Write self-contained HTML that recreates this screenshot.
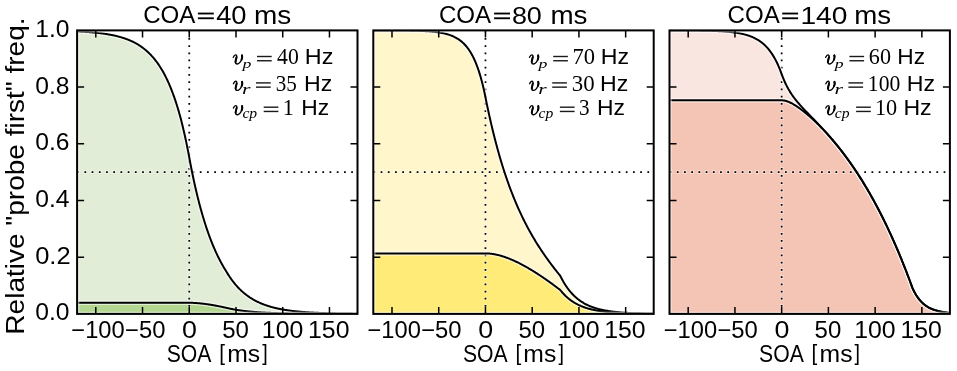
<!DOCTYPE html>
<html><head><meta charset="utf-8"><style>
html,body{margin:0;padding:0;background:#fff;}
svg{display:block;will-change:transform;}
text{font-family:"Liberation Sans",sans-serif;fill:#000;}
.t{font-size:24px;}
.tk{font-size:22px;}
.m{font-size:22px;}
.mi{font-family:"Liberation Serif",serif;font-style:italic;}
.sub{font-family:"Liberation Serif",serif;font-style:italic;font-size:15px;}
.mr{font-family:"Liberation Serif",serif;}
.hz{font-family:"Liberation Sans",sans-serif;}
</style></head><body>
<svg width="957" height="371" viewBox="0 0 957 371">
<clipPath id="c0"><rect x="77.10" y="30.40" width="280.40" height="283.50"/></clipPath>
<g clip-path="url(#c0)"><path d="M77.10,31.45 L77.57,31.47 L78.03,31.49 L78.50,31.51 L78.97,31.53 L79.44,31.56 L79.90,31.58 L80.37,31.60 L80.84,31.63 L81.31,31.65 L81.77,31.68 L82.24,31.70 L82.71,31.73 L83.18,31.76 L83.64,31.78 L84.11,31.81 L84.58,31.84 L85.04,31.87 L85.51,31.90 L85.98,31.93 L86.45,31.96 L86.91,31.99 L87.38,32.02 L87.85,32.06 L88.32,32.09 L88.78,32.12 L89.25,32.16 L89.72,32.20 L90.19,32.23 L90.65,32.27 L91.12,32.31 L91.59,32.34 L92.05,32.38 L92.52,32.42 L92.99,32.46 L93.46,32.51 L93.92,32.55 L94.39,32.59 L94.86,32.64 L95.33,32.68 L95.79,32.73 L96.26,32.78 L96.73,32.82 L97.20,32.87 L97.66,32.92 L98.13,32.97 L98.60,33.02 L99.06,33.08 L99.53,33.13 L100.00,33.19 L100.47,33.24 L100.93,33.30 L101.40,33.36 L101.87,33.42 L102.34,33.48 L102.80,33.54 L103.27,33.61 L103.74,33.67 L104.21,33.74 L104.67,33.80 L105.14,33.87 L105.61,33.94 L106.07,34.01 L106.54,34.09 L107.01,34.16 L107.48,34.24 L107.94,34.32 L108.41,34.40 L108.88,34.48 L109.35,34.56 L109.81,34.64 L110.28,34.73 L110.75,34.82 L111.22,34.90 L111.68,35.00 L112.15,35.09 L112.62,35.18 L113.08,35.28 L113.55,35.38 L114.02,35.48 L114.49,35.58 L114.95,35.69 L115.42,35.79 L115.89,35.90 L116.36,36.01 L116.82,36.13 L117.29,36.24 L117.76,36.36 L118.23,36.48 L118.69,36.60 L119.16,36.73 L119.63,36.86 L120.09,36.99 L120.56,37.12 L121.03,37.26 L121.50,37.39 L121.96,37.54 L122.43,37.68 L122.90,37.83 L123.37,37.98 L123.83,38.13 L124.30,38.29 L124.77,38.45 L125.24,38.61 L125.70,38.77 L126.17,38.94 L126.64,39.12 L127.10,39.29 L127.57,39.47 L128.04,39.65 L128.51,39.84 L128.97,40.03 L129.44,40.23 L129.91,40.42 L130.38,40.63 L130.84,40.83 L131.31,41.04 L131.78,41.26 L132.25,41.48 L132.71,41.70 L133.18,41.93 L133.65,42.16 L134.11,42.40 L134.58,42.64 L135.05,42.89 L135.52,43.14 L135.98,43.40 L136.45,43.66 L136.92,43.93 L137.39,44.21 L137.85,44.48 L138.32,44.77 L138.79,45.06 L139.26,45.36 L139.72,45.66 L140.19,45.97 L140.66,46.28 L141.12,46.60 L141.59,46.93 L142.06,47.26 L142.53,47.60 L142.99,47.95 L143.46,48.30 L143.93,48.67 L144.40,49.04 L144.86,49.41 L145.33,49.80 L145.80,50.19 L146.27,50.59 L146.73,51.00 L147.20,51.41 L147.67,51.84 L148.13,52.27 L148.60,52.71 L149.07,53.16 L149.54,53.62 L150.00,54.09 L150.47,54.57 L150.94,55.06 L151.41,55.56 L151.87,56.06 L152.34,56.58 L152.81,57.11 L153.28,57.65 L153.74,58.20 L154.21,58.76 L154.68,59.34 L155.14,59.92 L155.61,60.52 L156.08,61.12 L156.55,61.75 L157.01,62.38 L157.48,63.02 L157.95,63.68 L158.42,64.36 L158.88,65.04 L159.35,65.74 L159.82,66.46 L160.29,67.18 L160.75,67.93 L161.22,68.69 L161.69,69.46 L162.15,70.25 L162.62,71.05 L163.09,71.87 L163.56,72.71 L164.02,73.57 L164.49,74.44 L164.96,75.33 L165.43,76.24 L165.89,77.16 L166.36,78.11 L166.83,79.07 L167.30,80.05 L167.76,81.06 L168.23,82.08 L168.70,83.12 L169.16,84.19 L169.63,85.28 L170.10,86.38 L170.57,87.52 L171.03,88.67 L171.50,89.85 L171.97,91.05 L172.44,92.27 L172.90,93.52 L173.37,94.80 L173.84,96.10 L174.31,97.43 L174.77,98.78 L175.24,100.16 L175.71,101.57 L176.17,103.01 L176.64,104.47 L177.11,105.97 L177.58,107.50 L178.04,109.06 L178.51,110.64 L178.98,112.27 L179.45,113.92 L179.91,115.61 L180.38,117.33 L180.85,119.08 L181.32,120.87 L181.78,122.70 L182.25,124.57 L182.72,126.47 L183.18,128.41 L183.65,130.39 L184.12,132.41 L184.59,134.47 L185.05,136.57 L185.52,138.72 L185.99,140.91 L186.46,143.14 L186.92,145.42 L187.39,147.74 L187.86,150.11 L188.33,152.53 L188.79,155.00 L189.26,157.51 L189.73,160.03 L190.19,162.51 L190.66,164.95 L191.13,167.35 L191.60,169.71 L192.06,172.03 L192.53,174.32 L193.00,176.56 L193.47,178.77 L193.93,180.95 L194.40,183.09 L194.87,185.19 L195.34,187.26 L195.80,189.30 L196.27,191.30 L196.74,193.27 L197.20,195.21 L197.67,197.12 L198.14,198.99 L198.61,200.84 L199.07,202.66 L199.54,204.45 L200.01,206.20 L200.48,207.94 L200.94,209.64 L201.41,211.32 L201.88,212.97 L202.35,214.59 L202.81,216.19 L203.28,217.76 L203.75,219.31 L204.21,220.83 L204.68,222.33 L205.15,223.80 L205.62,225.26 L206.08,226.69 L206.55,228.09 L207.02,229.48 L207.49,230.84 L207.95,232.18 L208.42,233.51 L208.89,234.81 L209.36,236.09 L209.82,237.35 L210.29,238.59 L210.76,239.81 L211.22,241.02 L211.69,242.20 L212.16,243.37 L212.63,244.52 L213.09,245.65 L213.56,246.76 L214.03,247.86 L214.50,248.94 L214.96,250.01 L215.43,251.05 L215.90,252.09 L216.37,253.11 L216.83,254.11 L217.30,255.09 L217.77,256.07 L218.23,257.02 L218.70,257.97 L219.17,258.90 L219.64,259.81 L220.10,260.72 L220.57,261.61 L221.04,262.48 L221.51,263.35 L221.97,264.20 L222.44,265.04 L222.91,265.86 L223.38,266.68 L223.84,267.48 L224.31,268.27 L224.78,269.05 L225.24,269.82 L225.71,270.58 L226.18,271.33 L226.65,272.07 L227.11,272.84 L227.58,273.61 L228.05,274.36 L228.52,275.09 L228.98,275.81 L229.45,276.52 L229.92,277.21 L230.39,277.89 L230.85,278.56 L231.32,279.22 L231.79,279.86 L232.25,280.50 L232.72,281.12 L233.19,281.73 L233.66,282.32 L234.12,282.91 L234.59,283.49 L235.06,284.05 L235.53,284.60 L235.99,285.15 L236.46,285.68 L236.93,286.21 L237.40,286.72 L237.86,287.23 L238.33,287.72 L238.80,288.21 L239.26,288.69 L239.73,289.15 L240.20,289.61 L240.67,290.06 L241.13,290.51 L241.60,290.94 L242.07,291.37 L242.54,291.79 L243.00,292.20 L243.47,292.60 L243.94,293.00 L244.41,293.38 L244.87,293.77 L245.34,294.14 L245.81,294.51 L246.27,294.87 L246.74,295.22 L247.21,295.57 L247.68,295.91 L248.14,296.24 L248.61,296.57 L249.08,296.89 L249.55,297.21 L250.01,297.52 L250.48,297.82 L250.95,298.12 L251.42,298.41 L251.88,298.70 L252.35,298.98 L252.82,299.26 L253.28,299.53 L253.75,299.80 L254.22,300.06 L254.69,300.32 L255.15,300.57 L255.62,300.82 L256.09,301.06 L256.56,301.30 L257.02,301.53 L257.49,301.76 L257.96,301.99 L258.43,302.21 L258.89,302.43 L259.36,302.64 L259.83,302.85 L260.29,303.06 L260.76,303.26 L261.23,303.45 L261.70,303.65 L262.16,303.84 L262.63,304.03 L263.10,304.21 L263.57,304.39 L264.03,304.57 L264.50,304.74 L264.97,304.91 L265.44,305.08 L265.90,305.24 L266.37,305.40 L266.84,305.56 L267.30,305.71 L267.77,305.87 L268.24,306.02 L268.71,306.16 L269.17,306.31 L269.64,306.45 L270.11,306.58 L270.58,306.72 L271.04,306.85 L271.51,306.99 L271.98,307.11 L272.45,307.24 L272.91,307.36 L273.38,307.48 L273.85,307.60 L274.31,307.72 L274.78,307.84 L275.25,307.95 L275.72,308.06 L276.18,308.17 L276.65,308.27 L277.12,308.38 L277.59,308.48 L278.05,308.58 L278.52,308.68 L278.99,308.78 L279.46,308.87 L279.92,308.97 L280.39,309.06 L280.86,309.15 L281.32,309.24 L281.79,309.32 L282.26,309.41 L282.73,309.49 L283.19,309.57 L283.66,309.65 L284.13,309.73 L284.60,309.81 L285.06,309.89 L285.53,309.96 L286.00,310.03 L286.47,310.11 L286.93,310.18 L287.40,310.24 L287.87,310.31 L288.33,310.38 L288.80,310.44 L289.27,310.51 L289.74,310.57 L290.20,310.63 L290.67,310.69 L291.14,310.75 L291.61,310.81 L292.07,310.87 L292.54,310.93 L293.01,310.98 L293.48,311.04 L293.94,311.09 L294.41,311.14 L294.88,311.19 L295.34,311.24 L295.81,311.29 L296.28,311.34 L296.75,311.39 L297.21,311.43 L297.68,311.48 L298.15,311.53 L298.62,311.57 L299.08,311.61 L299.55,311.66 L300.02,311.70 L300.49,311.74 L300.95,311.78 L301.42,311.82 L301.89,311.86 L302.35,311.89 L302.82,311.93 L303.29,311.97 L303.76,312.00 L304.22,312.04 L304.69,312.07 L305.16,312.11 L305.63,312.14 L306.09,312.17 L306.56,312.21 L307.03,312.24 L307.50,312.27 L307.96,312.30 L308.43,312.33 L308.90,312.36 L309.36,312.39 L309.83,312.41 L310.30,312.44 L310.77,312.47 L311.23,312.50 L311.70,312.52 L312.17,312.55 L312.64,312.57 L313.10,312.60 L313.57,312.62 L314.04,312.64 L314.51,312.67 L314.97,312.69 L315.44,312.71 L315.91,312.74 L316.37,312.76 L316.84,312.78 L317.31,312.80 L317.78,312.82 L318.24,312.84 L318.71,312.86 L319.18,312.88 L319.65,312.90 L320.11,312.92 L320.58,312.93 L321.05,312.95 L321.52,312.97 L321.98,312.99 L322.45,313.00 L322.92,313.02 L323.38,313.04 L323.85,313.05 L324.32,313.07 L324.79,313.08 L325.25,313.10 L325.72,313.11 L326.19,313.13 L326.66,313.14 L327.12,313.16 L327.59,313.17 L328.06,313.18 L328.53,313.20 L328.99,313.21 L329.46,313.22 L329.93,313.24 L330.39,313.25 L330.86,313.26 L331.33,313.27 L331.80,313.28 L332.26,313.30 L332.73,313.31 L333.20,313.32 L333.67,313.33 L334.13,313.34 L334.60,313.35 L335.07,313.36 L335.54,313.37 L336.00,313.38 L336.47,313.39 L336.94,313.40 L337.40,313.41 L337.87,313.42 L338.34,313.43 L338.81,313.44 L339.27,313.44 L339.74,313.45 L340.21,313.46 L340.68,313.47 L341.14,313.48 L341.61,313.48 L342.08,313.49 L342.55,313.50 L343.01,313.51 L343.48,313.51 L343.95,313.52 L344.41,313.53 L344.88,313.54 L345.35,313.54 L345.82,313.55 L346.28,313.56 L346.75,313.56 L347.22,313.57 L347.69,313.57 L348.15,313.58 L348.62,313.59 L349.09,313.59 L349.56,313.60 L350.02,313.60 L350.49,313.61 L350.96,313.61 L351.42,313.62 L351.89,313.63 L352.36,313.63 L352.83,313.64 L353.29,313.64 L353.76,313.64 L354.23,313.65 L354.70,313.65 L355.16,313.66 L355.63,313.66 L356.10,313.67 L356.57,313.67 L357.03,313.68 L357.50,313.68 L357.50,313.90 L77.10,313.90 Z" fill="#e1edd6"/><path d="M77.10,302.78 L77.57,302.78 L78.03,302.78 L78.50,302.78 L78.97,302.78 L79.44,302.78 L79.90,302.78 L80.37,302.78 L80.84,302.78 L81.31,302.78 L81.77,302.78 L82.24,302.78 L82.71,302.78 L83.18,302.78 L83.64,302.78 L84.11,302.78 L84.58,302.78 L85.04,302.78 L85.51,302.78 L85.98,302.78 L86.45,302.78 L86.91,302.78 L87.38,302.78 L87.85,302.78 L88.32,302.78 L88.78,302.78 L89.25,302.78 L89.72,302.78 L90.19,302.78 L90.65,302.78 L91.12,302.78 L91.59,302.78 L92.05,302.78 L92.52,302.78 L92.99,302.78 L93.46,302.78 L93.92,302.78 L94.39,302.78 L94.86,302.78 L95.33,302.78 L95.79,302.78 L96.26,302.78 L96.73,302.78 L97.20,302.78 L97.66,302.78 L98.13,302.78 L98.60,302.78 L99.06,302.78 L99.53,302.78 L100.00,302.78 L100.47,302.78 L100.93,302.78 L101.40,302.78 L101.87,302.78 L102.34,302.78 L102.80,302.78 L103.27,302.78 L103.74,302.78 L104.21,302.78 L104.67,302.78 L105.14,302.78 L105.61,302.78 L106.07,302.78 L106.54,302.78 L107.01,302.78 L107.48,302.78 L107.94,302.78 L108.41,302.78 L108.88,302.78 L109.35,302.78 L109.81,302.78 L110.28,302.78 L110.75,302.78 L111.22,302.78 L111.68,302.78 L112.15,302.78 L112.62,302.78 L113.08,302.78 L113.55,302.78 L114.02,302.78 L114.49,302.78 L114.95,302.78 L115.42,302.78 L115.89,302.78 L116.36,302.78 L116.82,302.78 L117.29,302.78 L117.76,302.78 L118.23,302.78 L118.69,302.78 L119.16,302.78 L119.63,302.78 L120.09,302.78 L120.56,302.78 L121.03,302.78 L121.50,302.78 L121.96,302.78 L122.43,302.78 L122.90,302.78 L123.37,302.78 L123.83,302.78 L124.30,302.78 L124.77,302.78 L125.24,302.78 L125.70,302.78 L126.17,302.78 L126.64,302.78 L127.10,302.78 L127.57,302.78 L128.04,302.78 L128.51,302.78 L128.97,302.78 L129.44,302.78 L129.91,302.78 L130.38,302.78 L130.84,302.78 L131.31,302.78 L131.78,302.78 L132.25,302.78 L132.71,302.78 L133.18,302.78 L133.65,302.78 L134.11,302.78 L134.58,302.78 L135.05,302.78 L135.52,302.78 L135.98,302.78 L136.45,302.78 L136.92,302.78 L137.39,302.78 L137.85,302.78 L138.32,302.78 L138.79,302.78 L139.26,302.78 L139.72,302.78 L140.19,302.78 L140.66,302.78 L141.12,302.78 L141.59,302.78 L142.06,302.78 L142.53,302.78 L142.99,302.78 L143.46,302.78 L143.93,302.78 L144.40,302.78 L144.86,302.78 L145.33,302.78 L145.80,302.78 L146.27,302.78 L146.73,302.78 L147.20,302.78 L147.67,302.78 L148.13,302.78 L148.60,302.78 L149.07,302.78 L149.54,302.78 L150.00,302.78 L150.47,302.78 L150.94,302.78 L151.41,302.78 L151.87,302.78 L152.34,302.78 L152.81,302.78 L153.28,302.78 L153.74,302.78 L154.21,302.78 L154.68,302.78 L155.14,302.78 L155.61,302.78 L156.08,302.78 L156.55,302.78 L157.01,302.78 L157.48,302.78 L157.95,302.78 L158.42,302.78 L158.88,302.78 L159.35,302.78 L159.82,302.78 L160.29,302.78 L160.75,302.78 L161.22,302.78 L161.69,302.78 L162.15,302.78 L162.62,302.78 L163.09,302.78 L163.56,302.78 L164.02,302.78 L164.49,302.78 L164.96,302.78 L165.43,302.78 L165.89,302.78 L166.36,302.78 L166.83,302.78 L167.30,302.78 L167.76,302.78 L168.23,302.78 L168.70,302.78 L169.16,302.78 L169.63,302.78 L170.10,302.78 L170.57,302.78 L171.03,302.78 L171.50,302.78 L171.97,302.78 L172.44,302.78 L172.90,302.78 L173.37,302.78 L173.84,302.78 L174.31,302.78 L174.77,302.78 L175.24,302.78 L175.71,302.78 L176.17,302.78 L176.64,302.78 L177.11,302.78 L177.58,302.78 L178.04,302.78 L178.51,302.78 L178.98,302.78 L179.45,302.78 L179.91,302.78 L180.38,302.78 L180.85,302.78 L181.32,302.78 L181.78,302.78 L182.25,302.78 L182.72,302.78 L183.18,302.78 L183.65,302.78 L184.12,302.78 L184.59,302.78 L185.05,302.78 L185.52,302.78 L185.99,302.78 L186.46,302.78 L186.92,302.78 L187.39,302.78 L187.86,302.78 L188.33,302.78 L188.79,302.78 L189.26,302.78 L189.73,302.78 L190.19,302.79 L190.66,302.79 L191.13,302.80 L191.60,302.81 L192.06,302.83 L192.53,302.84 L193.00,302.86 L193.47,302.88 L193.93,302.90 L194.40,302.92 L194.87,302.94 L195.34,302.97 L195.80,303.00 L196.27,303.03 L196.74,303.06 L197.20,303.10 L197.67,303.13 L198.14,303.17 L198.61,303.21 L199.07,303.25 L199.54,303.30 L200.01,303.34 L200.48,303.39 L200.94,303.43 L201.41,303.48 L201.88,303.53 L202.35,303.59 L202.81,303.64 L203.28,303.70 L203.75,303.75 L204.21,303.81 L204.68,303.87 L205.15,303.93 L205.62,303.99 L206.08,304.06 L206.55,304.12 L207.02,304.19 L207.49,304.26 L207.95,304.32 L208.42,304.39 L208.89,304.47 L209.36,304.54 L209.82,304.61 L210.29,304.69 L210.76,304.76 L211.22,304.84 L211.69,304.92 L212.16,305.00 L212.63,305.08 L213.09,305.16 L213.56,305.24 L214.03,305.32 L214.50,305.41 L214.96,305.49 L215.43,305.58 L215.90,305.66 L216.37,305.75 L216.83,305.84 L217.30,305.93 L217.77,306.02 L218.23,306.11 L218.70,306.20 L219.17,306.30 L219.64,306.39 L220.10,306.49 L220.57,306.58 L221.04,306.68 L221.51,306.78 L221.97,306.87 L222.44,306.97 L222.91,307.07 L223.38,307.17 L223.84,307.27 L224.31,307.37 L224.78,307.48 L225.24,307.58 L225.71,307.68 L226.18,307.79 L226.65,307.89 L227.11,308.00 L227.58,308.11 L228.05,308.22 L228.52,308.33 L228.98,308.43 L229.45,308.53 L229.92,308.63 L230.39,308.73 L230.85,308.82 L231.32,308.92 L231.79,309.01 L232.25,309.10 L232.72,309.19 L233.19,309.28 L233.66,309.36 L234.12,309.45 L234.59,309.53 L235.06,309.61 L235.53,309.69 L235.99,309.77 L236.46,309.85 L236.93,309.92 L237.40,310.00 L237.86,310.07 L238.33,310.14 L238.80,310.21 L239.26,310.28 L239.73,310.35 L240.20,310.41 L240.67,310.48 L241.13,310.54 L241.60,310.60 L242.07,310.66 L242.54,310.72 L243.00,310.78 L243.47,310.84 L243.94,310.90 L244.41,310.95 L244.87,311.01 L245.34,311.06 L245.81,311.11 L246.27,311.17 L246.74,311.22 L247.21,311.27 L247.68,311.32 L248.14,311.36 L248.61,311.41 L249.08,311.46 L249.55,311.50 L250.01,311.55 L250.48,311.59 L250.95,311.63 L251.42,311.68 L251.88,311.72 L252.35,311.76 L252.82,311.80 L253.28,311.84 L253.75,311.87 L254.22,311.91 L254.69,311.95 L255.15,311.99 L255.62,312.02 L256.09,312.06 L256.56,312.09 L257.02,312.12 L257.49,312.16 L257.96,312.19 L258.43,312.22 L258.89,312.25 L259.36,312.28 L259.83,312.31 L260.29,312.34 L260.76,312.37 L261.23,312.40 L261.70,312.43 L262.16,312.45 L262.63,312.48 L263.10,312.51 L263.57,312.53 L264.03,312.56 L264.50,312.58 L264.97,312.61 L265.44,312.63 L265.90,312.66 L266.37,312.68 L266.84,312.70 L267.30,312.72 L267.77,312.75 L268.24,312.77 L268.71,312.79 L269.17,312.81 L269.64,312.83 L270.11,312.85 L270.58,312.87 L271.04,312.89 L271.51,312.91 L271.98,312.93 L272.45,312.94 L272.91,312.96 L273.38,312.98 L273.85,313.00 L274.31,313.01 L274.78,313.03 L275.25,313.05 L275.72,313.06 L276.18,313.08 L276.65,313.09 L277.12,313.11 L277.59,313.12 L278.05,313.14 L278.52,313.15 L278.99,313.16 L279.46,313.18 L279.92,313.19 L280.39,313.20 L280.86,313.22 L281.32,313.23 L281.79,313.24 L282.26,313.25 L282.73,313.27 L283.19,313.28 L283.66,313.29 L284.13,313.30 L284.60,313.31 L285.06,313.32 L285.53,313.33 L286.00,313.34 L286.47,313.35 L286.93,313.36 L287.40,313.37 L287.87,313.38 L288.33,313.39 L288.80,313.40 L289.27,313.41 L289.74,313.42 L290.20,313.43 L290.67,313.44 L291.14,313.45 L291.61,313.46 L292.07,313.46 L292.54,313.47 L293.01,313.48 L293.48,313.49 L293.94,313.50 L294.41,313.50 L294.88,313.51 L295.34,313.52 L295.81,313.53 L296.28,313.53 L296.75,313.54 L297.21,313.55 L297.68,313.55 L298.15,313.56 L298.62,313.57 L299.08,313.57 L299.55,313.58 L300.02,313.58 L300.49,313.59 L300.95,313.60 L301.42,313.60 L301.89,313.61 L302.35,313.61 L302.82,313.62 L303.29,313.62 L303.76,313.63 L304.22,313.63 L304.69,313.64 L305.16,313.64 L305.63,313.65 L306.09,313.65 L306.56,313.66 L307.03,313.66 L307.50,313.67 L307.96,313.67 L308.43,313.67 L308.90,313.68 L309.36,313.68 L309.83,313.69 L310.30,313.69 L310.77,313.69 L311.23,313.70 L311.70,313.70 L312.17,313.71 L312.64,313.71 L313.10,313.71 L313.57,313.72 L314.04,313.72 L314.51,313.72 L314.97,313.73 L315.44,313.73 L315.91,313.73 L316.37,313.74 L316.84,313.74 L317.31,313.74 L317.78,313.74 L318.24,313.75 L318.71,313.75 L319.18,313.75 L319.65,313.76 L320.11,313.76 L320.58,313.76 L321.05,313.76 L321.52,313.77 L321.98,313.77 L322.45,313.77 L322.92,313.77 L323.38,313.78 L323.85,313.78 L324.32,313.78 L324.79,313.78 L325.25,313.79 L325.72,313.79 L326.19,313.79 L326.66,313.79 L327.12,313.79 L327.59,313.80 L328.06,313.80 L328.53,313.80 L328.99,313.80 L329.46,313.80 L329.93,313.80 L330.39,313.81 L330.86,313.81 L331.33,313.81 L331.80,313.81 L332.26,313.81 L332.73,313.81 L333.20,313.82 L333.67,313.82 L334.13,313.82 L334.60,313.82 L335.07,313.82 L335.54,313.82 L336.00,313.83 L336.47,313.83 L336.94,313.83 L337.40,313.83 L337.87,313.83 L338.34,313.83 L338.81,313.83 L339.27,313.83 L339.74,313.84 L340.21,313.84 L340.68,313.84 L341.14,313.84 L341.61,313.84 L342.08,313.84 L342.55,313.84 L343.01,313.84 L343.48,313.84 L343.95,313.85 L344.41,313.85 L344.88,313.85 L345.35,313.85 L345.82,313.85 L346.28,313.85 L346.75,313.85 L347.22,313.85 L347.69,313.85 L348.15,313.85 L348.62,313.85 L349.09,313.86 L349.56,313.86 L350.02,313.86 L350.49,313.86 L350.96,313.86 L351.42,313.86 L351.89,313.86 L352.36,313.86 L352.83,313.86 L353.29,313.86 L353.76,313.86 L354.23,313.86 L354.70,313.86 L355.16,313.87 L355.63,313.87 L356.10,313.87 L356.57,313.87 L357.03,313.87 L357.50,313.87 L357.50,313.90 L77.10,313.90 Z" fill="#b3d690"/><line x1="189.26" y1="30.40" x2="189.26" y2="313.90" stroke="#fff" stroke-opacity="0.45" stroke-width="3.6" stroke-dasharray="3.6 3.62" stroke-dashoffset="0.6"/><line x1="77.10" y1="172.15" x2="357.50" y2="172.15" stroke="#fff" stroke-opacity="0.45" stroke-width="3.6" stroke-dasharray="3.6 3.61" stroke-dashoffset="0.8"/><line x1="189.26" y1="30.40" x2="189.26" y2="313.90" stroke="#000" stroke-width="1.75" stroke-dasharray="1.75 5.47" stroke-dashoffset="-0.32"/><line x1="77.10" y1="172.15" x2="357.50" y2="172.15" stroke="#000" stroke-width="1.75" stroke-dasharray="1.75 5.46" stroke-dashoffset="-0.12"/><path d="M77.10,31.45 L77.57,31.47 L78.03,31.49 L78.50,31.51 L78.97,31.53 L79.44,31.56 L79.90,31.58 L80.37,31.60 L80.84,31.63 L81.31,31.65 L81.77,31.68 L82.24,31.70 L82.71,31.73 L83.18,31.76 L83.64,31.78 L84.11,31.81 L84.58,31.84 L85.04,31.87 L85.51,31.90 L85.98,31.93 L86.45,31.96 L86.91,31.99 L87.38,32.02 L87.85,32.06 L88.32,32.09 L88.78,32.12 L89.25,32.16 L89.72,32.20 L90.19,32.23 L90.65,32.27 L91.12,32.31 L91.59,32.34 L92.05,32.38 L92.52,32.42 L92.99,32.46 L93.46,32.51 L93.92,32.55 L94.39,32.59 L94.86,32.64 L95.33,32.68 L95.79,32.73 L96.26,32.78 L96.73,32.82 L97.20,32.87 L97.66,32.92 L98.13,32.97 L98.60,33.02 L99.06,33.08 L99.53,33.13 L100.00,33.19 L100.47,33.24 L100.93,33.30 L101.40,33.36 L101.87,33.42 L102.34,33.48 L102.80,33.54 L103.27,33.61 L103.74,33.67 L104.21,33.74 L104.67,33.80 L105.14,33.87 L105.61,33.94 L106.07,34.01 L106.54,34.09 L107.01,34.16 L107.48,34.24 L107.94,34.32 L108.41,34.40 L108.88,34.48 L109.35,34.56 L109.81,34.64 L110.28,34.73 L110.75,34.82 L111.22,34.90 L111.68,35.00 L112.15,35.09 L112.62,35.18 L113.08,35.28 L113.55,35.38 L114.02,35.48 L114.49,35.58 L114.95,35.69 L115.42,35.79 L115.89,35.90 L116.36,36.01 L116.82,36.13 L117.29,36.24 L117.76,36.36 L118.23,36.48 L118.69,36.60 L119.16,36.73 L119.63,36.86 L120.09,36.99 L120.56,37.12 L121.03,37.26 L121.50,37.39 L121.96,37.54 L122.43,37.68 L122.90,37.83 L123.37,37.98 L123.83,38.13 L124.30,38.29 L124.77,38.45 L125.24,38.61 L125.70,38.77 L126.17,38.94 L126.64,39.12 L127.10,39.29 L127.57,39.47 L128.04,39.65 L128.51,39.84 L128.97,40.03 L129.44,40.23 L129.91,40.42 L130.38,40.63 L130.84,40.83 L131.31,41.04 L131.78,41.26 L132.25,41.48 L132.71,41.70 L133.18,41.93 L133.65,42.16 L134.11,42.40 L134.58,42.64 L135.05,42.89 L135.52,43.14 L135.98,43.40 L136.45,43.66 L136.92,43.93 L137.39,44.21 L137.85,44.48 L138.32,44.77 L138.79,45.06 L139.26,45.36 L139.72,45.66 L140.19,45.97 L140.66,46.28 L141.12,46.60 L141.59,46.93 L142.06,47.26 L142.53,47.60 L142.99,47.95 L143.46,48.30 L143.93,48.67 L144.40,49.04 L144.86,49.41 L145.33,49.80 L145.80,50.19 L146.27,50.59 L146.73,51.00 L147.20,51.41 L147.67,51.84 L148.13,52.27 L148.60,52.71 L149.07,53.16 L149.54,53.62 L150.00,54.09 L150.47,54.57 L150.94,55.06 L151.41,55.56 L151.87,56.06 L152.34,56.58 L152.81,57.11 L153.28,57.65 L153.74,58.20 L154.21,58.76 L154.68,59.34 L155.14,59.92 L155.61,60.52 L156.08,61.12 L156.55,61.75 L157.01,62.38 L157.48,63.02 L157.95,63.68 L158.42,64.36 L158.88,65.04 L159.35,65.74 L159.82,66.46 L160.29,67.18 L160.75,67.93 L161.22,68.69 L161.69,69.46 L162.15,70.25 L162.62,71.05 L163.09,71.87 L163.56,72.71 L164.02,73.57 L164.49,74.44 L164.96,75.33 L165.43,76.24 L165.89,77.16 L166.36,78.11 L166.83,79.07 L167.30,80.05 L167.76,81.06 L168.23,82.08 L168.70,83.12 L169.16,84.19 L169.63,85.28 L170.10,86.38 L170.57,87.52 L171.03,88.67 L171.50,89.85 L171.97,91.05 L172.44,92.27 L172.90,93.52 L173.37,94.80 L173.84,96.10 L174.31,97.43 L174.77,98.78 L175.24,100.16 L175.71,101.57 L176.17,103.01 L176.64,104.47 L177.11,105.97 L177.58,107.50 L178.04,109.06 L178.51,110.64 L178.98,112.27 L179.45,113.92 L179.91,115.61 L180.38,117.33 L180.85,119.08 L181.32,120.87 L181.78,122.70 L182.25,124.57 L182.72,126.47 L183.18,128.41 L183.65,130.39 L184.12,132.41 L184.59,134.47 L185.05,136.57 L185.52,138.72 L185.99,140.91 L186.46,143.14 L186.92,145.42 L187.39,147.74 L187.86,150.11 L188.33,152.53 L188.79,155.00 L189.26,157.51 L189.73,160.03 L190.19,162.51 L190.66,164.95 L191.13,167.35 L191.60,169.71 L192.06,172.03 L192.53,174.32 L193.00,176.56 L193.47,178.77 L193.93,180.95 L194.40,183.09 L194.87,185.19 L195.34,187.26 L195.80,189.30 L196.27,191.30 L196.74,193.27 L197.20,195.21 L197.67,197.12 L198.14,198.99 L198.61,200.84 L199.07,202.66 L199.54,204.45 L200.01,206.20 L200.48,207.94 L200.94,209.64 L201.41,211.32 L201.88,212.97 L202.35,214.59 L202.81,216.19 L203.28,217.76 L203.75,219.31 L204.21,220.83 L204.68,222.33 L205.15,223.80 L205.62,225.26 L206.08,226.69 L206.55,228.09 L207.02,229.48 L207.49,230.84 L207.95,232.18 L208.42,233.51 L208.89,234.81 L209.36,236.09 L209.82,237.35 L210.29,238.59 L210.76,239.81 L211.22,241.02 L211.69,242.20 L212.16,243.37 L212.63,244.52 L213.09,245.65 L213.56,246.76 L214.03,247.86 L214.50,248.94 L214.96,250.01 L215.43,251.05 L215.90,252.09 L216.37,253.11 L216.83,254.11 L217.30,255.09 L217.77,256.07 L218.23,257.02 L218.70,257.97 L219.17,258.90 L219.64,259.81 L220.10,260.72 L220.57,261.61 L221.04,262.48 L221.51,263.35 L221.97,264.20 L222.44,265.04 L222.91,265.86 L223.38,266.68 L223.84,267.48 L224.31,268.27 L224.78,269.05 L225.24,269.82 L225.71,270.58 L226.18,271.33 L226.65,272.07 L227.11,272.84 L227.58,273.61 L228.05,274.36 L228.52,275.09 L228.98,275.81 L229.45,276.52 L229.92,277.21 L230.39,277.89 L230.85,278.56 L231.32,279.22 L231.79,279.86 L232.25,280.50 L232.72,281.12 L233.19,281.73 L233.66,282.32 L234.12,282.91 L234.59,283.49 L235.06,284.05 L235.53,284.60 L235.99,285.15 L236.46,285.68 L236.93,286.21 L237.40,286.72 L237.86,287.23 L238.33,287.72 L238.80,288.21 L239.26,288.69 L239.73,289.15 L240.20,289.61 L240.67,290.06 L241.13,290.51 L241.60,290.94 L242.07,291.37 L242.54,291.79 L243.00,292.20 L243.47,292.60 L243.94,293.00 L244.41,293.38 L244.87,293.77 L245.34,294.14 L245.81,294.51 L246.27,294.87 L246.74,295.22 L247.21,295.57 L247.68,295.91 L248.14,296.24 L248.61,296.57 L249.08,296.89 L249.55,297.21 L250.01,297.52 L250.48,297.82 L250.95,298.12 L251.42,298.41 L251.88,298.70 L252.35,298.98 L252.82,299.26 L253.28,299.53 L253.75,299.80 L254.22,300.06 L254.69,300.32 L255.15,300.57 L255.62,300.82 L256.09,301.06 L256.56,301.30 L257.02,301.53 L257.49,301.76 L257.96,301.99 L258.43,302.21 L258.89,302.43 L259.36,302.64 L259.83,302.85 L260.29,303.06 L260.76,303.26 L261.23,303.45 L261.70,303.65 L262.16,303.84 L262.63,304.03 L263.10,304.21 L263.57,304.39 L264.03,304.57 L264.50,304.74 L264.97,304.91 L265.44,305.08 L265.90,305.24 L266.37,305.40 L266.84,305.56 L267.30,305.71 L267.77,305.87 L268.24,306.02 L268.71,306.16 L269.17,306.31 L269.64,306.45 L270.11,306.58 L270.58,306.72 L271.04,306.85 L271.51,306.99 L271.98,307.11 L272.45,307.24 L272.91,307.36 L273.38,307.48 L273.85,307.60 L274.31,307.72 L274.78,307.84 L275.25,307.95 L275.72,308.06 L276.18,308.17 L276.65,308.27 L277.12,308.38 L277.59,308.48 L278.05,308.58 L278.52,308.68 L278.99,308.78 L279.46,308.87 L279.92,308.97 L280.39,309.06 L280.86,309.15 L281.32,309.24 L281.79,309.32 L282.26,309.41 L282.73,309.49 L283.19,309.57 L283.66,309.65 L284.13,309.73 L284.60,309.81 L285.06,309.89 L285.53,309.96 L286.00,310.03 L286.47,310.11 L286.93,310.18 L287.40,310.24 L287.87,310.31 L288.33,310.38 L288.80,310.44 L289.27,310.51 L289.74,310.57 L290.20,310.63 L290.67,310.69 L291.14,310.75 L291.61,310.81 L292.07,310.87 L292.54,310.93 L293.01,310.98 L293.48,311.04 L293.94,311.09 L294.41,311.14 L294.88,311.19 L295.34,311.24 L295.81,311.29 L296.28,311.34 L296.75,311.39 L297.21,311.43 L297.68,311.48 L298.15,311.53 L298.62,311.57 L299.08,311.61 L299.55,311.66 L300.02,311.70 L300.49,311.74 L300.95,311.78 L301.42,311.82 L301.89,311.86 L302.35,311.89 L302.82,311.93 L303.29,311.97 L303.76,312.00 L304.22,312.04 L304.69,312.07 L305.16,312.11 L305.63,312.14 L306.09,312.17 L306.56,312.21 L307.03,312.24 L307.50,312.27 L307.96,312.30 L308.43,312.33 L308.90,312.36 L309.36,312.39 L309.83,312.41 L310.30,312.44 L310.77,312.47 L311.23,312.50 L311.70,312.52 L312.17,312.55 L312.64,312.57 L313.10,312.60 L313.57,312.62 L314.04,312.64 L314.51,312.67 L314.97,312.69 L315.44,312.71 L315.91,312.74 L316.37,312.76 L316.84,312.78 L317.31,312.80 L317.78,312.82 L318.24,312.84 L318.71,312.86 L319.18,312.88 L319.65,312.90 L320.11,312.92 L320.58,312.93 L321.05,312.95 L321.52,312.97 L321.98,312.99 L322.45,313.00 L322.92,313.02 L323.38,313.04 L323.85,313.05 L324.32,313.07 L324.79,313.08 L325.25,313.10 L325.72,313.11 L326.19,313.13 L326.66,313.14 L327.12,313.16 L327.59,313.17 L328.06,313.18 L328.53,313.20 L328.99,313.21 L329.46,313.22 L329.93,313.24 L330.39,313.25 L330.86,313.26 L331.33,313.27 L331.80,313.28 L332.26,313.30 L332.73,313.31 L333.20,313.32 L333.67,313.33 L334.13,313.34 L334.60,313.35 L335.07,313.36 L335.54,313.37 L336.00,313.38 L336.47,313.39 L336.94,313.40 L337.40,313.41 L337.87,313.42 L338.34,313.43 L338.81,313.44 L339.27,313.44 L339.74,313.45 L340.21,313.46 L340.68,313.47 L341.14,313.48 L341.61,313.48 L342.08,313.49 L342.55,313.50 L343.01,313.51 L343.48,313.51 L343.95,313.52 L344.41,313.53 L344.88,313.54 L345.35,313.54 L345.82,313.55 L346.28,313.56 L346.75,313.56 L347.22,313.57 L347.69,313.57 L348.15,313.58 L348.62,313.59 L349.09,313.59 L349.56,313.60 L350.02,313.60 L350.49,313.61 L350.96,313.61 L351.42,313.62 L351.89,313.63 L352.36,313.63 L352.83,313.64 L353.29,313.64 L353.76,313.64 L354.23,313.65 L354.70,313.65 L355.16,313.66 L355.63,313.66 L356.10,313.67 L356.57,313.67 L357.03,313.68 L357.50,313.68" fill="none" stroke="#fff" stroke-opacity="0.60" stroke-width="4.60"/><path d="M77.10,302.78 L77.57,302.78 L78.03,302.78 L78.50,302.78 L78.97,302.78 L79.44,302.78 L79.90,302.78 L80.37,302.78 L80.84,302.78 L81.31,302.78 L81.77,302.78 L82.24,302.78 L82.71,302.78 L83.18,302.78 L83.64,302.78 L84.11,302.78 L84.58,302.78 L85.04,302.78 L85.51,302.78 L85.98,302.78 L86.45,302.78 L86.91,302.78 L87.38,302.78 L87.85,302.78 L88.32,302.78 L88.78,302.78 L89.25,302.78 L89.72,302.78 L90.19,302.78 L90.65,302.78 L91.12,302.78 L91.59,302.78 L92.05,302.78 L92.52,302.78 L92.99,302.78 L93.46,302.78 L93.92,302.78 L94.39,302.78 L94.86,302.78 L95.33,302.78 L95.79,302.78 L96.26,302.78 L96.73,302.78 L97.20,302.78 L97.66,302.78 L98.13,302.78 L98.60,302.78 L99.06,302.78 L99.53,302.78 L100.00,302.78 L100.47,302.78 L100.93,302.78 L101.40,302.78 L101.87,302.78 L102.34,302.78 L102.80,302.78 L103.27,302.78 L103.74,302.78 L104.21,302.78 L104.67,302.78 L105.14,302.78 L105.61,302.78 L106.07,302.78 L106.54,302.78 L107.01,302.78 L107.48,302.78 L107.94,302.78 L108.41,302.78 L108.88,302.78 L109.35,302.78 L109.81,302.78 L110.28,302.78 L110.75,302.78 L111.22,302.78 L111.68,302.78 L112.15,302.78 L112.62,302.78 L113.08,302.78 L113.55,302.78 L114.02,302.78 L114.49,302.78 L114.95,302.78 L115.42,302.78 L115.89,302.78 L116.36,302.78 L116.82,302.78 L117.29,302.78 L117.76,302.78 L118.23,302.78 L118.69,302.78 L119.16,302.78 L119.63,302.78 L120.09,302.78 L120.56,302.78 L121.03,302.78 L121.50,302.78 L121.96,302.78 L122.43,302.78 L122.90,302.78 L123.37,302.78 L123.83,302.78 L124.30,302.78 L124.77,302.78 L125.24,302.78 L125.70,302.78 L126.17,302.78 L126.64,302.78 L127.10,302.78 L127.57,302.78 L128.04,302.78 L128.51,302.78 L128.97,302.78 L129.44,302.78 L129.91,302.78 L130.38,302.78 L130.84,302.78 L131.31,302.78 L131.78,302.78 L132.25,302.78 L132.71,302.78 L133.18,302.78 L133.65,302.78 L134.11,302.78 L134.58,302.78 L135.05,302.78 L135.52,302.78 L135.98,302.78 L136.45,302.78 L136.92,302.78 L137.39,302.78 L137.85,302.78 L138.32,302.78 L138.79,302.78 L139.26,302.78 L139.72,302.78 L140.19,302.78 L140.66,302.78 L141.12,302.78 L141.59,302.78 L142.06,302.78 L142.53,302.78 L142.99,302.78 L143.46,302.78 L143.93,302.78 L144.40,302.78 L144.86,302.78 L145.33,302.78 L145.80,302.78 L146.27,302.78 L146.73,302.78 L147.20,302.78 L147.67,302.78 L148.13,302.78 L148.60,302.78 L149.07,302.78 L149.54,302.78 L150.00,302.78 L150.47,302.78 L150.94,302.78 L151.41,302.78 L151.87,302.78 L152.34,302.78 L152.81,302.78 L153.28,302.78 L153.74,302.78 L154.21,302.78 L154.68,302.78 L155.14,302.78 L155.61,302.78 L156.08,302.78 L156.55,302.78 L157.01,302.78 L157.48,302.78 L157.95,302.78 L158.42,302.78 L158.88,302.78 L159.35,302.78 L159.82,302.78 L160.29,302.78 L160.75,302.78 L161.22,302.78 L161.69,302.78 L162.15,302.78 L162.62,302.78 L163.09,302.78 L163.56,302.78 L164.02,302.78 L164.49,302.78 L164.96,302.78 L165.43,302.78 L165.89,302.78 L166.36,302.78 L166.83,302.78 L167.30,302.78 L167.76,302.78 L168.23,302.78 L168.70,302.78 L169.16,302.78 L169.63,302.78 L170.10,302.78 L170.57,302.78 L171.03,302.78 L171.50,302.78 L171.97,302.78 L172.44,302.78 L172.90,302.78 L173.37,302.78 L173.84,302.78 L174.31,302.78 L174.77,302.78 L175.24,302.78 L175.71,302.78 L176.17,302.78 L176.64,302.78 L177.11,302.78 L177.58,302.78 L178.04,302.78 L178.51,302.78 L178.98,302.78 L179.45,302.78 L179.91,302.78 L180.38,302.78 L180.85,302.78 L181.32,302.78 L181.78,302.78 L182.25,302.78 L182.72,302.78 L183.18,302.78 L183.65,302.78 L184.12,302.78 L184.59,302.78 L185.05,302.78 L185.52,302.78 L185.99,302.78 L186.46,302.78 L186.92,302.78 L187.39,302.78 L187.86,302.78 L188.33,302.78 L188.79,302.78 L189.26,302.78 L189.73,302.78 L190.19,302.79 L190.66,302.79 L191.13,302.80 L191.60,302.81 L192.06,302.83 L192.53,302.84 L193.00,302.86 L193.47,302.88 L193.93,302.90 L194.40,302.92 L194.87,302.94 L195.34,302.97 L195.80,303.00 L196.27,303.03 L196.74,303.06 L197.20,303.10 L197.67,303.13 L198.14,303.17 L198.61,303.21 L199.07,303.25 L199.54,303.30 L200.01,303.34 L200.48,303.39 L200.94,303.43 L201.41,303.48 L201.88,303.53 L202.35,303.59 L202.81,303.64 L203.28,303.70 L203.75,303.75 L204.21,303.81 L204.68,303.87 L205.15,303.93 L205.62,303.99 L206.08,304.06 L206.55,304.12 L207.02,304.19 L207.49,304.26 L207.95,304.32 L208.42,304.39 L208.89,304.47 L209.36,304.54 L209.82,304.61 L210.29,304.69 L210.76,304.76 L211.22,304.84 L211.69,304.92 L212.16,305.00 L212.63,305.08 L213.09,305.16 L213.56,305.24 L214.03,305.32 L214.50,305.41 L214.96,305.49 L215.43,305.58 L215.90,305.66 L216.37,305.75 L216.83,305.84 L217.30,305.93 L217.77,306.02 L218.23,306.11 L218.70,306.20 L219.17,306.30 L219.64,306.39 L220.10,306.49 L220.57,306.58 L221.04,306.68 L221.51,306.78 L221.97,306.87 L222.44,306.97 L222.91,307.07 L223.38,307.17 L223.84,307.27 L224.31,307.37 L224.78,307.48 L225.24,307.58 L225.71,307.68 L226.18,307.79 L226.65,307.89 L227.11,308.00 L227.58,308.11 L228.05,308.22 L228.52,308.33 L228.98,308.43 L229.45,308.53 L229.92,308.63 L230.39,308.73 L230.85,308.82 L231.32,308.92 L231.79,309.01 L232.25,309.10 L232.72,309.19 L233.19,309.28 L233.66,309.36 L234.12,309.45 L234.59,309.53 L235.06,309.61 L235.53,309.69 L235.99,309.77 L236.46,309.85 L236.93,309.92 L237.40,310.00 L237.86,310.07 L238.33,310.14 L238.80,310.21 L239.26,310.28 L239.73,310.35 L240.20,310.41 L240.67,310.48 L241.13,310.54 L241.60,310.60 L242.07,310.66 L242.54,310.72 L243.00,310.78 L243.47,310.84 L243.94,310.90 L244.41,310.95 L244.87,311.01 L245.34,311.06 L245.81,311.11 L246.27,311.17 L246.74,311.22 L247.21,311.27 L247.68,311.32 L248.14,311.36 L248.61,311.41 L249.08,311.46 L249.55,311.50 L250.01,311.55 L250.48,311.59 L250.95,311.63 L251.42,311.68 L251.88,311.72 L252.35,311.76 L252.82,311.80 L253.28,311.84 L253.75,311.87 L254.22,311.91 L254.69,311.95 L255.15,311.99 L255.62,312.02 L256.09,312.06 L256.56,312.09 L257.02,312.12 L257.49,312.16 L257.96,312.19 L258.43,312.22 L258.89,312.25 L259.36,312.28 L259.83,312.31 L260.29,312.34 L260.76,312.37 L261.23,312.40 L261.70,312.43 L262.16,312.45 L262.63,312.48 L263.10,312.51 L263.57,312.53 L264.03,312.56 L264.50,312.58 L264.97,312.61 L265.44,312.63 L265.90,312.66 L266.37,312.68 L266.84,312.70 L267.30,312.72 L267.77,312.75 L268.24,312.77 L268.71,312.79 L269.17,312.81 L269.64,312.83 L270.11,312.85 L270.58,312.87 L271.04,312.89 L271.51,312.91 L271.98,312.93 L272.45,312.94 L272.91,312.96 L273.38,312.98 L273.85,313.00 L274.31,313.01 L274.78,313.03 L275.25,313.05 L275.72,313.06 L276.18,313.08 L276.65,313.09 L277.12,313.11 L277.59,313.12 L278.05,313.14 L278.52,313.15 L278.99,313.16 L279.46,313.18 L279.92,313.19 L280.39,313.20 L280.86,313.22 L281.32,313.23 L281.79,313.24 L282.26,313.25 L282.73,313.27 L283.19,313.28 L283.66,313.29 L284.13,313.30 L284.60,313.31 L285.06,313.32 L285.53,313.33 L286.00,313.34 L286.47,313.35 L286.93,313.36 L287.40,313.37 L287.87,313.38 L288.33,313.39 L288.80,313.40 L289.27,313.41 L289.74,313.42 L290.20,313.43 L290.67,313.44 L291.14,313.45 L291.61,313.46 L292.07,313.46 L292.54,313.47 L293.01,313.48 L293.48,313.49 L293.94,313.50 L294.41,313.50 L294.88,313.51 L295.34,313.52 L295.81,313.53 L296.28,313.53 L296.75,313.54 L297.21,313.55 L297.68,313.55 L298.15,313.56 L298.62,313.57 L299.08,313.57 L299.55,313.58 L300.02,313.58 L300.49,313.59 L300.95,313.60 L301.42,313.60 L301.89,313.61 L302.35,313.61 L302.82,313.62 L303.29,313.62 L303.76,313.63 L304.22,313.63 L304.69,313.64 L305.16,313.64 L305.63,313.65 L306.09,313.65 L306.56,313.66 L307.03,313.66 L307.50,313.67 L307.96,313.67 L308.43,313.67 L308.90,313.68 L309.36,313.68 L309.83,313.69 L310.30,313.69 L310.77,313.69 L311.23,313.70 L311.70,313.70 L312.17,313.71 L312.64,313.71 L313.10,313.71 L313.57,313.72 L314.04,313.72 L314.51,313.72 L314.97,313.73 L315.44,313.73 L315.91,313.73 L316.37,313.74 L316.84,313.74 L317.31,313.74 L317.78,313.74 L318.24,313.75 L318.71,313.75 L319.18,313.75 L319.65,313.76 L320.11,313.76 L320.58,313.76 L321.05,313.76 L321.52,313.77 L321.98,313.77 L322.45,313.77 L322.92,313.77 L323.38,313.78 L323.85,313.78 L324.32,313.78 L324.79,313.78 L325.25,313.79 L325.72,313.79 L326.19,313.79 L326.66,313.79 L327.12,313.79 L327.59,313.80 L328.06,313.80 L328.53,313.80 L328.99,313.80 L329.46,313.80 L329.93,313.80 L330.39,313.81 L330.86,313.81 L331.33,313.81 L331.80,313.81 L332.26,313.81 L332.73,313.81 L333.20,313.82 L333.67,313.82 L334.13,313.82 L334.60,313.82 L335.07,313.82 L335.54,313.82 L336.00,313.83 L336.47,313.83 L336.94,313.83 L337.40,313.83 L337.87,313.83 L338.34,313.83 L338.81,313.83 L339.27,313.83 L339.74,313.84 L340.21,313.84 L340.68,313.84 L341.14,313.84 L341.61,313.84 L342.08,313.84 L342.55,313.84 L343.01,313.84 L343.48,313.84 L343.95,313.85 L344.41,313.85 L344.88,313.85 L345.35,313.85 L345.82,313.85 L346.28,313.85 L346.75,313.85 L347.22,313.85 L347.69,313.85 L348.15,313.85 L348.62,313.85 L349.09,313.86 L349.56,313.86 L350.02,313.86 L350.49,313.86 L350.96,313.86 L351.42,313.86 L351.89,313.86 L352.36,313.86 L352.83,313.86 L353.29,313.86 L353.76,313.86 L354.23,313.86 L354.70,313.86 L355.16,313.87 L355.63,313.87 L356.10,313.87 L356.57,313.87 L357.03,313.87 L357.50,313.87" fill="none" stroke="#fff" stroke-opacity="0.60" stroke-width="4.60"/><path d="M77.10,31.45 L77.57,31.47 L78.03,31.49 L78.50,31.51 L78.97,31.53 L79.44,31.56 L79.90,31.58 L80.37,31.60 L80.84,31.63 L81.31,31.65 L81.77,31.68 L82.24,31.70 L82.71,31.73 L83.18,31.76 L83.64,31.78 L84.11,31.81 L84.58,31.84 L85.04,31.87 L85.51,31.90 L85.98,31.93 L86.45,31.96 L86.91,31.99 L87.38,32.02 L87.85,32.06 L88.32,32.09 L88.78,32.12 L89.25,32.16 L89.72,32.20 L90.19,32.23 L90.65,32.27 L91.12,32.31 L91.59,32.34 L92.05,32.38 L92.52,32.42 L92.99,32.46 L93.46,32.51 L93.92,32.55 L94.39,32.59 L94.86,32.64 L95.33,32.68 L95.79,32.73 L96.26,32.78 L96.73,32.82 L97.20,32.87 L97.66,32.92 L98.13,32.97 L98.60,33.02 L99.06,33.08 L99.53,33.13 L100.00,33.19 L100.47,33.24 L100.93,33.30 L101.40,33.36 L101.87,33.42 L102.34,33.48 L102.80,33.54 L103.27,33.61 L103.74,33.67 L104.21,33.74 L104.67,33.80 L105.14,33.87 L105.61,33.94 L106.07,34.01 L106.54,34.09 L107.01,34.16 L107.48,34.24 L107.94,34.32 L108.41,34.40 L108.88,34.48 L109.35,34.56 L109.81,34.64 L110.28,34.73 L110.75,34.82 L111.22,34.90 L111.68,35.00 L112.15,35.09 L112.62,35.18 L113.08,35.28 L113.55,35.38 L114.02,35.48 L114.49,35.58 L114.95,35.69 L115.42,35.79 L115.89,35.90 L116.36,36.01 L116.82,36.13 L117.29,36.24 L117.76,36.36 L118.23,36.48 L118.69,36.60 L119.16,36.73 L119.63,36.86 L120.09,36.99 L120.56,37.12 L121.03,37.26 L121.50,37.39 L121.96,37.54 L122.43,37.68 L122.90,37.83 L123.37,37.98 L123.83,38.13 L124.30,38.29 L124.77,38.45 L125.24,38.61 L125.70,38.77 L126.17,38.94 L126.64,39.12 L127.10,39.29 L127.57,39.47 L128.04,39.65 L128.51,39.84 L128.97,40.03 L129.44,40.23 L129.91,40.42 L130.38,40.63 L130.84,40.83 L131.31,41.04 L131.78,41.26 L132.25,41.48 L132.71,41.70 L133.18,41.93 L133.65,42.16 L134.11,42.40 L134.58,42.64 L135.05,42.89 L135.52,43.14 L135.98,43.40 L136.45,43.66 L136.92,43.93 L137.39,44.21 L137.85,44.48 L138.32,44.77 L138.79,45.06 L139.26,45.36 L139.72,45.66 L140.19,45.97 L140.66,46.28 L141.12,46.60 L141.59,46.93 L142.06,47.26 L142.53,47.60 L142.99,47.95 L143.46,48.30 L143.93,48.67 L144.40,49.04 L144.86,49.41 L145.33,49.80 L145.80,50.19 L146.27,50.59 L146.73,51.00 L147.20,51.41 L147.67,51.84 L148.13,52.27 L148.60,52.71 L149.07,53.16 L149.54,53.62 L150.00,54.09 L150.47,54.57 L150.94,55.06 L151.41,55.56 L151.87,56.06 L152.34,56.58 L152.81,57.11 L153.28,57.65 L153.74,58.20 L154.21,58.76 L154.68,59.34 L155.14,59.92 L155.61,60.52 L156.08,61.12 L156.55,61.75 L157.01,62.38 L157.48,63.02 L157.95,63.68 L158.42,64.36 L158.88,65.04 L159.35,65.74 L159.82,66.46 L160.29,67.18 L160.75,67.93 L161.22,68.69 L161.69,69.46 L162.15,70.25 L162.62,71.05 L163.09,71.87 L163.56,72.71 L164.02,73.57 L164.49,74.44 L164.96,75.33 L165.43,76.24 L165.89,77.16 L166.36,78.11 L166.83,79.07 L167.30,80.05 L167.76,81.06 L168.23,82.08 L168.70,83.12 L169.16,84.19 L169.63,85.28 L170.10,86.38 L170.57,87.52 L171.03,88.67 L171.50,89.85 L171.97,91.05 L172.44,92.27 L172.90,93.52 L173.37,94.80 L173.84,96.10 L174.31,97.43 L174.77,98.78 L175.24,100.16 L175.71,101.57 L176.17,103.01 L176.64,104.47 L177.11,105.97 L177.58,107.50 L178.04,109.06 L178.51,110.64 L178.98,112.27 L179.45,113.92 L179.91,115.61 L180.38,117.33 L180.85,119.08 L181.32,120.87 L181.78,122.70 L182.25,124.57 L182.72,126.47 L183.18,128.41 L183.65,130.39 L184.12,132.41 L184.59,134.47 L185.05,136.57 L185.52,138.72 L185.99,140.91 L186.46,143.14 L186.92,145.42 L187.39,147.74 L187.86,150.11 L188.33,152.53 L188.79,155.00 L189.26,157.51 L189.73,160.03 L190.19,162.51 L190.66,164.95 L191.13,167.35 L191.60,169.71 L192.06,172.03 L192.53,174.32 L193.00,176.56 L193.47,178.77 L193.93,180.95 L194.40,183.09 L194.87,185.19 L195.34,187.26 L195.80,189.30 L196.27,191.30 L196.74,193.27 L197.20,195.21 L197.67,197.12 L198.14,198.99 L198.61,200.84 L199.07,202.66 L199.54,204.45 L200.01,206.20 L200.48,207.94 L200.94,209.64 L201.41,211.32 L201.88,212.97 L202.35,214.59 L202.81,216.19 L203.28,217.76 L203.75,219.31 L204.21,220.83 L204.68,222.33 L205.15,223.80 L205.62,225.26 L206.08,226.69 L206.55,228.09 L207.02,229.48 L207.49,230.84 L207.95,232.18 L208.42,233.51 L208.89,234.81 L209.36,236.09 L209.82,237.35 L210.29,238.59 L210.76,239.81 L211.22,241.02 L211.69,242.20 L212.16,243.37 L212.63,244.52 L213.09,245.65 L213.56,246.76 L214.03,247.86 L214.50,248.94 L214.96,250.01 L215.43,251.05 L215.90,252.09 L216.37,253.11 L216.83,254.11 L217.30,255.09 L217.77,256.07 L218.23,257.02 L218.70,257.97 L219.17,258.90 L219.64,259.81 L220.10,260.72 L220.57,261.61 L221.04,262.48 L221.51,263.35 L221.97,264.20 L222.44,265.04 L222.91,265.86 L223.38,266.68 L223.84,267.48 L224.31,268.27 L224.78,269.05 L225.24,269.82 L225.71,270.58 L226.18,271.33 L226.65,272.07 L227.11,272.84 L227.58,273.61 L228.05,274.36 L228.52,275.09 L228.98,275.81 L229.45,276.52 L229.92,277.21 L230.39,277.89 L230.85,278.56 L231.32,279.22 L231.79,279.86 L232.25,280.50 L232.72,281.12 L233.19,281.73 L233.66,282.32 L234.12,282.91 L234.59,283.49 L235.06,284.05 L235.53,284.60 L235.99,285.15 L236.46,285.68 L236.93,286.21 L237.40,286.72 L237.86,287.23 L238.33,287.72 L238.80,288.21 L239.26,288.69 L239.73,289.15 L240.20,289.61 L240.67,290.06 L241.13,290.51 L241.60,290.94 L242.07,291.37 L242.54,291.79 L243.00,292.20 L243.47,292.60 L243.94,293.00 L244.41,293.38 L244.87,293.77 L245.34,294.14 L245.81,294.51 L246.27,294.87 L246.74,295.22 L247.21,295.57 L247.68,295.91 L248.14,296.24 L248.61,296.57 L249.08,296.89 L249.55,297.21 L250.01,297.52 L250.48,297.82 L250.95,298.12 L251.42,298.41 L251.88,298.70 L252.35,298.98 L252.82,299.26 L253.28,299.53 L253.75,299.80 L254.22,300.06 L254.69,300.32 L255.15,300.57 L255.62,300.82 L256.09,301.06 L256.56,301.30 L257.02,301.53 L257.49,301.76 L257.96,301.99 L258.43,302.21 L258.89,302.43 L259.36,302.64 L259.83,302.85 L260.29,303.06 L260.76,303.26 L261.23,303.45 L261.70,303.65 L262.16,303.84 L262.63,304.03 L263.10,304.21 L263.57,304.39 L264.03,304.57 L264.50,304.74 L264.97,304.91 L265.44,305.08 L265.90,305.24 L266.37,305.40 L266.84,305.56 L267.30,305.71 L267.77,305.87 L268.24,306.02 L268.71,306.16 L269.17,306.31 L269.64,306.45 L270.11,306.58 L270.58,306.72 L271.04,306.85 L271.51,306.99 L271.98,307.11 L272.45,307.24 L272.91,307.36 L273.38,307.48 L273.85,307.60 L274.31,307.72 L274.78,307.84 L275.25,307.95 L275.72,308.06 L276.18,308.17 L276.65,308.27 L277.12,308.38 L277.59,308.48 L278.05,308.58 L278.52,308.68 L278.99,308.78 L279.46,308.87 L279.92,308.97 L280.39,309.06 L280.86,309.15 L281.32,309.24 L281.79,309.32 L282.26,309.41 L282.73,309.49 L283.19,309.57 L283.66,309.65 L284.13,309.73 L284.60,309.81 L285.06,309.89 L285.53,309.96 L286.00,310.03 L286.47,310.11 L286.93,310.18 L287.40,310.24 L287.87,310.31 L288.33,310.38 L288.80,310.44 L289.27,310.51 L289.74,310.57 L290.20,310.63 L290.67,310.69 L291.14,310.75 L291.61,310.81 L292.07,310.87 L292.54,310.93 L293.01,310.98 L293.48,311.04 L293.94,311.09 L294.41,311.14 L294.88,311.19 L295.34,311.24 L295.81,311.29 L296.28,311.34 L296.75,311.39 L297.21,311.43 L297.68,311.48 L298.15,311.53 L298.62,311.57 L299.08,311.61 L299.55,311.66 L300.02,311.70 L300.49,311.74 L300.95,311.78 L301.42,311.82 L301.89,311.86 L302.35,311.89 L302.82,311.93 L303.29,311.97 L303.76,312.00 L304.22,312.04 L304.69,312.07 L305.16,312.11 L305.63,312.14 L306.09,312.17 L306.56,312.21 L307.03,312.24 L307.50,312.27 L307.96,312.30 L308.43,312.33 L308.90,312.36 L309.36,312.39 L309.83,312.41 L310.30,312.44 L310.77,312.47 L311.23,312.50 L311.70,312.52 L312.17,312.55 L312.64,312.57 L313.10,312.60 L313.57,312.62 L314.04,312.64 L314.51,312.67 L314.97,312.69 L315.44,312.71 L315.91,312.74 L316.37,312.76 L316.84,312.78 L317.31,312.80 L317.78,312.82 L318.24,312.84 L318.71,312.86 L319.18,312.88 L319.65,312.90 L320.11,312.92 L320.58,312.93 L321.05,312.95 L321.52,312.97 L321.98,312.99 L322.45,313.00 L322.92,313.02 L323.38,313.04 L323.85,313.05 L324.32,313.07 L324.79,313.08 L325.25,313.10 L325.72,313.11 L326.19,313.13 L326.66,313.14 L327.12,313.16 L327.59,313.17 L328.06,313.18 L328.53,313.20 L328.99,313.21 L329.46,313.22 L329.93,313.24 L330.39,313.25 L330.86,313.26 L331.33,313.27 L331.80,313.28 L332.26,313.30 L332.73,313.31 L333.20,313.32 L333.67,313.33 L334.13,313.34 L334.60,313.35 L335.07,313.36 L335.54,313.37 L336.00,313.38 L336.47,313.39 L336.94,313.40 L337.40,313.41 L337.87,313.42 L338.34,313.43 L338.81,313.44 L339.27,313.44 L339.74,313.45 L340.21,313.46 L340.68,313.47 L341.14,313.48 L341.61,313.48 L342.08,313.49 L342.55,313.50 L343.01,313.51 L343.48,313.51 L343.95,313.52 L344.41,313.53 L344.88,313.54 L345.35,313.54 L345.82,313.55 L346.28,313.56 L346.75,313.56 L347.22,313.57 L347.69,313.57 L348.15,313.58 L348.62,313.59 L349.09,313.59 L349.56,313.60 L350.02,313.60 L350.49,313.61 L350.96,313.61 L351.42,313.62 L351.89,313.63 L352.36,313.63 L352.83,313.64 L353.29,313.64 L353.76,313.64 L354.23,313.65 L354.70,313.65 L355.16,313.66 L355.63,313.66 L356.10,313.67 L356.57,313.67 L357.03,313.68 L357.50,313.68" fill="none" stroke="#000" stroke-width="2.00"/><path d="M77.10,302.78 L77.57,302.78 L78.03,302.78 L78.50,302.78 L78.97,302.78 L79.44,302.78 L79.90,302.78 L80.37,302.78 L80.84,302.78 L81.31,302.78 L81.77,302.78 L82.24,302.78 L82.71,302.78 L83.18,302.78 L83.64,302.78 L84.11,302.78 L84.58,302.78 L85.04,302.78 L85.51,302.78 L85.98,302.78 L86.45,302.78 L86.91,302.78 L87.38,302.78 L87.85,302.78 L88.32,302.78 L88.78,302.78 L89.25,302.78 L89.72,302.78 L90.19,302.78 L90.65,302.78 L91.12,302.78 L91.59,302.78 L92.05,302.78 L92.52,302.78 L92.99,302.78 L93.46,302.78 L93.92,302.78 L94.39,302.78 L94.86,302.78 L95.33,302.78 L95.79,302.78 L96.26,302.78 L96.73,302.78 L97.20,302.78 L97.66,302.78 L98.13,302.78 L98.60,302.78 L99.06,302.78 L99.53,302.78 L100.00,302.78 L100.47,302.78 L100.93,302.78 L101.40,302.78 L101.87,302.78 L102.34,302.78 L102.80,302.78 L103.27,302.78 L103.74,302.78 L104.21,302.78 L104.67,302.78 L105.14,302.78 L105.61,302.78 L106.07,302.78 L106.54,302.78 L107.01,302.78 L107.48,302.78 L107.94,302.78 L108.41,302.78 L108.88,302.78 L109.35,302.78 L109.81,302.78 L110.28,302.78 L110.75,302.78 L111.22,302.78 L111.68,302.78 L112.15,302.78 L112.62,302.78 L113.08,302.78 L113.55,302.78 L114.02,302.78 L114.49,302.78 L114.95,302.78 L115.42,302.78 L115.89,302.78 L116.36,302.78 L116.82,302.78 L117.29,302.78 L117.76,302.78 L118.23,302.78 L118.69,302.78 L119.16,302.78 L119.63,302.78 L120.09,302.78 L120.56,302.78 L121.03,302.78 L121.50,302.78 L121.96,302.78 L122.43,302.78 L122.90,302.78 L123.37,302.78 L123.83,302.78 L124.30,302.78 L124.77,302.78 L125.24,302.78 L125.70,302.78 L126.17,302.78 L126.64,302.78 L127.10,302.78 L127.57,302.78 L128.04,302.78 L128.51,302.78 L128.97,302.78 L129.44,302.78 L129.91,302.78 L130.38,302.78 L130.84,302.78 L131.31,302.78 L131.78,302.78 L132.25,302.78 L132.71,302.78 L133.18,302.78 L133.65,302.78 L134.11,302.78 L134.58,302.78 L135.05,302.78 L135.52,302.78 L135.98,302.78 L136.45,302.78 L136.92,302.78 L137.39,302.78 L137.85,302.78 L138.32,302.78 L138.79,302.78 L139.26,302.78 L139.72,302.78 L140.19,302.78 L140.66,302.78 L141.12,302.78 L141.59,302.78 L142.06,302.78 L142.53,302.78 L142.99,302.78 L143.46,302.78 L143.93,302.78 L144.40,302.78 L144.86,302.78 L145.33,302.78 L145.80,302.78 L146.27,302.78 L146.73,302.78 L147.20,302.78 L147.67,302.78 L148.13,302.78 L148.60,302.78 L149.07,302.78 L149.54,302.78 L150.00,302.78 L150.47,302.78 L150.94,302.78 L151.41,302.78 L151.87,302.78 L152.34,302.78 L152.81,302.78 L153.28,302.78 L153.74,302.78 L154.21,302.78 L154.68,302.78 L155.14,302.78 L155.61,302.78 L156.08,302.78 L156.55,302.78 L157.01,302.78 L157.48,302.78 L157.95,302.78 L158.42,302.78 L158.88,302.78 L159.35,302.78 L159.82,302.78 L160.29,302.78 L160.75,302.78 L161.22,302.78 L161.69,302.78 L162.15,302.78 L162.62,302.78 L163.09,302.78 L163.56,302.78 L164.02,302.78 L164.49,302.78 L164.96,302.78 L165.43,302.78 L165.89,302.78 L166.36,302.78 L166.83,302.78 L167.30,302.78 L167.76,302.78 L168.23,302.78 L168.70,302.78 L169.16,302.78 L169.63,302.78 L170.10,302.78 L170.57,302.78 L171.03,302.78 L171.50,302.78 L171.97,302.78 L172.44,302.78 L172.90,302.78 L173.37,302.78 L173.84,302.78 L174.31,302.78 L174.77,302.78 L175.24,302.78 L175.71,302.78 L176.17,302.78 L176.64,302.78 L177.11,302.78 L177.58,302.78 L178.04,302.78 L178.51,302.78 L178.98,302.78 L179.45,302.78 L179.91,302.78 L180.38,302.78 L180.85,302.78 L181.32,302.78 L181.78,302.78 L182.25,302.78 L182.72,302.78 L183.18,302.78 L183.65,302.78 L184.12,302.78 L184.59,302.78 L185.05,302.78 L185.52,302.78 L185.99,302.78 L186.46,302.78 L186.92,302.78 L187.39,302.78 L187.86,302.78 L188.33,302.78 L188.79,302.78 L189.26,302.78 L189.73,302.78 L190.19,302.79 L190.66,302.79 L191.13,302.80 L191.60,302.81 L192.06,302.83 L192.53,302.84 L193.00,302.86 L193.47,302.88 L193.93,302.90 L194.40,302.92 L194.87,302.94 L195.34,302.97 L195.80,303.00 L196.27,303.03 L196.74,303.06 L197.20,303.10 L197.67,303.13 L198.14,303.17 L198.61,303.21 L199.07,303.25 L199.54,303.30 L200.01,303.34 L200.48,303.39 L200.94,303.43 L201.41,303.48 L201.88,303.53 L202.35,303.59 L202.81,303.64 L203.28,303.70 L203.75,303.75 L204.21,303.81 L204.68,303.87 L205.15,303.93 L205.62,303.99 L206.08,304.06 L206.55,304.12 L207.02,304.19 L207.49,304.26 L207.95,304.32 L208.42,304.39 L208.89,304.47 L209.36,304.54 L209.82,304.61 L210.29,304.69 L210.76,304.76 L211.22,304.84 L211.69,304.92 L212.16,305.00 L212.63,305.08 L213.09,305.16 L213.56,305.24 L214.03,305.32 L214.50,305.41 L214.96,305.49 L215.43,305.58 L215.90,305.66 L216.37,305.75 L216.83,305.84 L217.30,305.93 L217.77,306.02 L218.23,306.11 L218.70,306.20 L219.17,306.30 L219.64,306.39 L220.10,306.49 L220.57,306.58 L221.04,306.68 L221.51,306.78 L221.97,306.87 L222.44,306.97 L222.91,307.07 L223.38,307.17 L223.84,307.27 L224.31,307.37 L224.78,307.48 L225.24,307.58 L225.71,307.68 L226.18,307.79 L226.65,307.89 L227.11,308.00 L227.58,308.11 L228.05,308.22 L228.52,308.33 L228.98,308.43 L229.45,308.53 L229.92,308.63 L230.39,308.73 L230.85,308.82 L231.32,308.92 L231.79,309.01 L232.25,309.10 L232.72,309.19 L233.19,309.28 L233.66,309.36 L234.12,309.45 L234.59,309.53 L235.06,309.61 L235.53,309.69 L235.99,309.77 L236.46,309.85 L236.93,309.92 L237.40,310.00 L237.86,310.07 L238.33,310.14 L238.80,310.21 L239.26,310.28 L239.73,310.35 L240.20,310.41 L240.67,310.48 L241.13,310.54 L241.60,310.60 L242.07,310.66 L242.54,310.72 L243.00,310.78 L243.47,310.84 L243.94,310.90 L244.41,310.95 L244.87,311.01 L245.34,311.06 L245.81,311.11 L246.27,311.17 L246.74,311.22 L247.21,311.27 L247.68,311.32 L248.14,311.36 L248.61,311.41 L249.08,311.46 L249.55,311.50 L250.01,311.55 L250.48,311.59 L250.95,311.63 L251.42,311.68 L251.88,311.72 L252.35,311.76 L252.82,311.80 L253.28,311.84 L253.75,311.87 L254.22,311.91 L254.69,311.95 L255.15,311.99 L255.62,312.02 L256.09,312.06 L256.56,312.09 L257.02,312.12 L257.49,312.16 L257.96,312.19 L258.43,312.22 L258.89,312.25 L259.36,312.28 L259.83,312.31 L260.29,312.34 L260.76,312.37 L261.23,312.40 L261.70,312.43 L262.16,312.45 L262.63,312.48 L263.10,312.51 L263.57,312.53 L264.03,312.56 L264.50,312.58 L264.97,312.61 L265.44,312.63 L265.90,312.66 L266.37,312.68 L266.84,312.70 L267.30,312.72 L267.77,312.75 L268.24,312.77 L268.71,312.79 L269.17,312.81 L269.64,312.83 L270.11,312.85 L270.58,312.87 L271.04,312.89 L271.51,312.91 L271.98,312.93 L272.45,312.94 L272.91,312.96 L273.38,312.98 L273.85,313.00 L274.31,313.01 L274.78,313.03 L275.25,313.05 L275.72,313.06 L276.18,313.08 L276.65,313.09 L277.12,313.11 L277.59,313.12 L278.05,313.14 L278.52,313.15 L278.99,313.16 L279.46,313.18 L279.92,313.19 L280.39,313.20 L280.86,313.22 L281.32,313.23 L281.79,313.24 L282.26,313.25 L282.73,313.27 L283.19,313.28 L283.66,313.29 L284.13,313.30 L284.60,313.31 L285.06,313.32 L285.53,313.33 L286.00,313.34 L286.47,313.35 L286.93,313.36 L287.40,313.37 L287.87,313.38 L288.33,313.39 L288.80,313.40 L289.27,313.41 L289.74,313.42 L290.20,313.43 L290.67,313.44 L291.14,313.45 L291.61,313.46 L292.07,313.46 L292.54,313.47 L293.01,313.48 L293.48,313.49 L293.94,313.50 L294.41,313.50 L294.88,313.51 L295.34,313.52 L295.81,313.53 L296.28,313.53 L296.75,313.54 L297.21,313.55 L297.68,313.55 L298.15,313.56 L298.62,313.57 L299.08,313.57 L299.55,313.58 L300.02,313.58 L300.49,313.59 L300.95,313.60 L301.42,313.60 L301.89,313.61 L302.35,313.61 L302.82,313.62 L303.29,313.62 L303.76,313.63 L304.22,313.63 L304.69,313.64 L305.16,313.64 L305.63,313.65 L306.09,313.65 L306.56,313.66 L307.03,313.66 L307.50,313.67 L307.96,313.67 L308.43,313.67 L308.90,313.68 L309.36,313.68 L309.83,313.69 L310.30,313.69 L310.77,313.69 L311.23,313.70 L311.70,313.70 L312.17,313.71 L312.64,313.71 L313.10,313.71 L313.57,313.72 L314.04,313.72 L314.51,313.72 L314.97,313.73 L315.44,313.73 L315.91,313.73 L316.37,313.74 L316.84,313.74 L317.31,313.74 L317.78,313.74 L318.24,313.75 L318.71,313.75 L319.18,313.75 L319.65,313.76 L320.11,313.76 L320.58,313.76 L321.05,313.76 L321.52,313.77 L321.98,313.77 L322.45,313.77 L322.92,313.77 L323.38,313.78 L323.85,313.78 L324.32,313.78 L324.79,313.78 L325.25,313.79 L325.72,313.79 L326.19,313.79 L326.66,313.79 L327.12,313.79 L327.59,313.80 L328.06,313.80 L328.53,313.80 L328.99,313.80 L329.46,313.80 L329.93,313.80 L330.39,313.81 L330.86,313.81 L331.33,313.81 L331.80,313.81 L332.26,313.81 L332.73,313.81 L333.20,313.82 L333.67,313.82 L334.13,313.82 L334.60,313.82 L335.07,313.82 L335.54,313.82 L336.00,313.83 L336.47,313.83 L336.94,313.83 L337.40,313.83 L337.87,313.83 L338.34,313.83 L338.81,313.83 L339.27,313.83 L339.74,313.84 L340.21,313.84 L340.68,313.84 L341.14,313.84 L341.61,313.84 L342.08,313.84 L342.55,313.84 L343.01,313.84 L343.48,313.84 L343.95,313.85 L344.41,313.85 L344.88,313.85 L345.35,313.85 L345.82,313.85 L346.28,313.85 L346.75,313.85 L347.22,313.85 L347.69,313.85 L348.15,313.85 L348.62,313.85 L349.09,313.86 L349.56,313.86 L350.02,313.86 L350.49,313.86 L350.96,313.86 L351.42,313.86 L351.89,313.86 L352.36,313.86 L352.83,313.86 L353.29,313.86 L353.76,313.86 L354.23,313.86 L354.70,313.86 L355.16,313.87 L355.63,313.87 L356.10,313.87 L356.57,313.87 L357.03,313.87 L357.50,313.87" fill="none" stroke="#000" stroke-width="2.00"/></g>
<rect x="77.10" y="30.40" width="280.40" height="283.50" fill="none" stroke="#fff" stroke-opacity="0.55" stroke-width="4.40"/>
<path d="M95.79,313.90 V306.90 M95.79,30.40 V37.40 M142.53,313.90 V306.90 M142.53,30.40 V37.40 M189.26,313.90 V306.90 M189.26,30.40 V37.40 M235.99,313.90 V306.90 M235.99,30.40 V37.40 M282.73,313.90 V306.90 M282.73,30.40 V37.40 M329.46,313.90 V306.90 M329.46,30.40 V37.40 M77.10,257.20 H84.10 M357.50,257.20 H350.50 M77.10,200.50 H84.10 M357.50,200.50 H350.50 M77.10,143.80 H84.10 M357.50,143.80 H350.50 M77.10,87.10 H84.10 M357.50,87.10 H350.50" stroke="#000" stroke-width="1.5" fill="none"/>
<rect x="77.10" y="30.40" width="280.40" height="283.50" fill="none" stroke="#000" stroke-width="2.00"/>
<clipPath id="c1"><rect x="373.30" y="30.40" width="280.40" height="283.50"/></clipPath>
<g clip-path="url(#c1)"><path d="M373.30,30.42 L373.77,30.42 L374.23,30.42 L374.70,30.42 L375.17,30.42 L375.64,30.42 L376.10,30.42 L376.57,30.42 L377.04,30.42 L377.51,30.42 L377.97,30.42 L378.44,30.42 L378.91,30.42 L379.38,30.42 L379.84,30.42 L380.31,30.43 L380.78,30.43 L381.24,30.43 L381.71,30.43 L382.18,30.43 L382.65,30.43 L383.11,30.43 L383.58,30.43 L384.05,30.43 L384.52,30.43 L384.98,30.44 L385.45,30.44 L385.92,30.44 L386.39,30.44 L386.85,30.44 L387.32,30.44 L387.79,30.44 L388.25,30.45 L388.72,30.45 L389.19,30.45 L389.66,30.45 L390.12,30.45 L390.59,30.45 L391.06,30.46 L391.53,30.46 L391.99,30.46 L392.46,30.46 L392.93,30.47 L393.40,30.47 L393.86,30.47 L394.33,30.47 L394.80,30.48 L395.26,30.48 L395.73,30.48 L396.20,30.48 L396.67,30.49 L397.13,30.49 L397.60,30.49 L398.07,30.50 L398.54,30.50 L399.00,30.50 L399.47,30.51 L399.94,30.51 L400.41,30.51 L400.87,30.52 L401.34,30.52 L401.81,30.53 L402.27,30.53 L402.74,30.54 L403.21,30.54 L403.68,30.55 L404.14,30.55 L404.61,30.56 L405.08,30.56 L405.55,30.57 L406.01,30.57 L406.48,30.58 L406.95,30.59 L407.42,30.59 L407.88,30.60 L408.35,30.61 L408.82,30.62 L409.28,30.62 L409.75,30.63 L410.22,30.64 L410.69,30.65 L411.15,30.66 L411.62,30.67 L412.09,30.67 L412.56,30.68 L413.02,30.69 L413.49,30.71 L413.96,30.72 L414.43,30.73 L414.89,30.74 L415.36,30.75 L415.83,30.76 L416.29,30.78 L416.76,30.79 L417.23,30.80 L417.70,30.82 L418.16,30.83 L418.63,30.85 L419.10,30.86 L419.57,30.88 L420.03,30.90 L420.50,30.92 L420.97,30.93 L421.44,30.95 L421.90,30.97 L422.37,30.99 L422.84,31.01 L423.30,31.04 L423.77,31.06 L424.24,31.08 L424.71,31.11 L425.17,31.13 L425.64,31.16 L426.11,31.19 L426.58,31.21 L427.04,31.24 L427.51,31.27 L427.98,31.30 L428.45,31.34 L428.91,31.37 L429.38,31.40 L429.85,31.44 L430.31,31.48 L430.78,31.51 L431.25,31.55 L431.72,31.60 L432.18,31.64 L432.65,31.68 L433.12,31.73 L433.59,31.77 L434.05,31.82 L434.52,31.87 L434.99,31.93 L435.46,31.98 L435.92,32.04 L436.39,32.10 L436.86,32.16 L437.32,32.22 L437.79,32.28 L438.26,32.35 L438.73,32.42 L439.19,32.49 L439.66,32.57 L440.13,32.64 L440.60,32.72 L441.06,32.81 L441.53,32.89 L442.00,32.98 L442.47,33.07 L442.93,33.17 L443.40,33.27 L443.87,33.37 L444.33,33.47 L444.80,33.58 L445.27,33.70 L445.74,33.82 L446.20,33.94 L446.67,34.06 L447.14,34.19 L447.61,34.33 L448.07,34.47 L448.54,34.61 L449.01,34.76 L449.48,34.92 L449.94,35.08 L450.41,35.25 L450.88,35.42 L451.34,35.60 L451.81,35.78 L452.28,35.97 L452.75,36.17 L453.21,36.38 L453.68,36.59 L454.15,36.81 L454.62,37.04 L455.08,37.28 L455.55,37.52 L456.02,37.78 L456.49,38.04 L456.95,38.31 L457.42,38.59 L457.89,38.88 L458.35,39.19 L458.82,39.50 L459.29,39.82 L459.76,40.16 L460.22,40.51 L460.69,40.87 L461.16,41.24 L461.63,41.63 L462.09,42.03 L462.56,42.44 L463.03,42.87 L463.50,43.31 L463.96,43.77 L464.43,44.25 L464.90,44.74 L465.36,45.25 L465.83,45.78 L466.30,46.33 L466.77,46.90 L467.23,47.49 L467.70,48.09 L468.17,48.72 L468.64,49.38 L469.10,50.05 L469.57,50.75 L470.04,51.48 L470.51,52.23 L470.97,53.01 L471.44,53.81 L471.91,54.65 L472.37,55.51 L472.84,56.40 L473.31,57.33 L473.78,58.29 L474.24,59.28 L474.71,60.31 L475.18,61.38 L475.65,62.48 L476.11,63.62 L476.58,64.81 L477.05,66.03 L477.52,67.30 L477.98,68.62 L478.45,69.98 L478.92,71.39 L479.38,72.85 L479.85,74.36 L480.32,75.92 L480.79,77.55 L481.25,79.22 L481.72,80.96 L482.19,82.77 L482.66,84.63 L483.12,86.56 L483.59,88.56 L484.06,90.63 L484.53,92.78 L484.99,95.00 L485.46,97.30 L485.93,99.63 L486.39,101.93 L486.86,104.19 L487.33,106.43 L487.80,108.64 L488.26,110.83 L488.73,112.98 L489.20,115.11 L489.67,117.21 L490.13,119.29 L490.60,121.34 L491.07,123.36 L491.54,125.36 L492.00,127.33 L492.47,129.28 L492.94,131.21 L493.40,133.11 L493.87,134.99 L494.34,136.85 L494.81,138.68 L495.27,140.49 L495.74,142.28 L496.21,144.05 L496.68,145.80 L497.14,147.53 L497.61,149.23 L498.08,150.92 L498.55,152.58 L499.01,154.23 L499.48,155.86 L499.95,157.46 L500.41,159.05 L500.88,160.62 L501.35,162.18 L501.82,163.71 L502.28,165.23 L502.75,166.73 L503.22,168.21 L503.69,169.68 L504.15,171.13 L504.62,172.56 L505.09,173.98 L505.56,175.38 L506.02,176.76 L506.49,178.13 L506.96,179.49 L507.42,180.83 L507.89,182.15 L508.36,183.47 L508.83,184.76 L509.29,186.05 L509.76,187.32 L510.23,188.57 L510.70,189.81 L511.16,191.04 L511.63,192.26 L512.10,193.46 L512.57,194.66 L513.03,195.84 L513.50,197.00 L513.97,198.16 L514.43,199.30 L514.90,200.43 L515.37,201.55 L515.84,202.66 L516.30,203.76 L516.77,204.85 L517.24,205.93 L517.71,206.99 L518.17,208.05 L518.64,209.09 L519.11,210.13 L519.58,211.15 L520.04,212.17 L520.51,213.18 L520.98,214.17 L521.44,215.16 L521.91,216.14 L522.38,217.11 L522.85,218.07 L523.31,219.02 L523.78,219.97 L524.25,220.90 L524.72,221.83 L525.18,222.75 L525.65,223.66 L526.12,224.56 L526.59,225.46 L527.05,226.34 L527.52,227.22 L527.99,228.10 L528.45,228.96 L528.92,229.82 L529.39,230.67 L529.86,231.52 L530.32,232.35 L530.79,233.18 L531.26,234.01 L531.73,234.83 L532.19,235.64 L532.66,236.44 L533.13,237.24 L533.60,238.03 L534.06,238.82 L534.53,239.60 L535.00,240.37 L535.46,241.14 L535.93,241.91 L536.40,242.67 L536.87,243.42 L537.33,244.17 L537.80,244.91 L538.27,245.64 L538.74,246.38 L539.20,247.10 L539.67,247.83 L540.14,248.54 L540.61,249.25 L541.07,249.96 L541.54,250.67 L542.01,251.36 L542.47,252.06 L542.94,252.75 L543.41,253.43 L543.88,254.12 L544.34,254.79 L544.81,255.47 L545.28,256.13 L545.75,256.80 L546.21,257.46 L546.68,258.12 L547.15,258.77 L547.62,259.42 L548.08,260.07 L548.55,260.71 L549.02,261.35 L549.48,261.99 L549.95,262.62 L550.42,263.25 L550.89,263.88 L551.35,264.50 L551.82,265.12 L552.29,265.74 L552.76,266.35 L553.22,266.96 L553.69,267.57 L554.16,268.17 L554.63,268.78 L555.09,269.38 L555.56,269.97 L556.03,270.57 L556.49,271.16 L556.96,271.75 L557.43,272.34 L557.90,272.92 L558.36,273.50 L558.83,274.08 L559.30,274.66 L559.77,275.23 L560.23,275.80 L560.70,276.75 L561.17,277.66 L561.64,278.56 L562.10,279.43 L562.57,280.28 L563.04,281.11 L563.50,281.92 L563.97,282.71 L564.44,283.48 L564.91,284.23 L565.37,284.96 L565.84,285.68 L566.31,286.38 L566.78,287.05 L567.24,287.72 L567.71,288.36 L568.18,288.99 L568.65,289.61 L569.11,290.21 L569.58,290.79 L570.05,291.36 L570.51,291.92 L570.98,292.46 L571.45,292.99 L571.92,293.51 L572.38,294.01 L572.85,294.50 L573.32,294.98 L573.79,295.45 L574.25,295.91 L574.72,296.35 L575.19,296.78 L575.66,297.21 L576.12,297.62 L576.59,298.02 L577.06,298.41 L577.52,298.79 L577.99,299.17 L578.46,299.53 L578.93,299.89 L579.39,300.23 L579.86,300.57 L580.33,300.90 L580.80,301.22 L581.26,301.53 L581.73,301.84 L582.20,302.14 L582.67,302.43 L583.13,302.71 L583.60,302.99 L584.07,303.26 L584.53,303.52 L585.00,303.77 L585.47,304.02 L585.94,304.27 L586.40,304.51 L586.87,304.74 L587.34,304.96 L587.81,305.18 L588.27,305.40 L588.74,305.61 L589.21,305.81 L589.68,306.01 L590.14,306.21 L590.61,306.40 L591.08,306.58 L591.54,306.76 L592.01,306.94 L592.48,307.11 L592.95,307.28 L593.41,307.44 L593.88,307.60 L594.35,307.76 L594.82,307.91 L595.28,308.06 L595.75,308.20 L596.22,308.34 L596.69,308.48 L597.15,308.61 L597.62,308.74 L598.09,308.87 L598.55,309.00 L599.02,309.12 L599.49,309.23 L599.96,309.35 L600.42,309.46 L600.89,309.57 L601.36,309.68 L601.83,309.78 L602.29,309.88 L602.76,309.98 L603.23,310.08 L603.70,310.17 L604.16,310.27 L604.63,310.36 L605.10,310.44 L605.56,310.53 L606.03,310.61 L606.50,310.69 L606.97,310.77 L607.43,310.85 L607.90,310.93 L608.37,311.00 L608.84,311.07 L609.30,311.14 L609.77,311.21 L610.24,311.27 L610.71,311.34 L611.17,311.40 L611.64,311.46 L612.11,311.52 L612.57,311.58 L613.04,311.64 L613.51,311.70 L613.98,311.75 L614.44,311.80 L614.91,311.86 L615.38,311.91 L615.85,311.96 L616.31,312.00 L616.78,312.05 L617.25,312.10 L617.72,312.14 L618.18,312.18 L618.65,312.23 L619.12,312.27 L619.58,312.31 L620.05,312.35 L620.52,312.39 L620.99,312.42 L621.45,312.46 L621.92,312.49 L622.39,312.53 L622.86,312.56 L623.32,312.60 L623.79,312.63 L624.26,312.66 L624.73,312.69 L625.19,312.72 L625.66,312.75 L626.13,312.78 L626.59,312.81 L627.06,312.83 L627.53,312.86 L628.00,312.88 L628.46,312.91 L628.93,312.93 L629.40,312.96 L629.87,312.98 L630.33,313.00 L630.80,313.03 L631.27,313.05 L631.74,313.07 L632.20,313.09 L632.67,313.11 L633.14,313.13 L633.60,313.15 L634.07,313.17 L634.54,313.18 L635.01,313.20 L635.47,313.22 L635.94,313.24 L636.41,313.25 L636.88,313.27 L637.34,313.28 L637.81,313.30 L638.28,313.31 L638.75,313.33 L639.21,313.34 L639.68,313.36 L640.15,313.37 L640.61,313.38 L641.08,313.40 L641.55,313.41 L642.02,313.42 L642.48,313.43 L642.95,313.44 L643.42,313.46 L643.89,313.47 L644.35,313.48 L644.82,313.49 L645.29,313.50 L645.76,313.51 L646.22,313.52 L646.69,313.53 L647.16,313.54 L647.62,313.54 L648.09,313.55 L648.56,313.56 L649.03,313.57 L649.49,313.58 L649.96,313.59 L650.43,313.59 L650.90,313.60 L651.36,313.61 L651.83,313.62 L652.30,313.62 L652.77,313.63 L653.23,313.64 L653.70,313.64 L653.70,313.90 L373.30,313.90 Z" fill="#fff6cc"/><path d="M373.30,253.41 L373.77,253.41 L374.23,253.41 L374.70,253.41 L375.17,253.41 L375.64,253.41 L376.10,253.41 L376.57,253.41 L377.04,253.41 L377.51,253.41 L377.97,253.41 L378.44,253.41 L378.91,253.41 L379.38,253.41 L379.84,253.41 L380.31,253.41 L380.78,253.41 L381.24,253.41 L381.71,253.41 L382.18,253.41 L382.65,253.41 L383.11,253.41 L383.58,253.41 L384.05,253.41 L384.52,253.41 L384.98,253.41 L385.45,253.41 L385.92,253.41 L386.39,253.41 L386.85,253.41 L387.32,253.41 L387.79,253.41 L388.25,253.41 L388.72,253.41 L389.19,253.41 L389.66,253.41 L390.12,253.41 L390.59,253.41 L391.06,253.41 L391.53,253.41 L391.99,253.41 L392.46,253.41 L392.93,253.41 L393.40,253.41 L393.86,253.41 L394.33,253.41 L394.80,253.41 L395.26,253.41 L395.73,253.41 L396.20,253.41 L396.67,253.41 L397.13,253.41 L397.60,253.41 L398.07,253.41 L398.54,253.41 L399.00,253.41 L399.47,253.41 L399.94,253.41 L400.41,253.41 L400.87,253.41 L401.34,253.41 L401.81,253.41 L402.27,253.41 L402.74,253.41 L403.21,253.41 L403.68,253.41 L404.14,253.41 L404.61,253.41 L405.08,253.41 L405.55,253.41 L406.01,253.41 L406.48,253.41 L406.95,253.41 L407.42,253.41 L407.88,253.41 L408.35,253.41 L408.82,253.41 L409.28,253.41 L409.75,253.41 L410.22,253.41 L410.69,253.41 L411.15,253.41 L411.62,253.41 L412.09,253.41 L412.56,253.41 L413.02,253.41 L413.49,253.41 L413.96,253.41 L414.43,253.41 L414.89,253.41 L415.36,253.41 L415.83,253.41 L416.29,253.41 L416.76,253.41 L417.23,253.41 L417.70,253.41 L418.16,253.41 L418.63,253.41 L419.10,253.41 L419.57,253.41 L420.03,253.41 L420.50,253.41 L420.97,253.41 L421.44,253.41 L421.90,253.41 L422.37,253.41 L422.84,253.41 L423.30,253.41 L423.77,253.41 L424.24,253.41 L424.71,253.41 L425.17,253.41 L425.64,253.41 L426.11,253.41 L426.58,253.41 L427.04,253.41 L427.51,253.41 L427.98,253.41 L428.45,253.41 L428.91,253.41 L429.38,253.41 L429.85,253.41 L430.31,253.41 L430.78,253.41 L431.25,253.41 L431.72,253.41 L432.18,253.41 L432.65,253.41 L433.12,253.41 L433.59,253.41 L434.05,253.41 L434.52,253.41 L434.99,253.41 L435.46,253.41 L435.92,253.41 L436.39,253.41 L436.86,253.41 L437.32,253.41 L437.79,253.41 L438.26,253.41 L438.73,253.41 L439.19,253.41 L439.66,253.41 L440.13,253.41 L440.60,253.41 L441.06,253.41 L441.53,253.41 L442.00,253.41 L442.47,253.41 L442.93,253.41 L443.40,253.41 L443.87,253.41 L444.33,253.41 L444.80,253.41 L445.27,253.41 L445.74,253.41 L446.20,253.41 L446.67,253.41 L447.14,253.41 L447.61,253.41 L448.07,253.41 L448.54,253.41 L449.01,253.41 L449.48,253.41 L449.94,253.41 L450.41,253.41 L450.88,253.41 L451.34,253.41 L451.81,253.41 L452.28,253.41 L452.75,253.41 L453.21,253.41 L453.68,253.41 L454.15,253.41 L454.62,253.41 L455.08,253.41 L455.55,253.41 L456.02,253.41 L456.49,253.41 L456.95,253.41 L457.42,253.41 L457.89,253.41 L458.35,253.41 L458.82,253.41 L459.29,253.41 L459.76,253.41 L460.22,253.41 L460.69,253.41 L461.16,253.41 L461.63,253.41 L462.09,253.41 L462.56,253.41 L463.03,253.41 L463.50,253.41 L463.96,253.41 L464.43,253.41 L464.90,253.41 L465.36,253.41 L465.83,253.41 L466.30,253.41 L466.77,253.41 L467.23,253.41 L467.70,253.41 L468.17,253.41 L468.64,253.41 L469.10,253.41 L469.57,253.41 L470.04,253.41 L470.51,253.41 L470.97,253.41 L471.44,253.41 L471.91,253.41 L472.37,253.41 L472.84,253.41 L473.31,253.41 L473.78,253.41 L474.24,253.41 L474.71,253.41 L475.18,253.41 L475.65,253.41 L476.11,253.41 L476.58,253.41 L477.05,253.41 L477.52,253.41 L477.98,253.41 L478.45,253.41 L478.92,253.41 L479.38,253.41 L479.85,253.41 L480.32,253.41 L480.79,253.41 L481.25,253.41 L481.72,253.41 L482.19,253.41 L482.66,253.41 L483.12,253.41 L483.59,253.41 L484.06,253.41 L484.53,253.41 L484.99,253.41 L485.46,253.41 L485.93,253.41 L486.39,253.42 L486.86,253.43 L487.33,253.45 L487.80,253.47 L488.26,253.50 L488.73,253.53 L489.20,253.56 L489.67,253.60 L490.13,253.65 L490.60,253.70 L491.07,253.75 L491.54,253.81 L492.00,253.87 L492.47,253.94 L492.94,254.01 L493.40,254.08 L493.87,254.16 L494.34,254.24 L494.81,254.33 L495.27,254.42 L495.74,254.51 L496.21,254.61 L496.68,254.71 L497.14,254.82 L497.61,254.92 L498.08,255.04 L498.55,255.15 L499.01,255.27 L499.48,255.39 L499.95,255.52 L500.41,255.65 L500.88,255.78 L501.35,255.92 L501.82,256.06 L502.28,256.20 L502.75,256.34 L503.22,256.49 L503.69,256.64 L504.15,256.80 L504.62,256.96 L505.09,257.12 L505.56,257.28 L506.02,257.45 L506.49,257.61 L506.96,257.79 L507.42,257.96 L507.89,258.14 L508.36,258.32 L508.83,258.50 L509.29,258.69 L509.76,258.88 L510.23,259.07 L510.70,259.26 L511.16,259.46 L511.63,259.65 L512.10,259.85 L512.57,260.06 L513.03,260.26 L513.50,260.47 L513.97,260.68 L514.43,260.89 L514.90,261.11 L515.37,261.33 L515.84,261.54 L516.30,261.77 L516.77,261.99 L517.24,262.22 L517.71,262.44 L518.17,262.67 L518.64,262.91 L519.11,263.14 L519.58,263.38 L520.04,263.62 L520.51,263.86 L520.98,264.10 L521.44,264.34 L521.91,264.59 L522.38,264.84 L522.85,265.09 L523.31,265.34 L523.78,265.60 L524.25,265.85 L524.72,266.11 L525.18,266.37 L525.65,266.63 L526.12,266.89 L526.59,267.16 L527.05,267.43 L527.52,267.69 L527.99,267.96 L528.45,268.24 L528.92,268.51 L529.39,268.78 L529.86,269.06 L530.32,269.34 L530.79,269.62 L531.26,269.90 L531.73,270.18 L532.19,270.47 L532.66,270.75 L533.13,271.04 L533.60,271.33 L534.06,271.62 L534.53,271.91 L535.00,272.21 L535.46,272.50 L535.93,272.80 L536.40,273.10 L536.87,273.40 L537.33,273.70 L537.80,274.00 L538.27,274.31 L538.74,274.61 L539.20,274.92 L539.67,275.22 L540.14,275.53 L540.61,275.84 L541.07,276.16 L541.54,276.47 L542.01,276.78 L542.47,277.10 L542.94,277.42 L543.41,277.74 L543.88,278.05 L544.34,278.38 L544.81,278.70 L545.28,279.02 L545.75,279.35 L546.21,279.67 L546.68,280.00 L547.15,280.33 L547.62,280.66 L548.08,280.99 L548.55,281.32 L549.02,281.65 L549.48,281.98 L549.95,282.32 L550.42,282.66 L550.89,282.99 L551.35,283.33 L551.82,283.67 L552.29,284.01 L552.76,284.35 L553.22,284.70 L553.69,285.04 L554.16,285.39 L554.63,285.73 L555.09,286.08 L555.56,286.43 L556.03,286.78 L556.49,287.13 L556.96,287.48 L557.43,287.83 L557.90,288.18 L558.36,288.54 L558.83,288.89 L559.30,289.25 L559.77,289.61 L560.23,289.97 L560.70,290.56 L561.17,291.13 L561.64,291.70 L562.10,292.24 L562.57,292.78 L563.04,293.30 L563.50,293.81 L563.97,294.30 L564.44,294.79 L564.91,295.26 L565.37,295.72 L565.84,296.17 L566.31,296.61 L566.78,297.03 L567.24,297.45 L567.71,297.86 L568.18,298.25 L568.65,298.64 L569.11,299.02 L569.58,299.38 L570.05,299.74 L570.51,300.09 L570.98,300.43 L571.45,300.76 L571.92,301.09 L572.38,301.41 L572.85,301.71 L573.32,302.01 L573.79,302.31 L574.25,302.59 L574.72,302.87 L575.19,303.15 L575.66,303.41 L576.12,303.67 L576.59,303.92 L577.06,304.17 L577.52,304.41 L577.99,304.64 L578.46,304.87 L578.93,305.10 L579.39,305.31 L579.86,305.52 L580.33,305.73 L580.80,305.93 L581.26,306.13 L581.73,306.32 L582.20,306.51 L582.67,306.69 L583.13,306.87 L583.60,307.04 L584.07,307.21 L584.53,307.38 L585.00,307.54 L585.47,307.70 L585.94,307.85 L586.40,308.00 L586.87,308.14 L587.34,308.29 L587.81,308.42 L588.27,308.56 L588.74,308.69 L589.21,308.82 L589.68,308.95 L590.14,309.07 L590.61,309.19 L591.08,309.30 L591.54,309.42 L592.01,309.53 L592.48,309.64 L592.95,309.74 L593.41,309.84 L593.88,309.94 L594.35,310.04 L594.82,310.14 L595.28,310.23 L595.75,310.32 L596.22,310.41 L596.69,310.49 L597.15,310.58 L597.62,310.66 L598.09,310.74 L598.55,310.82 L599.02,310.89 L599.49,310.97 L599.96,311.04 L600.42,311.11 L600.89,311.18 L601.36,311.25 L601.83,311.31 L602.29,311.38 L602.76,311.44 L603.23,311.50 L603.70,311.56 L604.16,311.62 L604.63,311.67 L605.10,311.73 L605.56,311.78 L606.03,311.83 L606.50,311.89 L606.97,311.94 L607.43,311.98 L607.90,312.03 L608.37,312.08 L608.84,312.12 L609.30,312.17 L609.77,312.21 L610.24,312.25 L610.71,312.29 L611.17,312.33 L611.64,312.37 L612.11,312.41 L612.57,312.44 L613.04,312.48 L613.51,312.52 L613.98,312.55 L614.44,312.58 L614.91,312.62 L615.38,312.65 L615.85,312.68 L616.31,312.71 L616.78,312.74 L617.25,312.77 L617.72,312.79 L618.18,312.82 L618.65,312.85 L619.12,312.87 L619.58,312.90 L620.05,312.92 L620.52,312.95 L620.99,312.97 L621.45,312.99 L621.92,313.02 L622.39,313.04 L622.86,313.06 L623.32,313.08 L623.79,313.10 L624.26,313.12 L624.73,313.14 L625.19,313.16 L625.66,313.18 L626.13,313.20 L626.59,313.21 L627.06,313.23 L627.53,313.25 L628.00,313.26 L628.46,313.28 L628.93,313.29 L629.40,313.31 L629.87,313.32 L630.33,313.34 L630.80,313.35 L631.27,313.36 L631.74,313.38 L632.20,313.39 L632.67,313.40 L633.14,313.42 L633.60,313.43 L634.07,313.44 L634.54,313.45 L635.01,313.46 L635.47,313.47 L635.94,313.48 L636.41,313.49 L636.88,313.50 L637.34,313.51 L637.81,313.52 L638.28,313.53 L638.75,313.54 L639.21,313.55 L639.68,313.56 L640.15,313.57 L640.61,313.58 L641.08,313.58 L641.55,313.59 L642.02,313.60 L642.48,313.61 L642.95,313.61 L643.42,313.62 L643.89,313.63 L644.35,313.63 L644.82,313.64 L645.29,313.65 L645.76,313.65 L646.22,313.66 L646.69,313.67 L647.16,313.67 L647.62,313.68 L648.09,313.68 L648.56,313.69 L649.03,313.69 L649.49,313.70 L649.96,313.70 L650.43,313.71 L650.90,313.71 L651.36,313.72 L651.83,313.72 L652.30,313.73 L652.77,313.73 L653.23,313.73 L653.70,313.74 L653.70,313.90 L373.30,313.90 Z" fill="#ffec78"/><line x1="485.46" y1="30.40" x2="485.46" y2="313.90" stroke="#fff" stroke-opacity="0.45" stroke-width="3.6" stroke-dasharray="3.6 3.62" stroke-dashoffset="0.6"/><line x1="373.30" y1="172.15" x2="653.70" y2="172.15" stroke="#fff" stroke-opacity="0.45" stroke-width="3.6" stroke-dasharray="3.6 3.61" stroke-dashoffset="0.8"/><line x1="485.46" y1="30.40" x2="485.46" y2="313.90" stroke="#000" stroke-width="1.75" stroke-dasharray="1.75 5.47" stroke-dashoffset="-0.32"/><line x1="373.30" y1="172.15" x2="653.70" y2="172.15" stroke="#000" stroke-width="1.75" stroke-dasharray="1.75 5.46" stroke-dashoffset="-0.12"/><path d="M373.30,30.42 L373.77,30.42 L374.23,30.42 L374.70,30.42 L375.17,30.42 L375.64,30.42 L376.10,30.42 L376.57,30.42 L377.04,30.42 L377.51,30.42 L377.97,30.42 L378.44,30.42 L378.91,30.42 L379.38,30.42 L379.84,30.42 L380.31,30.43 L380.78,30.43 L381.24,30.43 L381.71,30.43 L382.18,30.43 L382.65,30.43 L383.11,30.43 L383.58,30.43 L384.05,30.43 L384.52,30.43 L384.98,30.44 L385.45,30.44 L385.92,30.44 L386.39,30.44 L386.85,30.44 L387.32,30.44 L387.79,30.44 L388.25,30.45 L388.72,30.45 L389.19,30.45 L389.66,30.45 L390.12,30.45 L390.59,30.45 L391.06,30.46 L391.53,30.46 L391.99,30.46 L392.46,30.46 L392.93,30.47 L393.40,30.47 L393.86,30.47 L394.33,30.47 L394.80,30.48 L395.26,30.48 L395.73,30.48 L396.20,30.48 L396.67,30.49 L397.13,30.49 L397.60,30.49 L398.07,30.50 L398.54,30.50 L399.00,30.50 L399.47,30.51 L399.94,30.51 L400.41,30.51 L400.87,30.52 L401.34,30.52 L401.81,30.53 L402.27,30.53 L402.74,30.54 L403.21,30.54 L403.68,30.55 L404.14,30.55 L404.61,30.56 L405.08,30.56 L405.55,30.57 L406.01,30.57 L406.48,30.58 L406.95,30.59 L407.42,30.59 L407.88,30.60 L408.35,30.61 L408.82,30.62 L409.28,30.62 L409.75,30.63 L410.22,30.64 L410.69,30.65 L411.15,30.66 L411.62,30.67 L412.09,30.67 L412.56,30.68 L413.02,30.69 L413.49,30.71 L413.96,30.72 L414.43,30.73 L414.89,30.74 L415.36,30.75 L415.83,30.76 L416.29,30.78 L416.76,30.79 L417.23,30.80 L417.70,30.82 L418.16,30.83 L418.63,30.85 L419.10,30.86 L419.57,30.88 L420.03,30.90 L420.50,30.92 L420.97,30.93 L421.44,30.95 L421.90,30.97 L422.37,30.99 L422.84,31.01 L423.30,31.04 L423.77,31.06 L424.24,31.08 L424.71,31.11 L425.17,31.13 L425.64,31.16 L426.11,31.19 L426.58,31.21 L427.04,31.24 L427.51,31.27 L427.98,31.30 L428.45,31.34 L428.91,31.37 L429.38,31.40 L429.85,31.44 L430.31,31.48 L430.78,31.51 L431.25,31.55 L431.72,31.60 L432.18,31.64 L432.65,31.68 L433.12,31.73 L433.59,31.77 L434.05,31.82 L434.52,31.87 L434.99,31.93 L435.46,31.98 L435.92,32.04 L436.39,32.10 L436.86,32.16 L437.32,32.22 L437.79,32.28 L438.26,32.35 L438.73,32.42 L439.19,32.49 L439.66,32.57 L440.13,32.64 L440.60,32.72 L441.06,32.81 L441.53,32.89 L442.00,32.98 L442.47,33.07 L442.93,33.17 L443.40,33.27 L443.87,33.37 L444.33,33.47 L444.80,33.58 L445.27,33.70 L445.74,33.82 L446.20,33.94 L446.67,34.06 L447.14,34.19 L447.61,34.33 L448.07,34.47 L448.54,34.61 L449.01,34.76 L449.48,34.92 L449.94,35.08 L450.41,35.25 L450.88,35.42 L451.34,35.60 L451.81,35.78 L452.28,35.97 L452.75,36.17 L453.21,36.38 L453.68,36.59 L454.15,36.81 L454.62,37.04 L455.08,37.28 L455.55,37.52 L456.02,37.78 L456.49,38.04 L456.95,38.31 L457.42,38.59 L457.89,38.88 L458.35,39.19 L458.82,39.50 L459.29,39.82 L459.76,40.16 L460.22,40.51 L460.69,40.87 L461.16,41.24 L461.63,41.63 L462.09,42.03 L462.56,42.44 L463.03,42.87 L463.50,43.31 L463.96,43.77 L464.43,44.25 L464.90,44.74 L465.36,45.25 L465.83,45.78 L466.30,46.33 L466.77,46.90 L467.23,47.49 L467.70,48.09 L468.17,48.72 L468.64,49.38 L469.10,50.05 L469.57,50.75 L470.04,51.48 L470.51,52.23 L470.97,53.01 L471.44,53.81 L471.91,54.65 L472.37,55.51 L472.84,56.40 L473.31,57.33 L473.78,58.29 L474.24,59.28 L474.71,60.31 L475.18,61.38 L475.65,62.48 L476.11,63.62 L476.58,64.81 L477.05,66.03 L477.52,67.30 L477.98,68.62 L478.45,69.98 L478.92,71.39 L479.38,72.85 L479.85,74.36 L480.32,75.92 L480.79,77.55 L481.25,79.22 L481.72,80.96 L482.19,82.77 L482.66,84.63 L483.12,86.56 L483.59,88.56 L484.06,90.63 L484.53,92.78 L484.99,95.00 L485.46,97.30 L485.93,99.63 L486.39,101.93 L486.86,104.19 L487.33,106.43 L487.80,108.64 L488.26,110.83 L488.73,112.98 L489.20,115.11 L489.67,117.21 L490.13,119.29 L490.60,121.34 L491.07,123.36 L491.54,125.36 L492.00,127.33 L492.47,129.28 L492.94,131.21 L493.40,133.11 L493.87,134.99 L494.34,136.85 L494.81,138.68 L495.27,140.49 L495.74,142.28 L496.21,144.05 L496.68,145.80 L497.14,147.53 L497.61,149.23 L498.08,150.92 L498.55,152.58 L499.01,154.23 L499.48,155.86 L499.95,157.46 L500.41,159.05 L500.88,160.62 L501.35,162.18 L501.82,163.71 L502.28,165.23 L502.75,166.73 L503.22,168.21 L503.69,169.68 L504.15,171.13 L504.62,172.56 L505.09,173.98 L505.56,175.38 L506.02,176.76 L506.49,178.13 L506.96,179.49 L507.42,180.83 L507.89,182.15 L508.36,183.47 L508.83,184.76 L509.29,186.05 L509.76,187.32 L510.23,188.57 L510.70,189.81 L511.16,191.04 L511.63,192.26 L512.10,193.46 L512.57,194.66 L513.03,195.84 L513.50,197.00 L513.97,198.16 L514.43,199.30 L514.90,200.43 L515.37,201.55 L515.84,202.66 L516.30,203.76 L516.77,204.85 L517.24,205.93 L517.71,206.99 L518.17,208.05 L518.64,209.09 L519.11,210.13 L519.58,211.15 L520.04,212.17 L520.51,213.18 L520.98,214.17 L521.44,215.16 L521.91,216.14 L522.38,217.11 L522.85,218.07 L523.31,219.02 L523.78,219.97 L524.25,220.90 L524.72,221.83 L525.18,222.75 L525.65,223.66 L526.12,224.56 L526.59,225.46 L527.05,226.34 L527.52,227.22 L527.99,228.10 L528.45,228.96 L528.92,229.82 L529.39,230.67 L529.86,231.52 L530.32,232.35 L530.79,233.18 L531.26,234.01 L531.73,234.83 L532.19,235.64 L532.66,236.44 L533.13,237.24 L533.60,238.03 L534.06,238.82 L534.53,239.60 L535.00,240.37 L535.46,241.14 L535.93,241.91 L536.40,242.67 L536.87,243.42 L537.33,244.17 L537.80,244.91 L538.27,245.64 L538.74,246.38 L539.20,247.10 L539.67,247.83 L540.14,248.54 L540.61,249.25 L541.07,249.96 L541.54,250.67 L542.01,251.36 L542.47,252.06 L542.94,252.75 L543.41,253.43 L543.88,254.12 L544.34,254.79 L544.81,255.47 L545.28,256.13 L545.75,256.80 L546.21,257.46 L546.68,258.12 L547.15,258.77 L547.62,259.42 L548.08,260.07 L548.55,260.71 L549.02,261.35 L549.48,261.99 L549.95,262.62 L550.42,263.25 L550.89,263.88 L551.35,264.50 L551.82,265.12 L552.29,265.74 L552.76,266.35 L553.22,266.96 L553.69,267.57 L554.16,268.17 L554.63,268.78 L555.09,269.38 L555.56,269.97 L556.03,270.57 L556.49,271.16 L556.96,271.75 L557.43,272.34 L557.90,272.92 L558.36,273.50 L558.83,274.08 L559.30,274.66 L559.77,275.23 L560.23,275.80 L560.70,276.75 L561.17,277.66 L561.64,278.56 L562.10,279.43 L562.57,280.28 L563.04,281.11 L563.50,281.92 L563.97,282.71 L564.44,283.48 L564.91,284.23 L565.37,284.96 L565.84,285.68 L566.31,286.38 L566.78,287.05 L567.24,287.72 L567.71,288.36 L568.18,288.99 L568.65,289.61 L569.11,290.21 L569.58,290.79 L570.05,291.36 L570.51,291.92 L570.98,292.46 L571.45,292.99 L571.92,293.51 L572.38,294.01 L572.85,294.50 L573.32,294.98 L573.79,295.45 L574.25,295.91 L574.72,296.35 L575.19,296.78 L575.66,297.21 L576.12,297.62 L576.59,298.02 L577.06,298.41 L577.52,298.79 L577.99,299.17 L578.46,299.53 L578.93,299.89 L579.39,300.23 L579.86,300.57 L580.33,300.90 L580.80,301.22 L581.26,301.53 L581.73,301.84 L582.20,302.14 L582.67,302.43 L583.13,302.71 L583.60,302.99 L584.07,303.26 L584.53,303.52 L585.00,303.77 L585.47,304.02 L585.94,304.27 L586.40,304.51 L586.87,304.74 L587.34,304.96 L587.81,305.18 L588.27,305.40 L588.74,305.61 L589.21,305.81 L589.68,306.01 L590.14,306.21 L590.61,306.40 L591.08,306.58 L591.54,306.76 L592.01,306.94 L592.48,307.11 L592.95,307.28 L593.41,307.44 L593.88,307.60 L594.35,307.76 L594.82,307.91 L595.28,308.06 L595.75,308.20 L596.22,308.34 L596.69,308.48 L597.15,308.61 L597.62,308.74 L598.09,308.87 L598.55,309.00 L599.02,309.12 L599.49,309.23 L599.96,309.35 L600.42,309.46 L600.89,309.57 L601.36,309.68 L601.83,309.78 L602.29,309.88 L602.76,309.98 L603.23,310.08 L603.70,310.17 L604.16,310.27 L604.63,310.36 L605.10,310.44 L605.56,310.53 L606.03,310.61 L606.50,310.69 L606.97,310.77 L607.43,310.85 L607.90,310.93 L608.37,311.00 L608.84,311.07 L609.30,311.14 L609.77,311.21 L610.24,311.27 L610.71,311.34 L611.17,311.40 L611.64,311.46 L612.11,311.52 L612.57,311.58 L613.04,311.64 L613.51,311.70 L613.98,311.75 L614.44,311.80 L614.91,311.86 L615.38,311.91 L615.85,311.96 L616.31,312.00 L616.78,312.05 L617.25,312.10 L617.72,312.14 L618.18,312.18 L618.65,312.23 L619.12,312.27 L619.58,312.31 L620.05,312.35 L620.52,312.39 L620.99,312.42 L621.45,312.46 L621.92,312.49 L622.39,312.53 L622.86,312.56 L623.32,312.60 L623.79,312.63 L624.26,312.66 L624.73,312.69 L625.19,312.72 L625.66,312.75 L626.13,312.78 L626.59,312.81 L627.06,312.83 L627.53,312.86 L628.00,312.88 L628.46,312.91 L628.93,312.93 L629.40,312.96 L629.87,312.98 L630.33,313.00 L630.80,313.03 L631.27,313.05 L631.74,313.07 L632.20,313.09 L632.67,313.11 L633.14,313.13 L633.60,313.15 L634.07,313.17 L634.54,313.18 L635.01,313.20 L635.47,313.22 L635.94,313.24 L636.41,313.25 L636.88,313.27 L637.34,313.28 L637.81,313.30 L638.28,313.31 L638.75,313.33 L639.21,313.34 L639.68,313.36 L640.15,313.37 L640.61,313.38 L641.08,313.40 L641.55,313.41 L642.02,313.42 L642.48,313.43 L642.95,313.44 L643.42,313.46 L643.89,313.47 L644.35,313.48 L644.82,313.49 L645.29,313.50 L645.76,313.51 L646.22,313.52 L646.69,313.53 L647.16,313.54 L647.62,313.54 L648.09,313.55 L648.56,313.56 L649.03,313.57 L649.49,313.58 L649.96,313.59 L650.43,313.59 L650.90,313.60 L651.36,313.61 L651.83,313.62 L652.30,313.62 L652.77,313.63 L653.23,313.64 L653.70,313.64" fill="none" stroke="#fff" stroke-opacity="0.60" stroke-width="4.60"/><path d="M373.30,253.41 L373.77,253.41 L374.23,253.41 L374.70,253.41 L375.17,253.41 L375.64,253.41 L376.10,253.41 L376.57,253.41 L377.04,253.41 L377.51,253.41 L377.97,253.41 L378.44,253.41 L378.91,253.41 L379.38,253.41 L379.84,253.41 L380.31,253.41 L380.78,253.41 L381.24,253.41 L381.71,253.41 L382.18,253.41 L382.65,253.41 L383.11,253.41 L383.58,253.41 L384.05,253.41 L384.52,253.41 L384.98,253.41 L385.45,253.41 L385.92,253.41 L386.39,253.41 L386.85,253.41 L387.32,253.41 L387.79,253.41 L388.25,253.41 L388.72,253.41 L389.19,253.41 L389.66,253.41 L390.12,253.41 L390.59,253.41 L391.06,253.41 L391.53,253.41 L391.99,253.41 L392.46,253.41 L392.93,253.41 L393.40,253.41 L393.86,253.41 L394.33,253.41 L394.80,253.41 L395.26,253.41 L395.73,253.41 L396.20,253.41 L396.67,253.41 L397.13,253.41 L397.60,253.41 L398.07,253.41 L398.54,253.41 L399.00,253.41 L399.47,253.41 L399.94,253.41 L400.41,253.41 L400.87,253.41 L401.34,253.41 L401.81,253.41 L402.27,253.41 L402.74,253.41 L403.21,253.41 L403.68,253.41 L404.14,253.41 L404.61,253.41 L405.08,253.41 L405.55,253.41 L406.01,253.41 L406.48,253.41 L406.95,253.41 L407.42,253.41 L407.88,253.41 L408.35,253.41 L408.82,253.41 L409.28,253.41 L409.75,253.41 L410.22,253.41 L410.69,253.41 L411.15,253.41 L411.62,253.41 L412.09,253.41 L412.56,253.41 L413.02,253.41 L413.49,253.41 L413.96,253.41 L414.43,253.41 L414.89,253.41 L415.36,253.41 L415.83,253.41 L416.29,253.41 L416.76,253.41 L417.23,253.41 L417.70,253.41 L418.16,253.41 L418.63,253.41 L419.10,253.41 L419.57,253.41 L420.03,253.41 L420.50,253.41 L420.97,253.41 L421.44,253.41 L421.90,253.41 L422.37,253.41 L422.84,253.41 L423.30,253.41 L423.77,253.41 L424.24,253.41 L424.71,253.41 L425.17,253.41 L425.64,253.41 L426.11,253.41 L426.58,253.41 L427.04,253.41 L427.51,253.41 L427.98,253.41 L428.45,253.41 L428.91,253.41 L429.38,253.41 L429.85,253.41 L430.31,253.41 L430.78,253.41 L431.25,253.41 L431.72,253.41 L432.18,253.41 L432.65,253.41 L433.12,253.41 L433.59,253.41 L434.05,253.41 L434.52,253.41 L434.99,253.41 L435.46,253.41 L435.92,253.41 L436.39,253.41 L436.86,253.41 L437.32,253.41 L437.79,253.41 L438.26,253.41 L438.73,253.41 L439.19,253.41 L439.66,253.41 L440.13,253.41 L440.60,253.41 L441.06,253.41 L441.53,253.41 L442.00,253.41 L442.47,253.41 L442.93,253.41 L443.40,253.41 L443.87,253.41 L444.33,253.41 L444.80,253.41 L445.27,253.41 L445.74,253.41 L446.20,253.41 L446.67,253.41 L447.14,253.41 L447.61,253.41 L448.07,253.41 L448.54,253.41 L449.01,253.41 L449.48,253.41 L449.94,253.41 L450.41,253.41 L450.88,253.41 L451.34,253.41 L451.81,253.41 L452.28,253.41 L452.75,253.41 L453.21,253.41 L453.68,253.41 L454.15,253.41 L454.62,253.41 L455.08,253.41 L455.55,253.41 L456.02,253.41 L456.49,253.41 L456.95,253.41 L457.42,253.41 L457.89,253.41 L458.35,253.41 L458.82,253.41 L459.29,253.41 L459.76,253.41 L460.22,253.41 L460.69,253.41 L461.16,253.41 L461.63,253.41 L462.09,253.41 L462.56,253.41 L463.03,253.41 L463.50,253.41 L463.96,253.41 L464.43,253.41 L464.90,253.41 L465.36,253.41 L465.83,253.41 L466.30,253.41 L466.77,253.41 L467.23,253.41 L467.70,253.41 L468.17,253.41 L468.64,253.41 L469.10,253.41 L469.57,253.41 L470.04,253.41 L470.51,253.41 L470.97,253.41 L471.44,253.41 L471.91,253.41 L472.37,253.41 L472.84,253.41 L473.31,253.41 L473.78,253.41 L474.24,253.41 L474.71,253.41 L475.18,253.41 L475.65,253.41 L476.11,253.41 L476.58,253.41 L477.05,253.41 L477.52,253.41 L477.98,253.41 L478.45,253.41 L478.92,253.41 L479.38,253.41 L479.85,253.41 L480.32,253.41 L480.79,253.41 L481.25,253.41 L481.72,253.41 L482.19,253.41 L482.66,253.41 L483.12,253.41 L483.59,253.41 L484.06,253.41 L484.53,253.41 L484.99,253.41 L485.46,253.41 L485.93,253.41 L486.39,253.42 L486.86,253.43 L487.33,253.45 L487.80,253.47 L488.26,253.50 L488.73,253.53 L489.20,253.56 L489.67,253.60 L490.13,253.65 L490.60,253.70 L491.07,253.75 L491.54,253.81 L492.00,253.87 L492.47,253.94 L492.94,254.01 L493.40,254.08 L493.87,254.16 L494.34,254.24 L494.81,254.33 L495.27,254.42 L495.74,254.51 L496.21,254.61 L496.68,254.71 L497.14,254.82 L497.61,254.92 L498.08,255.04 L498.55,255.15 L499.01,255.27 L499.48,255.39 L499.95,255.52 L500.41,255.65 L500.88,255.78 L501.35,255.92 L501.82,256.06 L502.28,256.20 L502.75,256.34 L503.22,256.49 L503.69,256.64 L504.15,256.80 L504.62,256.96 L505.09,257.12 L505.56,257.28 L506.02,257.45 L506.49,257.61 L506.96,257.79 L507.42,257.96 L507.89,258.14 L508.36,258.32 L508.83,258.50 L509.29,258.69 L509.76,258.88 L510.23,259.07 L510.70,259.26 L511.16,259.46 L511.63,259.65 L512.10,259.85 L512.57,260.06 L513.03,260.26 L513.50,260.47 L513.97,260.68 L514.43,260.89 L514.90,261.11 L515.37,261.33 L515.84,261.54 L516.30,261.77 L516.77,261.99 L517.24,262.22 L517.71,262.44 L518.17,262.67 L518.64,262.91 L519.11,263.14 L519.58,263.38 L520.04,263.62 L520.51,263.86 L520.98,264.10 L521.44,264.34 L521.91,264.59 L522.38,264.84 L522.85,265.09 L523.31,265.34 L523.78,265.60 L524.25,265.85 L524.72,266.11 L525.18,266.37 L525.65,266.63 L526.12,266.89 L526.59,267.16 L527.05,267.43 L527.52,267.69 L527.99,267.96 L528.45,268.24 L528.92,268.51 L529.39,268.78 L529.86,269.06 L530.32,269.34 L530.79,269.62 L531.26,269.90 L531.73,270.18 L532.19,270.47 L532.66,270.75 L533.13,271.04 L533.60,271.33 L534.06,271.62 L534.53,271.91 L535.00,272.21 L535.46,272.50 L535.93,272.80 L536.40,273.10 L536.87,273.40 L537.33,273.70 L537.80,274.00 L538.27,274.31 L538.74,274.61 L539.20,274.92 L539.67,275.22 L540.14,275.53 L540.61,275.84 L541.07,276.16 L541.54,276.47 L542.01,276.78 L542.47,277.10 L542.94,277.42 L543.41,277.74 L543.88,278.05 L544.34,278.38 L544.81,278.70 L545.28,279.02 L545.75,279.35 L546.21,279.67 L546.68,280.00 L547.15,280.33 L547.62,280.66 L548.08,280.99 L548.55,281.32 L549.02,281.65 L549.48,281.98 L549.95,282.32 L550.42,282.66 L550.89,282.99 L551.35,283.33 L551.82,283.67 L552.29,284.01 L552.76,284.35 L553.22,284.70 L553.69,285.04 L554.16,285.39 L554.63,285.73 L555.09,286.08 L555.56,286.43 L556.03,286.78 L556.49,287.13 L556.96,287.48 L557.43,287.83 L557.90,288.18 L558.36,288.54 L558.83,288.89 L559.30,289.25 L559.77,289.61 L560.23,289.97 L560.70,290.56 L561.17,291.13 L561.64,291.70 L562.10,292.24 L562.57,292.78 L563.04,293.30 L563.50,293.81 L563.97,294.30 L564.44,294.79 L564.91,295.26 L565.37,295.72 L565.84,296.17 L566.31,296.61 L566.78,297.03 L567.24,297.45 L567.71,297.86 L568.18,298.25 L568.65,298.64 L569.11,299.02 L569.58,299.38 L570.05,299.74 L570.51,300.09 L570.98,300.43 L571.45,300.76 L571.92,301.09 L572.38,301.41 L572.85,301.71 L573.32,302.01 L573.79,302.31 L574.25,302.59 L574.72,302.87 L575.19,303.15 L575.66,303.41 L576.12,303.67 L576.59,303.92 L577.06,304.17 L577.52,304.41 L577.99,304.64 L578.46,304.87 L578.93,305.10 L579.39,305.31 L579.86,305.52 L580.33,305.73 L580.80,305.93 L581.26,306.13 L581.73,306.32 L582.20,306.51 L582.67,306.69 L583.13,306.87 L583.60,307.04 L584.07,307.21 L584.53,307.38 L585.00,307.54 L585.47,307.70 L585.94,307.85 L586.40,308.00 L586.87,308.14 L587.34,308.29 L587.81,308.42 L588.27,308.56 L588.74,308.69 L589.21,308.82 L589.68,308.95 L590.14,309.07 L590.61,309.19 L591.08,309.30 L591.54,309.42 L592.01,309.53 L592.48,309.64 L592.95,309.74 L593.41,309.84 L593.88,309.94 L594.35,310.04 L594.82,310.14 L595.28,310.23 L595.75,310.32 L596.22,310.41 L596.69,310.49 L597.15,310.58 L597.62,310.66 L598.09,310.74 L598.55,310.82 L599.02,310.89 L599.49,310.97 L599.96,311.04 L600.42,311.11 L600.89,311.18 L601.36,311.25 L601.83,311.31 L602.29,311.38 L602.76,311.44 L603.23,311.50 L603.70,311.56 L604.16,311.62 L604.63,311.67 L605.10,311.73 L605.56,311.78 L606.03,311.83 L606.50,311.89 L606.97,311.94 L607.43,311.98 L607.90,312.03 L608.37,312.08 L608.84,312.12 L609.30,312.17 L609.77,312.21 L610.24,312.25 L610.71,312.29 L611.17,312.33 L611.64,312.37 L612.11,312.41 L612.57,312.44 L613.04,312.48 L613.51,312.52 L613.98,312.55 L614.44,312.58 L614.91,312.62 L615.38,312.65 L615.85,312.68 L616.31,312.71 L616.78,312.74 L617.25,312.77 L617.72,312.79 L618.18,312.82 L618.65,312.85 L619.12,312.87 L619.58,312.90 L620.05,312.92 L620.52,312.95 L620.99,312.97 L621.45,312.99 L621.92,313.02 L622.39,313.04 L622.86,313.06 L623.32,313.08 L623.79,313.10 L624.26,313.12 L624.73,313.14 L625.19,313.16 L625.66,313.18 L626.13,313.20 L626.59,313.21 L627.06,313.23 L627.53,313.25 L628.00,313.26 L628.46,313.28 L628.93,313.29 L629.40,313.31 L629.87,313.32 L630.33,313.34 L630.80,313.35 L631.27,313.36 L631.74,313.38 L632.20,313.39 L632.67,313.40 L633.14,313.42 L633.60,313.43 L634.07,313.44 L634.54,313.45 L635.01,313.46 L635.47,313.47 L635.94,313.48 L636.41,313.49 L636.88,313.50 L637.34,313.51 L637.81,313.52 L638.28,313.53 L638.75,313.54 L639.21,313.55 L639.68,313.56 L640.15,313.57 L640.61,313.58 L641.08,313.58 L641.55,313.59 L642.02,313.60 L642.48,313.61 L642.95,313.61 L643.42,313.62 L643.89,313.63 L644.35,313.63 L644.82,313.64 L645.29,313.65 L645.76,313.65 L646.22,313.66 L646.69,313.67 L647.16,313.67 L647.62,313.68 L648.09,313.68 L648.56,313.69 L649.03,313.69 L649.49,313.70 L649.96,313.70 L650.43,313.71 L650.90,313.71 L651.36,313.72 L651.83,313.72 L652.30,313.73 L652.77,313.73 L653.23,313.73 L653.70,313.74" fill="none" stroke="#fff" stroke-opacity="0.60" stroke-width="4.60"/><path d="M373.30,30.42 L373.77,30.42 L374.23,30.42 L374.70,30.42 L375.17,30.42 L375.64,30.42 L376.10,30.42 L376.57,30.42 L377.04,30.42 L377.51,30.42 L377.97,30.42 L378.44,30.42 L378.91,30.42 L379.38,30.42 L379.84,30.42 L380.31,30.43 L380.78,30.43 L381.24,30.43 L381.71,30.43 L382.18,30.43 L382.65,30.43 L383.11,30.43 L383.58,30.43 L384.05,30.43 L384.52,30.43 L384.98,30.44 L385.45,30.44 L385.92,30.44 L386.39,30.44 L386.85,30.44 L387.32,30.44 L387.79,30.44 L388.25,30.45 L388.72,30.45 L389.19,30.45 L389.66,30.45 L390.12,30.45 L390.59,30.45 L391.06,30.46 L391.53,30.46 L391.99,30.46 L392.46,30.46 L392.93,30.47 L393.40,30.47 L393.86,30.47 L394.33,30.47 L394.80,30.48 L395.26,30.48 L395.73,30.48 L396.20,30.48 L396.67,30.49 L397.13,30.49 L397.60,30.49 L398.07,30.50 L398.54,30.50 L399.00,30.50 L399.47,30.51 L399.94,30.51 L400.41,30.51 L400.87,30.52 L401.34,30.52 L401.81,30.53 L402.27,30.53 L402.74,30.54 L403.21,30.54 L403.68,30.55 L404.14,30.55 L404.61,30.56 L405.08,30.56 L405.55,30.57 L406.01,30.57 L406.48,30.58 L406.95,30.59 L407.42,30.59 L407.88,30.60 L408.35,30.61 L408.82,30.62 L409.28,30.62 L409.75,30.63 L410.22,30.64 L410.69,30.65 L411.15,30.66 L411.62,30.67 L412.09,30.67 L412.56,30.68 L413.02,30.69 L413.49,30.71 L413.96,30.72 L414.43,30.73 L414.89,30.74 L415.36,30.75 L415.83,30.76 L416.29,30.78 L416.76,30.79 L417.23,30.80 L417.70,30.82 L418.16,30.83 L418.63,30.85 L419.10,30.86 L419.57,30.88 L420.03,30.90 L420.50,30.92 L420.97,30.93 L421.44,30.95 L421.90,30.97 L422.37,30.99 L422.84,31.01 L423.30,31.04 L423.77,31.06 L424.24,31.08 L424.71,31.11 L425.17,31.13 L425.64,31.16 L426.11,31.19 L426.58,31.21 L427.04,31.24 L427.51,31.27 L427.98,31.30 L428.45,31.34 L428.91,31.37 L429.38,31.40 L429.85,31.44 L430.31,31.48 L430.78,31.51 L431.25,31.55 L431.72,31.60 L432.18,31.64 L432.65,31.68 L433.12,31.73 L433.59,31.77 L434.05,31.82 L434.52,31.87 L434.99,31.93 L435.46,31.98 L435.92,32.04 L436.39,32.10 L436.86,32.16 L437.32,32.22 L437.79,32.28 L438.26,32.35 L438.73,32.42 L439.19,32.49 L439.66,32.57 L440.13,32.64 L440.60,32.72 L441.06,32.81 L441.53,32.89 L442.00,32.98 L442.47,33.07 L442.93,33.17 L443.40,33.27 L443.87,33.37 L444.33,33.47 L444.80,33.58 L445.27,33.70 L445.74,33.82 L446.20,33.94 L446.67,34.06 L447.14,34.19 L447.61,34.33 L448.07,34.47 L448.54,34.61 L449.01,34.76 L449.48,34.92 L449.94,35.08 L450.41,35.25 L450.88,35.42 L451.34,35.60 L451.81,35.78 L452.28,35.97 L452.75,36.17 L453.21,36.38 L453.68,36.59 L454.15,36.81 L454.62,37.04 L455.08,37.28 L455.55,37.52 L456.02,37.78 L456.49,38.04 L456.95,38.31 L457.42,38.59 L457.89,38.88 L458.35,39.19 L458.82,39.50 L459.29,39.82 L459.76,40.16 L460.22,40.51 L460.69,40.87 L461.16,41.24 L461.63,41.63 L462.09,42.03 L462.56,42.44 L463.03,42.87 L463.50,43.31 L463.96,43.77 L464.43,44.25 L464.90,44.74 L465.36,45.25 L465.83,45.78 L466.30,46.33 L466.77,46.90 L467.23,47.49 L467.70,48.09 L468.17,48.72 L468.64,49.38 L469.10,50.05 L469.57,50.75 L470.04,51.48 L470.51,52.23 L470.97,53.01 L471.44,53.81 L471.91,54.65 L472.37,55.51 L472.84,56.40 L473.31,57.33 L473.78,58.29 L474.24,59.28 L474.71,60.31 L475.18,61.38 L475.65,62.48 L476.11,63.62 L476.58,64.81 L477.05,66.03 L477.52,67.30 L477.98,68.62 L478.45,69.98 L478.92,71.39 L479.38,72.85 L479.85,74.36 L480.32,75.92 L480.79,77.55 L481.25,79.22 L481.72,80.96 L482.19,82.77 L482.66,84.63 L483.12,86.56 L483.59,88.56 L484.06,90.63 L484.53,92.78 L484.99,95.00 L485.46,97.30 L485.93,99.63 L486.39,101.93 L486.86,104.19 L487.33,106.43 L487.80,108.64 L488.26,110.83 L488.73,112.98 L489.20,115.11 L489.67,117.21 L490.13,119.29 L490.60,121.34 L491.07,123.36 L491.54,125.36 L492.00,127.33 L492.47,129.28 L492.94,131.21 L493.40,133.11 L493.87,134.99 L494.34,136.85 L494.81,138.68 L495.27,140.49 L495.74,142.28 L496.21,144.05 L496.68,145.80 L497.14,147.53 L497.61,149.23 L498.08,150.92 L498.55,152.58 L499.01,154.23 L499.48,155.86 L499.95,157.46 L500.41,159.05 L500.88,160.62 L501.35,162.18 L501.82,163.71 L502.28,165.23 L502.75,166.73 L503.22,168.21 L503.69,169.68 L504.15,171.13 L504.62,172.56 L505.09,173.98 L505.56,175.38 L506.02,176.76 L506.49,178.13 L506.96,179.49 L507.42,180.83 L507.89,182.15 L508.36,183.47 L508.83,184.76 L509.29,186.05 L509.76,187.32 L510.23,188.57 L510.70,189.81 L511.16,191.04 L511.63,192.26 L512.10,193.46 L512.57,194.66 L513.03,195.84 L513.50,197.00 L513.97,198.16 L514.43,199.30 L514.90,200.43 L515.37,201.55 L515.84,202.66 L516.30,203.76 L516.77,204.85 L517.24,205.93 L517.71,206.99 L518.17,208.05 L518.64,209.09 L519.11,210.13 L519.58,211.15 L520.04,212.17 L520.51,213.18 L520.98,214.17 L521.44,215.16 L521.91,216.14 L522.38,217.11 L522.85,218.07 L523.31,219.02 L523.78,219.97 L524.25,220.90 L524.72,221.83 L525.18,222.75 L525.65,223.66 L526.12,224.56 L526.59,225.46 L527.05,226.34 L527.52,227.22 L527.99,228.10 L528.45,228.96 L528.92,229.82 L529.39,230.67 L529.86,231.52 L530.32,232.35 L530.79,233.18 L531.26,234.01 L531.73,234.83 L532.19,235.64 L532.66,236.44 L533.13,237.24 L533.60,238.03 L534.06,238.82 L534.53,239.60 L535.00,240.37 L535.46,241.14 L535.93,241.91 L536.40,242.67 L536.87,243.42 L537.33,244.17 L537.80,244.91 L538.27,245.64 L538.74,246.38 L539.20,247.10 L539.67,247.83 L540.14,248.54 L540.61,249.25 L541.07,249.96 L541.54,250.67 L542.01,251.36 L542.47,252.06 L542.94,252.75 L543.41,253.43 L543.88,254.12 L544.34,254.79 L544.81,255.47 L545.28,256.13 L545.75,256.80 L546.21,257.46 L546.68,258.12 L547.15,258.77 L547.62,259.42 L548.08,260.07 L548.55,260.71 L549.02,261.35 L549.48,261.99 L549.95,262.62 L550.42,263.25 L550.89,263.88 L551.35,264.50 L551.82,265.12 L552.29,265.74 L552.76,266.35 L553.22,266.96 L553.69,267.57 L554.16,268.17 L554.63,268.78 L555.09,269.38 L555.56,269.97 L556.03,270.57 L556.49,271.16 L556.96,271.75 L557.43,272.34 L557.90,272.92 L558.36,273.50 L558.83,274.08 L559.30,274.66 L559.77,275.23 L560.23,275.80 L560.70,276.75 L561.17,277.66 L561.64,278.56 L562.10,279.43 L562.57,280.28 L563.04,281.11 L563.50,281.92 L563.97,282.71 L564.44,283.48 L564.91,284.23 L565.37,284.96 L565.84,285.68 L566.31,286.38 L566.78,287.05 L567.24,287.72 L567.71,288.36 L568.18,288.99 L568.65,289.61 L569.11,290.21 L569.58,290.79 L570.05,291.36 L570.51,291.92 L570.98,292.46 L571.45,292.99 L571.92,293.51 L572.38,294.01 L572.85,294.50 L573.32,294.98 L573.79,295.45 L574.25,295.91 L574.72,296.35 L575.19,296.78 L575.66,297.21 L576.12,297.62 L576.59,298.02 L577.06,298.41 L577.52,298.79 L577.99,299.17 L578.46,299.53 L578.93,299.89 L579.39,300.23 L579.86,300.57 L580.33,300.90 L580.80,301.22 L581.26,301.53 L581.73,301.84 L582.20,302.14 L582.67,302.43 L583.13,302.71 L583.60,302.99 L584.07,303.26 L584.53,303.52 L585.00,303.77 L585.47,304.02 L585.94,304.27 L586.40,304.51 L586.87,304.74 L587.34,304.96 L587.81,305.18 L588.27,305.40 L588.74,305.61 L589.21,305.81 L589.68,306.01 L590.14,306.21 L590.61,306.40 L591.08,306.58 L591.54,306.76 L592.01,306.94 L592.48,307.11 L592.95,307.28 L593.41,307.44 L593.88,307.60 L594.35,307.76 L594.82,307.91 L595.28,308.06 L595.75,308.20 L596.22,308.34 L596.69,308.48 L597.15,308.61 L597.62,308.74 L598.09,308.87 L598.55,309.00 L599.02,309.12 L599.49,309.23 L599.96,309.35 L600.42,309.46 L600.89,309.57 L601.36,309.68 L601.83,309.78 L602.29,309.88 L602.76,309.98 L603.23,310.08 L603.70,310.17 L604.16,310.27 L604.63,310.36 L605.10,310.44 L605.56,310.53 L606.03,310.61 L606.50,310.69 L606.97,310.77 L607.43,310.85 L607.90,310.93 L608.37,311.00 L608.84,311.07 L609.30,311.14 L609.77,311.21 L610.24,311.27 L610.71,311.34 L611.17,311.40 L611.64,311.46 L612.11,311.52 L612.57,311.58 L613.04,311.64 L613.51,311.70 L613.98,311.75 L614.44,311.80 L614.91,311.86 L615.38,311.91 L615.85,311.96 L616.31,312.00 L616.78,312.05 L617.25,312.10 L617.72,312.14 L618.18,312.18 L618.65,312.23 L619.12,312.27 L619.58,312.31 L620.05,312.35 L620.52,312.39 L620.99,312.42 L621.45,312.46 L621.92,312.49 L622.39,312.53 L622.86,312.56 L623.32,312.60 L623.79,312.63 L624.26,312.66 L624.73,312.69 L625.19,312.72 L625.66,312.75 L626.13,312.78 L626.59,312.81 L627.06,312.83 L627.53,312.86 L628.00,312.88 L628.46,312.91 L628.93,312.93 L629.40,312.96 L629.87,312.98 L630.33,313.00 L630.80,313.03 L631.27,313.05 L631.74,313.07 L632.20,313.09 L632.67,313.11 L633.14,313.13 L633.60,313.15 L634.07,313.17 L634.54,313.18 L635.01,313.20 L635.47,313.22 L635.94,313.24 L636.41,313.25 L636.88,313.27 L637.34,313.28 L637.81,313.30 L638.28,313.31 L638.75,313.33 L639.21,313.34 L639.68,313.36 L640.15,313.37 L640.61,313.38 L641.08,313.40 L641.55,313.41 L642.02,313.42 L642.48,313.43 L642.95,313.44 L643.42,313.46 L643.89,313.47 L644.35,313.48 L644.82,313.49 L645.29,313.50 L645.76,313.51 L646.22,313.52 L646.69,313.53 L647.16,313.54 L647.62,313.54 L648.09,313.55 L648.56,313.56 L649.03,313.57 L649.49,313.58 L649.96,313.59 L650.43,313.59 L650.90,313.60 L651.36,313.61 L651.83,313.62 L652.30,313.62 L652.77,313.63 L653.23,313.64 L653.70,313.64" fill="none" stroke="#000" stroke-width="2.00"/><path d="M373.30,253.41 L373.77,253.41 L374.23,253.41 L374.70,253.41 L375.17,253.41 L375.64,253.41 L376.10,253.41 L376.57,253.41 L377.04,253.41 L377.51,253.41 L377.97,253.41 L378.44,253.41 L378.91,253.41 L379.38,253.41 L379.84,253.41 L380.31,253.41 L380.78,253.41 L381.24,253.41 L381.71,253.41 L382.18,253.41 L382.65,253.41 L383.11,253.41 L383.58,253.41 L384.05,253.41 L384.52,253.41 L384.98,253.41 L385.45,253.41 L385.92,253.41 L386.39,253.41 L386.85,253.41 L387.32,253.41 L387.79,253.41 L388.25,253.41 L388.72,253.41 L389.19,253.41 L389.66,253.41 L390.12,253.41 L390.59,253.41 L391.06,253.41 L391.53,253.41 L391.99,253.41 L392.46,253.41 L392.93,253.41 L393.40,253.41 L393.86,253.41 L394.33,253.41 L394.80,253.41 L395.26,253.41 L395.73,253.41 L396.20,253.41 L396.67,253.41 L397.13,253.41 L397.60,253.41 L398.07,253.41 L398.54,253.41 L399.00,253.41 L399.47,253.41 L399.94,253.41 L400.41,253.41 L400.87,253.41 L401.34,253.41 L401.81,253.41 L402.27,253.41 L402.74,253.41 L403.21,253.41 L403.68,253.41 L404.14,253.41 L404.61,253.41 L405.08,253.41 L405.55,253.41 L406.01,253.41 L406.48,253.41 L406.95,253.41 L407.42,253.41 L407.88,253.41 L408.35,253.41 L408.82,253.41 L409.28,253.41 L409.75,253.41 L410.22,253.41 L410.69,253.41 L411.15,253.41 L411.62,253.41 L412.09,253.41 L412.56,253.41 L413.02,253.41 L413.49,253.41 L413.96,253.41 L414.43,253.41 L414.89,253.41 L415.36,253.41 L415.83,253.41 L416.29,253.41 L416.76,253.41 L417.23,253.41 L417.70,253.41 L418.16,253.41 L418.63,253.41 L419.10,253.41 L419.57,253.41 L420.03,253.41 L420.50,253.41 L420.97,253.41 L421.44,253.41 L421.90,253.41 L422.37,253.41 L422.84,253.41 L423.30,253.41 L423.77,253.41 L424.24,253.41 L424.71,253.41 L425.17,253.41 L425.64,253.41 L426.11,253.41 L426.58,253.41 L427.04,253.41 L427.51,253.41 L427.98,253.41 L428.45,253.41 L428.91,253.41 L429.38,253.41 L429.85,253.41 L430.31,253.41 L430.78,253.41 L431.25,253.41 L431.72,253.41 L432.18,253.41 L432.65,253.41 L433.12,253.41 L433.59,253.41 L434.05,253.41 L434.52,253.41 L434.99,253.41 L435.46,253.41 L435.92,253.41 L436.39,253.41 L436.86,253.41 L437.32,253.41 L437.79,253.41 L438.26,253.41 L438.73,253.41 L439.19,253.41 L439.66,253.41 L440.13,253.41 L440.60,253.41 L441.06,253.41 L441.53,253.41 L442.00,253.41 L442.47,253.41 L442.93,253.41 L443.40,253.41 L443.87,253.41 L444.33,253.41 L444.80,253.41 L445.27,253.41 L445.74,253.41 L446.20,253.41 L446.67,253.41 L447.14,253.41 L447.61,253.41 L448.07,253.41 L448.54,253.41 L449.01,253.41 L449.48,253.41 L449.94,253.41 L450.41,253.41 L450.88,253.41 L451.34,253.41 L451.81,253.41 L452.28,253.41 L452.75,253.41 L453.21,253.41 L453.68,253.41 L454.15,253.41 L454.62,253.41 L455.08,253.41 L455.55,253.41 L456.02,253.41 L456.49,253.41 L456.95,253.41 L457.42,253.41 L457.89,253.41 L458.35,253.41 L458.82,253.41 L459.29,253.41 L459.76,253.41 L460.22,253.41 L460.69,253.41 L461.16,253.41 L461.63,253.41 L462.09,253.41 L462.56,253.41 L463.03,253.41 L463.50,253.41 L463.96,253.41 L464.43,253.41 L464.90,253.41 L465.36,253.41 L465.83,253.41 L466.30,253.41 L466.77,253.41 L467.23,253.41 L467.70,253.41 L468.17,253.41 L468.64,253.41 L469.10,253.41 L469.57,253.41 L470.04,253.41 L470.51,253.41 L470.97,253.41 L471.44,253.41 L471.91,253.41 L472.37,253.41 L472.84,253.41 L473.31,253.41 L473.78,253.41 L474.24,253.41 L474.71,253.41 L475.18,253.41 L475.65,253.41 L476.11,253.41 L476.58,253.41 L477.05,253.41 L477.52,253.41 L477.98,253.41 L478.45,253.41 L478.92,253.41 L479.38,253.41 L479.85,253.41 L480.32,253.41 L480.79,253.41 L481.25,253.41 L481.72,253.41 L482.19,253.41 L482.66,253.41 L483.12,253.41 L483.59,253.41 L484.06,253.41 L484.53,253.41 L484.99,253.41 L485.46,253.41 L485.93,253.41 L486.39,253.42 L486.86,253.43 L487.33,253.45 L487.80,253.47 L488.26,253.50 L488.73,253.53 L489.20,253.56 L489.67,253.60 L490.13,253.65 L490.60,253.70 L491.07,253.75 L491.54,253.81 L492.00,253.87 L492.47,253.94 L492.94,254.01 L493.40,254.08 L493.87,254.16 L494.34,254.24 L494.81,254.33 L495.27,254.42 L495.74,254.51 L496.21,254.61 L496.68,254.71 L497.14,254.82 L497.61,254.92 L498.08,255.04 L498.55,255.15 L499.01,255.27 L499.48,255.39 L499.95,255.52 L500.41,255.65 L500.88,255.78 L501.35,255.92 L501.82,256.06 L502.28,256.20 L502.75,256.34 L503.22,256.49 L503.69,256.64 L504.15,256.80 L504.62,256.96 L505.09,257.12 L505.56,257.28 L506.02,257.45 L506.49,257.61 L506.96,257.79 L507.42,257.96 L507.89,258.14 L508.36,258.32 L508.83,258.50 L509.29,258.69 L509.76,258.88 L510.23,259.07 L510.70,259.26 L511.16,259.46 L511.63,259.65 L512.10,259.85 L512.57,260.06 L513.03,260.26 L513.50,260.47 L513.97,260.68 L514.43,260.89 L514.90,261.11 L515.37,261.33 L515.84,261.54 L516.30,261.77 L516.77,261.99 L517.24,262.22 L517.71,262.44 L518.17,262.67 L518.64,262.91 L519.11,263.14 L519.58,263.38 L520.04,263.62 L520.51,263.86 L520.98,264.10 L521.44,264.34 L521.91,264.59 L522.38,264.84 L522.85,265.09 L523.31,265.34 L523.78,265.60 L524.25,265.85 L524.72,266.11 L525.18,266.37 L525.65,266.63 L526.12,266.89 L526.59,267.16 L527.05,267.43 L527.52,267.69 L527.99,267.96 L528.45,268.24 L528.92,268.51 L529.39,268.78 L529.86,269.06 L530.32,269.34 L530.79,269.62 L531.26,269.90 L531.73,270.18 L532.19,270.47 L532.66,270.75 L533.13,271.04 L533.60,271.33 L534.06,271.62 L534.53,271.91 L535.00,272.21 L535.46,272.50 L535.93,272.80 L536.40,273.10 L536.87,273.40 L537.33,273.70 L537.80,274.00 L538.27,274.31 L538.74,274.61 L539.20,274.92 L539.67,275.22 L540.14,275.53 L540.61,275.84 L541.07,276.16 L541.54,276.47 L542.01,276.78 L542.47,277.10 L542.94,277.42 L543.41,277.74 L543.88,278.05 L544.34,278.38 L544.81,278.70 L545.28,279.02 L545.75,279.35 L546.21,279.67 L546.68,280.00 L547.15,280.33 L547.62,280.66 L548.08,280.99 L548.55,281.32 L549.02,281.65 L549.48,281.98 L549.95,282.32 L550.42,282.66 L550.89,282.99 L551.35,283.33 L551.82,283.67 L552.29,284.01 L552.76,284.35 L553.22,284.70 L553.69,285.04 L554.16,285.39 L554.63,285.73 L555.09,286.08 L555.56,286.43 L556.03,286.78 L556.49,287.13 L556.96,287.48 L557.43,287.83 L557.90,288.18 L558.36,288.54 L558.83,288.89 L559.30,289.25 L559.77,289.61 L560.23,289.97 L560.70,290.56 L561.17,291.13 L561.64,291.70 L562.10,292.24 L562.57,292.78 L563.04,293.30 L563.50,293.81 L563.97,294.30 L564.44,294.79 L564.91,295.26 L565.37,295.72 L565.84,296.17 L566.31,296.61 L566.78,297.03 L567.24,297.45 L567.71,297.86 L568.18,298.25 L568.65,298.64 L569.11,299.02 L569.58,299.38 L570.05,299.74 L570.51,300.09 L570.98,300.43 L571.45,300.76 L571.92,301.09 L572.38,301.41 L572.85,301.71 L573.32,302.01 L573.79,302.31 L574.25,302.59 L574.72,302.87 L575.19,303.15 L575.66,303.41 L576.12,303.67 L576.59,303.92 L577.06,304.17 L577.52,304.41 L577.99,304.64 L578.46,304.87 L578.93,305.10 L579.39,305.31 L579.86,305.52 L580.33,305.73 L580.80,305.93 L581.26,306.13 L581.73,306.32 L582.20,306.51 L582.67,306.69 L583.13,306.87 L583.60,307.04 L584.07,307.21 L584.53,307.38 L585.00,307.54 L585.47,307.70 L585.94,307.85 L586.40,308.00 L586.87,308.14 L587.34,308.29 L587.81,308.42 L588.27,308.56 L588.74,308.69 L589.21,308.82 L589.68,308.95 L590.14,309.07 L590.61,309.19 L591.08,309.30 L591.54,309.42 L592.01,309.53 L592.48,309.64 L592.95,309.74 L593.41,309.84 L593.88,309.94 L594.35,310.04 L594.82,310.14 L595.28,310.23 L595.75,310.32 L596.22,310.41 L596.69,310.49 L597.15,310.58 L597.62,310.66 L598.09,310.74 L598.55,310.82 L599.02,310.89 L599.49,310.97 L599.96,311.04 L600.42,311.11 L600.89,311.18 L601.36,311.25 L601.83,311.31 L602.29,311.38 L602.76,311.44 L603.23,311.50 L603.70,311.56 L604.16,311.62 L604.63,311.67 L605.10,311.73 L605.56,311.78 L606.03,311.83 L606.50,311.89 L606.97,311.94 L607.43,311.98 L607.90,312.03 L608.37,312.08 L608.84,312.12 L609.30,312.17 L609.77,312.21 L610.24,312.25 L610.71,312.29 L611.17,312.33 L611.64,312.37 L612.11,312.41 L612.57,312.44 L613.04,312.48 L613.51,312.52 L613.98,312.55 L614.44,312.58 L614.91,312.62 L615.38,312.65 L615.85,312.68 L616.31,312.71 L616.78,312.74 L617.25,312.77 L617.72,312.79 L618.18,312.82 L618.65,312.85 L619.12,312.87 L619.58,312.90 L620.05,312.92 L620.52,312.95 L620.99,312.97 L621.45,312.99 L621.92,313.02 L622.39,313.04 L622.86,313.06 L623.32,313.08 L623.79,313.10 L624.26,313.12 L624.73,313.14 L625.19,313.16 L625.66,313.18 L626.13,313.20 L626.59,313.21 L627.06,313.23 L627.53,313.25 L628.00,313.26 L628.46,313.28 L628.93,313.29 L629.40,313.31 L629.87,313.32 L630.33,313.34 L630.80,313.35 L631.27,313.36 L631.74,313.38 L632.20,313.39 L632.67,313.40 L633.14,313.42 L633.60,313.43 L634.07,313.44 L634.54,313.45 L635.01,313.46 L635.47,313.47 L635.94,313.48 L636.41,313.49 L636.88,313.50 L637.34,313.51 L637.81,313.52 L638.28,313.53 L638.75,313.54 L639.21,313.55 L639.68,313.56 L640.15,313.57 L640.61,313.58 L641.08,313.58 L641.55,313.59 L642.02,313.60 L642.48,313.61 L642.95,313.61 L643.42,313.62 L643.89,313.63 L644.35,313.63 L644.82,313.64 L645.29,313.65 L645.76,313.65 L646.22,313.66 L646.69,313.67 L647.16,313.67 L647.62,313.68 L648.09,313.68 L648.56,313.69 L649.03,313.69 L649.49,313.70 L649.96,313.70 L650.43,313.71 L650.90,313.71 L651.36,313.72 L651.83,313.72 L652.30,313.73 L652.77,313.73 L653.23,313.73 L653.70,313.74" fill="none" stroke="#000" stroke-width="2.00"/></g>
<rect x="373.30" y="30.40" width="280.40" height="283.50" fill="none" stroke="#fff" stroke-opacity="0.55" stroke-width="4.40"/>
<path d="M391.99,313.90 V306.90 M391.99,30.40 V37.40 M438.73,313.90 V306.90 M438.73,30.40 V37.40 M485.46,313.90 V306.90 M485.46,30.40 V37.40 M532.19,313.90 V306.90 M532.19,30.40 V37.40 M578.93,313.90 V306.90 M578.93,30.40 V37.40 M625.66,313.90 V306.90 M625.66,30.40 V37.40 M373.30,257.20 H380.30 M653.70,257.20 H646.70 M373.30,200.50 H380.30 M653.70,200.50 H646.70 M373.30,143.80 H380.30 M653.70,143.80 H646.70 M373.30,87.10 H380.30 M653.70,87.10 H646.70" stroke="#000" stroke-width="1.5" fill="none"/>
<rect x="373.30" y="30.40" width="280.40" height="283.50" fill="none" stroke="#000" stroke-width="2.00"/>
<clipPath id="c2"><rect x="669.50" y="30.40" width="280.40" height="283.50"/></clipPath>
<g clip-path="url(#c2)"><path d="M669.50,30.43 L669.97,30.43 L670.43,30.43 L670.90,30.44 L671.37,30.44 L671.84,30.44 L672.30,30.44 L672.77,30.44 L673.24,30.44 L673.71,30.44 L674.17,30.44 L674.64,30.45 L675.11,30.45 L675.58,30.45 L676.04,30.45 L676.51,30.45 L676.98,30.45 L677.44,30.45 L677.91,30.46 L678.38,30.46 L678.85,30.46 L679.31,30.46 L679.78,30.46 L680.25,30.47 L680.72,30.47 L681.18,30.47 L681.65,30.47 L682.12,30.47 L682.59,30.48 L683.05,30.48 L683.52,30.48 L683.99,30.48 L684.45,30.49 L684.92,30.49 L685.39,30.49 L685.86,30.49 L686.32,30.50 L686.79,30.50 L687.26,30.50 L687.73,30.51 L688.19,30.51 L688.66,30.51 L689.13,30.52 L689.60,30.52 L690.06,30.52 L690.53,30.53 L691.00,30.53 L691.46,30.53 L691.93,30.54 L692.40,30.54 L692.87,30.55 L693.33,30.55 L693.80,30.56 L694.27,30.56 L694.74,30.56 L695.20,30.57 L695.67,30.58 L696.14,30.58 L696.61,30.59 L697.07,30.59 L697.54,30.60 L698.01,30.60 L698.47,30.61 L698.94,30.62 L699.41,30.62 L699.88,30.63 L700.34,30.64 L700.81,30.64 L701.28,30.65 L701.75,30.66 L702.21,30.67 L702.68,30.67 L703.15,30.68 L703.62,30.69 L704.08,30.70 L704.55,30.71 L705.02,30.72 L705.48,30.73 L705.95,30.74 L706.42,30.75 L706.89,30.76 L707.35,30.77 L707.82,30.78 L708.29,30.79 L708.76,30.81 L709.22,30.82 L709.69,30.83 L710.16,30.84 L710.63,30.86 L711.09,30.87 L711.56,30.89 L712.03,30.90 L712.49,30.92 L712.96,30.93 L713.43,30.95 L713.90,30.96 L714.36,30.98 L714.83,31.00 L715.30,31.02 L715.77,31.04 L716.23,31.06 L716.70,31.08 L717.17,31.10 L717.64,31.12 L718.10,31.14 L718.57,31.16 L719.04,31.18 L719.50,31.21 L719.97,31.23 L720.44,31.26 L720.91,31.28 L721.37,31.31 L721.84,31.34 L722.31,31.37 L722.78,31.40 L723.24,31.43 L723.71,31.46 L724.18,31.49 L724.65,31.52 L725.11,31.56 L725.58,31.59 L726.05,31.63 L726.51,31.67 L726.98,31.71 L727.45,31.75 L727.92,31.79 L728.38,31.83 L728.85,31.87 L729.32,31.92 L729.79,31.96 L730.25,32.01 L730.72,32.06 L731.19,32.11 L731.66,32.16 L732.12,32.22 L732.59,32.27 L733.06,32.33 L733.52,32.39 L733.99,32.45 L734.46,32.51 L734.93,32.58 L735.39,32.64 L735.86,32.71 L736.33,32.78 L736.80,32.85 L737.26,32.93 L737.73,33.00 L738.20,33.08 L738.67,33.17 L739.13,33.25 L739.60,33.34 L740.07,33.43 L740.53,33.52 L741.00,33.61 L741.47,33.71 L741.94,33.81 L742.40,33.92 L742.87,34.02 L743.34,34.13 L743.81,34.25 L744.27,34.36 L744.74,34.48 L745.21,34.61 L745.68,34.74 L746.14,34.87 L746.61,35.01 L747.08,35.15 L747.54,35.29 L748.01,35.44 L748.48,35.59 L748.95,35.75 L749.41,35.91 L749.88,36.08 L750.35,36.25 L750.82,36.43 L751.28,36.62 L751.75,36.81 L752.22,37.00 L752.69,37.20 L753.15,37.41 L753.62,37.62 L754.09,37.84 L754.55,38.07 L755.02,38.30 L755.49,38.54 L755.96,38.79 L756.42,39.05 L756.89,39.31 L757.36,39.58 L757.83,39.86 L758.29,40.15 L758.76,40.45 L759.23,40.75 L759.70,41.07 L760.16,41.39 L760.63,41.73 L761.10,42.07 L761.56,42.43 L762.03,42.79 L762.50,43.17 L762.97,43.56 L763.43,43.96 L763.90,44.37 L764.37,44.80 L764.84,45.24 L765.30,45.69 L765.77,46.16 L766.24,46.64 L766.71,47.13 L767.17,47.64 L767.64,48.16 L768.11,48.71 L768.57,49.26 L769.04,49.84 L769.51,50.43 L769.98,51.04 L770.44,51.67 L770.91,52.32 L771.38,52.98 L771.85,53.67 L772.31,54.38 L772.78,55.11 L773.25,55.86 L773.72,56.64 L774.18,57.44 L774.65,58.26 L775.12,59.11 L775.58,59.98 L776.05,60.88 L776.52,61.81 L776.99,62.77 L777.45,63.76 L777.92,64.77 L778.39,65.82 L778.86,66.90 L779.32,68.01 L779.79,69.15 L780.26,70.33 L780.73,71.55 L781.19,72.80 L781.66,74.09 L782.13,75.38 L782.59,76.62 L783.06,77.82 L783.53,78.98 L784.00,80.10 L784.46,81.18 L784.93,82.22 L785.40,83.24 L785.87,84.22 L786.33,85.17 L786.80,86.09 L787.27,86.98 L787.74,87.85 L788.20,88.70 L788.67,89.52 L789.14,90.32 L789.60,91.10 L790.07,91.87 L790.54,92.61 L791.01,93.33 L791.47,94.04 L791.94,94.73 L792.41,95.41 L792.88,96.08 L793.34,96.73 L793.81,97.37 L794.28,97.99 L794.75,98.61 L795.21,99.21 L795.68,99.81 L796.15,100.39 L796.61,100.97 L797.08,101.54 L797.55,102.10 L798.02,102.66 L798.48,103.21 L798.95,103.75 L799.42,104.28 L799.89,104.81 L800.35,105.34 L800.82,105.86 L801.29,106.37 L801.76,106.89 L802.22,107.39 L802.69,107.90 L803.16,108.40 L803.62,108.90 L804.09,109.39 L804.56,109.89 L805.03,110.38 L805.49,110.86 L805.96,111.35 L806.43,111.84 L806.90,112.32 L807.36,112.80 L807.83,113.28 L808.30,113.76 L808.77,114.24 L809.23,114.72 L809.70,115.20 L810.17,115.68 L810.63,116.16 L811.10,116.64 L811.57,117.11 L812.04,117.59 L812.50,118.07 L812.97,118.55 L813.44,119.03 L813.91,119.51 L814.37,119.99 L814.84,120.47 L815.31,120.95 L815.78,121.44 L816.24,121.92 L816.71,122.40 L817.18,122.89 L817.64,123.38 L818.11,123.87 L818.58,124.36 L819.05,124.85 L819.51,125.34 L819.98,125.84 L820.45,126.33 L820.92,126.83 L821.38,127.33 L821.85,127.83 L822.32,128.33 L822.79,128.84 L823.25,129.34 L823.72,129.85 L824.19,130.36 L824.65,130.88 L825.12,131.39 L825.59,131.91 L826.06,132.43 L826.52,132.95 L826.99,133.47 L827.46,133.99 L827.93,134.52 L828.39,135.05 L828.86,135.58 L829.33,136.12 L829.80,136.65 L830.26,137.19 L830.73,137.73 L831.20,138.28 L831.66,138.82 L832.13,139.37 L832.60,139.92 L833.07,140.48 L833.53,141.03 L834.00,141.59 L834.47,142.15 L834.94,142.72 L835.40,143.28 L835.87,143.85 L836.34,144.42 L836.81,145.00 L837.27,145.57 L837.74,146.16 L838.21,146.74 L838.67,147.32 L839.14,147.91 L839.61,148.50 L840.08,149.10 L840.54,149.69 L841.01,150.29 L841.48,150.90 L841.95,151.50 L842.41,152.11 L842.88,152.72 L843.35,153.34 L843.82,153.96 L844.28,154.58 L844.75,155.20 L845.22,155.83 L845.68,156.46 L846.15,157.09 L846.62,157.73 L847.09,158.37 L847.55,159.01 L848.02,159.65 L848.49,160.30 L848.96,160.95 L849.42,161.61 L849.89,162.27 L850.36,162.93 L850.83,163.59 L851.29,164.26 L851.76,164.93 L852.23,165.61 L852.69,166.29 L853.16,166.97 L853.63,167.65 L854.10,168.34 L854.56,169.03 L855.03,169.73 L855.50,170.43 L855.97,171.13 L856.43,171.84 L856.90,172.55 L857.37,173.26 L857.84,173.98 L858.30,174.70 L858.77,175.42 L859.24,176.15 L859.70,176.88 L860.17,177.61 L860.64,178.35 L861.11,179.09 L861.57,179.84 L862.04,180.59 L862.51,181.34 L862.98,182.10 L863.44,182.86 L863.91,183.62 L864.38,184.39 L864.85,185.16 L865.31,185.94 L865.78,186.72 L866.25,187.50 L866.71,188.29 L867.18,189.08 L867.65,189.88 L868.12,190.67 L868.58,191.48 L869.05,192.29 L869.52,193.10 L869.99,193.91 L870.45,194.73 L870.92,195.56 L871.39,196.38 L871.86,197.22 L872.32,198.05 L872.79,198.89 L873.26,199.74 L873.72,200.59 L874.19,201.44 L874.66,202.30 L875.13,203.16 L875.59,204.02 L876.06,204.90 L876.53,205.77 L877.00,206.65 L877.46,207.53 L877.93,208.42 L878.40,209.31 L878.87,210.21 L879.33,211.11 L879.80,212.02 L880.27,212.93 L880.73,213.84 L881.20,214.76 L881.67,215.69 L882.14,216.61 L882.60,217.55 L883.07,218.49 L883.54,219.43 L884.01,220.38 L884.47,221.33 L884.94,222.29 L885.41,223.25 L885.88,224.21 L886.34,225.19 L886.81,226.16 L887.28,227.14 L887.74,228.13 L888.21,229.12 L888.68,230.12 L889.15,231.12 L889.61,232.12 L890.08,233.14 L890.55,234.15 L891.02,235.17 L891.48,236.20 L891.95,237.23 L892.42,238.27 L892.89,239.31 L893.35,240.36 L893.82,241.41 L894.29,242.47 L894.75,243.53 L895.22,244.60 L895.69,245.67 L896.16,246.75 L896.62,247.84 L897.09,248.93 L897.56,250.02 L898.03,251.12 L898.49,252.23 L898.96,253.34 L899.43,254.46 L899.90,255.58 L900.36,256.71 L900.83,257.84 L901.30,258.98 L901.76,260.13 L902.23,261.28 L902.70,262.44 L903.17,263.60 L903.63,264.77 L904.10,265.94 L904.57,267.13 L905.04,268.31 L905.50,269.50 L905.97,270.70 L906.44,271.91 L906.91,273.12 L907.37,274.34 L907.84,275.56 L908.31,276.79 L908.77,278.02 L909.24,279.26 L909.71,280.51 L910.18,281.76 L910.64,283.02 L911.11,284.29 L911.58,285.56 L912.05,286.84 L912.51,288.13 L912.98,289.14 L913.45,290.11 L913.92,291.04 L914.38,291.94 L914.85,292.80 L915.32,293.63 L915.78,294.42 L916.25,295.19 L916.72,295.92 L917.19,296.62 L917.65,297.30 L918.12,297.95 L918.59,298.58 L919.06,299.18 L919.52,299.76 L919.99,300.31 L920.46,300.84 L920.93,301.36 L921.39,301.85 L921.86,302.32 L922.33,302.77 L922.79,303.21 L923.26,303.63 L923.73,304.03 L924.20,304.42 L924.66,304.79 L925.13,305.15 L925.60,305.49 L926.07,305.82 L926.53,306.14 L927.00,306.44 L927.47,306.73 L927.94,307.02 L928.40,307.29 L928.87,307.54 L929.34,307.79 L929.80,308.03 L930.27,308.26 L930.74,308.48 L931.21,308.70 L931.67,308.90 L932.14,309.10 L932.61,309.28 L933.08,309.47 L933.54,309.64 L934.01,309.81 L934.48,309.97 L934.95,310.12 L935.41,310.27 L935.88,310.41 L936.35,310.55 L936.81,310.68 L937.28,310.81 L937.75,310.93 L938.22,311.04 L938.68,311.16 L939.15,311.26 L939.62,311.37 L940.09,311.47 L940.55,311.56 L941.02,311.65 L941.49,311.74 L941.96,311.83 L942.42,311.91 L942.89,311.99 L943.36,312.06 L943.82,312.13 L944.29,312.20 L944.76,312.27 L945.23,312.33 L945.69,312.39 L946.16,312.45 L946.63,312.51 L947.10,312.56 L947.56,312.62 L948.03,312.67 L948.50,312.72 L948.97,312.76 L949.43,312.81 L949.90,312.85 L949.90,313.90 L669.50,313.90 Z" fill="#fae6e1"/><path d="M669.50,100.31 L669.97,100.31 L670.43,100.31 L670.90,100.31 L671.37,100.31 L671.84,100.31 L672.30,100.31 L672.77,100.31 L673.24,100.31 L673.71,100.31 L674.17,100.31 L674.64,100.31 L675.11,100.31 L675.58,100.31 L676.04,100.31 L676.51,100.31 L676.98,100.31 L677.44,100.31 L677.91,100.31 L678.38,100.31 L678.85,100.31 L679.31,100.31 L679.78,100.31 L680.25,100.31 L680.72,100.31 L681.18,100.31 L681.65,100.31 L682.12,100.31 L682.59,100.31 L683.05,100.31 L683.52,100.31 L683.99,100.31 L684.45,100.31 L684.92,100.31 L685.39,100.31 L685.86,100.31 L686.32,100.31 L686.79,100.31 L687.26,100.31 L687.73,100.31 L688.19,100.31 L688.66,100.31 L689.13,100.31 L689.60,100.31 L690.06,100.31 L690.53,100.31 L691.00,100.31 L691.46,100.31 L691.93,100.31 L692.40,100.31 L692.87,100.31 L693.33,100.31 L693.80,100.31 L694.27,100.31 L694.74,100.31 L695.20,100.31 L695.67,100.31 L696.14,100.31 L696.61,100.31 L697.07,100.31 L697.54,100.31 L698.01,100.31 L698.47,100.31 L698.94,100.31 L699.41,100.31 L699.88,100.31 L700.34,100.31 L700.81,100.31 L701.28,100.31 L701.75,100.31 L702.21,100.31 L702.68,100.31 L703.15,100.31 L703.62,100.31 L704.08,100.31 L704.55,100.31 L705.02,100.31 L705.48,100.31 L705.95,100.31 L706.42,100.31 L706.89,100.31 L707.35,100.31 L707.82,100.31 L708.29,100.31 L708.76,100.31 L709.22,100.31 L709.69,100.31 L710.16,100.31 L710.63,100.31 L711.09,100.31 L711.56,100.31 L712.03,100.31 L712.49,100.31 L712.96,100.31 L713.43,100.31 L713.90,100.31 L714.36,100.31 L714.83,100.31 L715.30,100.31 L715.77,100.31 L716.23,100.31 L716.70,100.31 L717.17,100.31 L717.64,100.31 L718.10,100.31 L718.57,100.31 L719.04,100.31 L719.50,100.31 L719.97,100.31 L720.44,100.31 L720.91,100.31 L721.37,100.31 L721.84,100.31 L722.31,100.31 L722.78,100.31 L723.24,100.31 L723.71,100.31 L724.18,100.31 L724.65,100.31 L725.11,100.31 L725.58,100.31 L726.05,100.31 L726.51,100.31 L726.98,100.31 L727.45,100.31 L727.92,100.31 L728.38,100.31 L728.85,100.31 L729.32,100.31 L729.79,100.31 L730.25,100.31 L730.72,100.31 L731.19,100.31 L731.66,100.31 L732.12,100.31 L732.59,100.31 L733.06,100.31 L733.52,100.31 L733.99,100.31 L734.46,100.31 L734.93,100.31 L735.39,100.31 L735.86,100.31 L736.33,100.31 L736.80,100.31 L737.26,100.31 L737.73,100.31 L738.20,100.31 L738.67,100.31 L739.13,100.31 L739.60,100.31 L740.07,100.31 L740.53,100.31 L741.00,100.31 L741.47,100.31 L741.94,100.31 L742.40,100.31 L742.87,100.31 L743.34,100.31 L743.81,100.31 L744.27,100.31 L744.74,100.31 L745.21,100.31 L745.68,100.31 L746.14,100.31 L746.61,100.31 L747.08,100.31 L747.54,100.31 L748.01,100.31 L748.48,100.31 L748.95,100.31 L749.41,100.31 L749.88,100.31 L750.35,100.31 L750.82,100.31 L751.28,100.31 L751.75,100.31 L752.22,100.31 L752.69,100.31 L753.15,100.31 L753.62,100.31 L754.09,100.31 L754.55,100.31 L755.02,100.31 L755.49,100.31 L755.96,100.31 L756.42,100.31 L756.89,100.31 L757.36,100.31 L757.83,100.31 L758.29,100.31 L758.76,100.31 L759.23,100.31 L759.70,100.31 L760.16,100.31 L760.63,100.31 L761.10,100.31 L761.56,100.31 L762.03,100.31 L762.50,100.31 L762.97,100.31 L763.43,100.31 L763.90,100.31 L764.37,100.31 L764.84,100.31 L765.30,100.31 L765.77,100.31 L766.24,100.31 L766.71,100.31 L767.17,100.31 L767.64,100.31 L768.11,100.31 L768.57,100.31 L769.04,100.31 L769.51,100.31 L769.98,100.31 L770.44,100.31 L770.91,100.31 L771.38,100.31 L771.85,100.31 L772.31,100.31 L772.78,100.31 L773.25,100.31 L773.72,100.31 L774.18,100.31 L774.65,100.31 L775.12,100.31 L775.58,100.31 L776.05,100.31 L776.52,100.31 L776.99,100.31 L777.45,100.31 L777.92,100.31 L778.39,100.31 L778.86,100.31 L779.32,100.31 L779.79,100.31 L780.26,100.31 L780.73,100.31 L781.19,100.31 L781.66,100.31 L782.13,100.32 L782.59,100.34 L783.06,100.39 L783.53,100.44 L784.00,100.51 L784.46,100.60 L784.93,100.70 L785.40,100.81 L785.87,100.93 L786.33,101.07 L786.80,101.21 L787.27,101.37 L787.74,101.54 L788.20,101.72 L788.67,101.91 L789.14,102.10 L789.60,102.31 L790.07,102.52 L790.54,102.75 L791.01,102.98 L791.47,103.21 L791.94,103.46 L792.41,103.71 L792.88,103.97 L793.34,104.24 L793.81,104.51 L794.28,104.79 L794.75,105.07 L795.21,105.36 L795.68,105.66 L796.15,105.96 L796.61,106.27 L797.08,106.58 L797.55,106.89 L798.02,107.21 L798.48,107.54 L798.95,107.87 L799.42,108.20 L799.89,108.54 L800.35,108.89 L800.82,109.23 L801.29,109.58 L801.76,109.94 L802.22,110.30 L802.69,110.66 L803.16,111.03 L803.62,111.40 L804.09,111.77 L804.56,112.15 L805.03,112.53 L805.49,112.91 L805.96,113.30 L806.43,113.69 L806.90,114.08 L807.36,114.48 L807.83,114.88 L808.30,115.28 L808.77,115.69 L809.23,116.09 L809.70,116.51 L810.17,116.92 L810.63,117.34 L811.10,117.76 L811.57,118.18 L812.04,118.61 L812.50,119.04 L812.97,119.47 L813.44,119.90 L813.91,120.34 L814.37,120.78 L814.84,121.22 L815.31,121.67 L815.78,122.12 L816.24,122.57 L816.71,123.02 L817.18,123.48 L817.64,123.94 L818.11,124.40 L818.58,124.86 L819.05,125.33 L819.51,125.80 L819.98,126.27 L820.45,126.75 L820.92,127.22 L821.38,127.70 L821.85,128.19 L822.32,128.67 L822.79,129.16 L823.25,129.65 L823.72,130.14 L824.19,130.64 L824.65,131.14 L825.12,131.64 L825.59,132.15 L826.06,132.65 L826.52,133.16 L826.99,133.67 L827.46,134.19 L827.93,134.71 L828.39,135.23 L828.86,135.75 L829.33,136.28 L829.80,136.80 L830.26,137.34 L830.73,137.87 L831.20,138.41 L831.66,138.95 L832.13,139.49 L832.60,140.03 L833.07,140.58 L833.53,141.13 L834.00,141.69 L834.47,142.24 L834.94,142.80 L835.40,143.37 L835.87,143.93 L836.34,144.50 L836.81,145.07 L837.27,145.64 L837.74,146.22 L838.21,146.80 L838.67,147.38 L839.14,147.97 L839.61,148.56 L840.08,149.15 L840.54,149.74 L841.01,150.34 L841.48,150.94 L841.95,151.54 L842.41,152.15 L842.88,152.76 L843.35,153.37 L843.82,153.99 L844.28,154.61 L844.75,155.23 L845.22,155.86 L845.68,156.48 L846.15,157.12 L846.62,157.75 L847.09,158.39 L847.55,159.03 L848.02,159.68 L848.49,160.32 L848.96,160.97 L849.42,161.63 L849.89,162.29 L850.36,162.95 L850.83,163.61 L851.29,164.28 L851.76,164.95 L852.23,165.62 L852.69,166.30 L853.16,166.98 L853.63,167.67 L854.10,168.35 L854.56,169.05 L855.03,169.74 L855.50,170.44 L855.97,171.14 L856.43,171.85 L856.90,172.55 L857.37,173.27 L857.84,173.98 L858.30,174.70 L858.77,175.43 L859.24,176.15 L859.70,176.88 L860.17,177.62 L860.64,178.36 L861.11,179.10 L861.57,179.84 L862.04,180.59 L862.51,181.34 L862.98,182.10 L863.44,182.86 L863.91,183.63 L864.38,184.39 L864.85,185.16 L865.31,185.94 L865.78,186.72 L866.25,187.50 L866.71,188.29 L867.18,189.08 L867.65,189.88 L868.12,190.68 L868.58,191.48 L869.05,192.29 L869.52,193.10 L869.99,193.92 L870.45,194.73 L870.92,195.56 L871.39,196.39 L871.86,197.22 L872.32,198.05 L872.79,198.89 L873.26,199.74 L873.72,200.59 L874.19,201.44 L874.66,202.30 L875.13,203.16 L875.59,204.03 L876.06,204.90 L876.53,205.77 L877.00,206.65 L877.46,207.53 L877.93,208.42 L878.40,209.31 L878.87,210.21 L879.33,211.11 L879.80,212.02 L880.27,212.93 L880.73,213.84 L881.20,214.76 L881.67,215.69 L882.14,216.62 L882.60,217.55 L883.07,218.49 L883.54,219.43 L884.01,220.38 L884.47,221.33 L884.94,222.29 L885.41,223.25 L885.88,224.21 L886.34,225.19 L886.81,226.16 L887.28,227.14 L887.74,228.13 L888.21,229.12 L888.68,230.12 L889.15,231.12 L889.61,232.12 L890.08,233.14 L890.55,234.15 L891.02,235.17 L891.48,236.20 L891.95,237.23 L892.42,238.27 L892.89,239.31 L893.35,240.36 L893.82,241.41 L894.29,242.47 L894.75,243.53 L895.22,244.60 L895.69,245.67 L896.16,246.75 L896.62,247.84 L897.09,248.93 L897.56,250.02 L898.03,251.12 L898.49,252.23 L898.96,253.34 L899.43,254.46 L899.90,255.58 L900.36,256.71 L900.83,257.84 L901.30,258.98 L901.76,260.13 L902.23,261.28 L902.70,262.44 L903.17,263.60 L903.63,264.77 L904.10,265.95 L904.57,267.13 L905.04,268.31 L905.50,269.50 L905.97,270.70 L906.44,271.91 L906.91,273.12 L907.37,274.34 L907.84,275.56 L908.31,276.79 L908.77,278.02 L909.24,279.26 L909.71,280.51 L910.18,281.76 L910.64,283.02 L911.11,284.29 L911.58,285.56 L912.05,286.84 L912.51,288.13 L912.98,289.14 L913.45,290.11 L913.92,291.04 L914.38,291.94 L914.85,292.80 L915.32,293.63 L915.78,294.42 L916.25,295.19 L916.72,295.92 L917.19,296.62 L917.65,297.30 L918.12,297.95 L918.59,298.58 L919.06,299.18 L919.52,299.76 L919.99,300.31 L920.46,300.84 L920.93,301.36 L921.39,301.85 L921.86,302.32 L922.33,302.77 L922.79,303.21 L923.26,303.63 L923.73,304.03 L924.20,304.42 L924.66,304.79 L925.13,305.15 L925.60,305.49 L926.07,305.82 L926.53,306.14 L927.00,306.44 L927.47,306.73 L927.94,307.02 L928.40,307.29 L928.87,307.54 L929.34,307.79 L929.80,308.03 L930.27,308.26 L930.74,308.48 L931.21,308.70 L931.67,308.90 L932.14,309.10 L932.61,309.28 L933.08,309.47 L933.54,309.64 L934.01,309.81 L934.48,309.97 L934.95,310.12 L935.41,310.27 L935.88,310.41 L936.35,310.55 L936.81,310.68 L937.28,310.81 L937.75,310.93 L938.22,311.04 L938.68,311.16 L939.15,311.26 L939.62,311.37 L940.09,311.47 L940.55,311.56 L941.02,311.65 L941.49,311.74 L941.96,311.83 L942.42,311.91 L942.89,311.99 L943.36,312.06 L943.82,312.13 L944.29,312.20 L944.76,312.27 L945.23,312.33 L945.69,312.39 L946.16,312.45 L946.63,312.51 L947.10,312.56 L947.56,312.62 L948.03,312.67 L948.50,312.72 L948.97,312.76 L949.43,312.81 L949.90,312.85 L949.90,313.90 L669.50,313.90 Z" fill="#f4c4b4"/><line x1="781.66" y1="30.40" x2="781.66" y2="313.90" stroke="#fff" stroke-opacity="0.45" stroke-width="3.6" stroke-dasharray="3.6 3.62" stroke-dashoffset="0.6"/><line x1="669.50" y1="172.15" x2="949.90" y2="172.15" stroke="#fff" stroke-opacity="0.45" stroke-width="3.6" stroke-dasharray="3.6 3.61" stroke-dashoffset="0.8"/><line x1="781.66" y1="30.40" x2="781.66" y2="313.90" stroke="#000" stroke-width="1.75" stroke-dasharray="1.75 5.47" stroke-dashoffset="-0.32"/><line x1="669.50" y1="172.15" x2="949.90" y2="172.15" stroke="#000" stroke-width="1.75" stroke-dasharray="1.75 5.46" stroke-dashoffset="-0.12"/><path d="M669.50,30.43 L669.97,30.43 L670.43,30.43 L670.90,30.44 L671.37,30.44 L671.84,30.44 L672.30,30.44 L672.77,30.44 L673.24,30.44 L673.71,30.44 L674.17,30.44 L674.64,30.45 L675.11,30.45 L675.58,30.45 L676.04,30.45 L676.51,30.45 L676.98,30.45 L677.44,30.45 L677.91,30.46 L678.38,30.46 L678.85,30.46 L679.31,30.46 L679.78,30.46 L680.25,30.47 L680.72,30.47 L681.18,30.47 L681.65,30.47 L682.12,30.47 L682.59,30.48 L683.05,30.48 L683.52,30.48 L683.99,30.48 L684.45,30.49 L684.92,30.49 L685.39,30.49 L685.86,30.49 L686.32,30.50 L686.79,30.50 L687.26,30.50 L687.73,30.51 L688.19,30.51 L688.66,30.51 L689.13,30.52 L689.60,30.52 L690.06,30.52 L690.53,30.53 L691.00,30.53 L691.46,30.53 L691.93,30.54 L692.40,30.54 L692.87,30.55 L693.33,30.55 L693.80,30.56 L694.27,30.56 L694.74,30.56 L695.20,30.57 L695.67,30.58 L696.14,30.58 L696.61,30.59 L697.07,30.59 L697.54,30.60 L698.01,30.60 L698.47,30.61 L698.94,30.62 L699.41,30.62 L699.88,30.63 L700.34,30.64 L700.81,30.64 L701.28,30.65 L701.75,30.66 L702.21,30.67 L702.68,30.67 L703.15,30.68 L703.62,30.69 L704.08,30.70 L704.55,30.71 L705.02,30.72 L705.48,30.73 L705.95,30.74 L706.42,30.75 L706.89,30.76 L707.35,30.77 L707.82,30.78 L708.29,30.79 L708.76,30.81 L709.22,30.82 L709.69,30.83 L710.16,30.84 L710.63,30.86 L711.09,30.87 L711.56,30.89 L712.03,30.90 L712.49,30.92 L712.96,30.93 L713.43,30.95 L713.90,30.96 L714.36,30.98 L714.83,31.00 L715.30,31.02 L715.77,31.04 L716.23,31.06 L716.70,31.08 L717.17,31.10 L717.64,31.12 L718.10,31.14 L718.57,31.16 L719.04,31.18 L719.50,31.21 L719.97,31.23 L720.44,31.26 L720.91,31.28 L721.37,31.31 L721.84,31.34 L722.31,31.37 L722.78,31.40 L723.24,31.43 L723.71,31.46 L724.18,31.49 L724.65,31.52 L725.11,31.56 L725.58,31.59 L726.05,31.63 L726.51,31.67 L726.98,31.71 L727.45,31.75 L727.92,31.79 L728.38,31.83 L728.85,31.87 L729.32,31.92 L729.79,31.96 L730.25,32.01 L730.72,32.06 L731.19,32.11 L731.66,32.16 L732.12,32.22 L732.59,32.27 L733.06,32.33 L733.52,32.39 L733.99,32.45 L734.46,32.51 L734.93,32.58 L735.39,32.64 L735.86,32.71 L736.33,32.78 L736.80,32.85 L737.26,32.93 L737.73,33.00 L738.20,33.08 L738.67,33.17 L739.13,33.25 L739.60,33.34 L740.07,33.43 L740.53,33.52 L741.00,33.61 L741.47,33.71 L741.94,33.81 L742.40,33.92 L742.87,34.02 L743.34,34.13 L743.81,34.25 L744.27,34.36 L744.74,34.48 L745.21,34.61 L745.68,34.74 L746.14,34.87 L746.61,35.01 L747.08,35.15 L747.54,35.29 L748.01,35.44 L748.48,35.59 L748.95,35.75 L749.41,35.91 L749.88,36.08 L750.35,36.25 L750.82,36.43 L751.28,36.62 L751.75,36.81 L752.22,37.00 L752.69,37.20 L753.15,37.41 L753.62,37.62 L754.09,37.84 L754.55,38.07 L755.02,38.30 L755.49,38.54 L755.96,38.79 L756.42,39.05 L756.89,39.31 L757.36,39.58 L757.83,39.86 L758.29,40.15 L758.76,40.45 L759.23,40.75 L759.70,41.07 L760.16,41.39 L760.63,41.73 L761.10,42.07 L761.56,42.43 L762.03,42.79 L762.50,43.17 L762.97,43.56 L763.43,43.96 L763.90,44.37 L764.37,44.80 L764.84,45.24 L765.30,45.69 L765.77,46.16 L766.24,46.64 L766.71,47.13 L767.17,47.64 L767.64,48.16 L768.11,48.71 L768.57,49.26 L769.04,49.84 L769.51,50.43 L769.98,51.04 L770.44,51.67 L770.91,52.32 L771.38,52.98 L771.85,53.67 L772.31,54.38 L772.78,55.11 L773.25,55.86 L773.72,56.64 L774.18,57.44 L774.65,58.26 L775.12,59.11 L775.58,59.98 L776.05,60.88 L776.52,61.81 L776.99,62.77 L777.45,63.76 L777.92,64.77 L778.39,65.82 L778.86,66.90 L779.32,68.01 L779.79,69.15 L780.26,70.33 L780.73,71.55 L781.19,72.80 L781.66,74.09 L782.13,75.38 L782.59,76.62 L783.06,77.82 L783.53,78.98 L784.00,80.10 L784.46,81.18 L784.93,82.22 L785.40,83.24 L785.87,84.22 L786.33,85.17 L786.80,86.09 L787.27,86.98 L787.74,87.85 L788.20,88.70 L788.67,89.52 L789.14,90.32 L789.60,91.10 L790.07,91.87 L790.54,92.61 L791.01,93.33 L791.47,94.04 L791.94,94.73 L792.41,95.41 L792.88,96.08 L793.34,96.73 L793.81,97.37 L794.28,97.99 L794.75,98.61 L795.21,99.21 L795.68,99.81 L796.15,100.39 L796.61,100.97 L797.08,101.54 L797.55,102.10 L798.02,102.66 L798.48,103.21 L798.95,103.75 L799.42,104.28 L799.89,104.81 L800.35,105.34 L800.82,105.86 L801.29,106.37 L801.76,106.89 L802.22,107.39 L802.69,107.90 L803.16,108.40 L803.62,108.90 L804.09,109.39 L804.56,109.89 L805.03,110.38 L805.49,110.86 L805.96,111.35 L806.43,111.84 L806.90,112.32 L807.36,112.80 L807.83,113.28 L808.30,113.76 L808.77,114.24 L809.23,114.72 L809.70,115.20 L810.17,115.68 L810.63,116.16 L811.10,116.64 L811.57,117.11 L812.04,117.59 L812.50,118.07 L812.97,118.55 L813.44,119.03 L813.91,119.51 L814.37,119.99 L814.84,120.47 L815.31,120.95 L815.78,121.44 L816.24,121.92 L816.71,122.40 L817.18,122.89 L817.64,123.38 L818.11,123.87 L818.58,124.36 L819.05,124.85 L819.51,125.34 L819.98,125.84 L820.45,126.33 L820.92,126.83 L821.38,127.33 L821.85,127.83 L822.32,128.33 L822.79,128.84 L823.25,129.34 L823.72,129.85 L824.19,130.36 L824.65,130.88 L825.12,131.39 L825.59,131.91 L826.06,132.43 L826.52,132.95 L826.99,133.47 L827.46,133.99 L827.93,134.52 L828.39,135.05 L828.86,135.58 L829.33,136.12 L829.80,136.65 L830.26,137.19 L830.73,137.73 L831.20,138.28 L831.66,138.82 L832.13,139.37 L832.60,139.92 L833.07,140.48 L833.53,141.03 L834.00,141.59 L834.47,142.15 L834.94,142.72 L835.40,143.28 L835.87,143.85 L836.34,144.42 L836.81,145.00 L837.27,145.57 L837.74,146.16 L838.21,146.74 L838.67,147.32 L839.14,147.91 L839.61,148.50 L840.08,149.10 L840.54,149.69 L841.01,150.29 L841.48,150.90 L841.95,151.50 L842.41,152.11 L842.88,152.72 L843.35,153.34 L843.82,153.96 L844.28,154.58 L844.75,155.20 L845.22,155.83 L845.68,156.46 L846.15,157.09 L846.62,157.73 L847.09,158.37 L847.55,159.01 L848.02,159.65 L848.49,160.30 L848.96,160.95 L849.42,161.61 L849.89,162.27 L850.36,162.93 L850.83,163.59 L851.29,164.26 L851.76,164.93 L852.23,165.61 L852.69,166.29 L853.16,166.97 L853.63,167.65 L854.10,168.34 L854.56,169.03 L855.03,169.73 L855.50,170.43 L855.97,171.13 L856.43,171.84 L856.90,172.55 L857.37,173.26 L857.84,173.98 L858.30,174.70 L858.77,175.42 L859.24,176.15 L859.70,176.88 L860.17,177.61 L860.64,178.35 L861.11,179.09 L861.57,179.84 L862.04,180.59 L862.51,181.34 L862.98,182.10 L863.44,182.86 L863.91,183.62 L864.38,184.39 L864.85,185.16 L865.31,185.94 L865.78,186.72 L866.25,187.50 L866.71,188.29 L867.18,189.08 L867.65,189.88 L868.12,190.67 L868.58,191.48 L869.05,192.29 L869.52,193.10 L869.99,193.91 L870.45,194.73 L870.92,195.56 L871.39,196.38 L871.86,197.22 L872.32,198.05 L872.79,198.89 L873.26,199.74 L873.72,200.59 L874.19,201.44 L874.66,202.30 L875.13,203.16 L875.59,204.02 L876.06,204.90 L876.53,205.77 L877.00,206.65 L877.46,207.53 L877.93,208.42 L878.40,209.31 L878.87,210.21 L879.33,211.11 L879.80,212.02 L880.27,212.93 L880.73,213.84 L881.20,214.76 L881.67,215.69 L882.14,216.61 L882.60,217.55 L883.07,218.49 L883.54,219.43 L884.01,220.38 L884.47,221.33 L884.94,222.29 L885.41,223.25 L885.88,224.21 L886.34,225.19 L886.81,226.16 L887.28,227.14 L887.74,228.13 L888.21,229.12 L888.68,230.12 L889.15,231.12 L889.61,232.12 L890.08,233.14 L890.55,234.15 L891.02,235.17 L891.48,236.20 L891.95,237.23 L892.42,238.27 L892.89,239.31 L893.35,240.36 L893.82,241.41 L894.29,242.47 L894.75,243.53 L895.22,244.60 L895.69,245.67 L896.16,246.75 L896.62,247.84 L897.09,248.93 L897.56,250.02 L898.03,251.12 L898.49,252.23 L898.96,253.34 L899.43,254.46 L899.90,255.58 L900.36,256.71 L900.83,257.84 L901.30,258.98 L901.76,260.13 L902.23,261.28 L902.70,262.44 L903.17,263.60 L903.63,264.77 L904.10,265.94 L904.57,267.13 L905.04,268.31 L905.50,269.50 L905.97,270.70 L906.44,271.91 L906.91,273.12 L907.37,274.34 L907.84,275.56 L908.31,276.79 L908.77,278.02 L909.24,279.26 L909.71,280.51 L910.18,281.76 L910.64,283.02 L911.11,284.29 L911.58,285.56 L912.05,286.84 L912.51,288.13 L912.98,289.14 L913.45,290.11 L913.92,291.04 L914.38,291.94 L914.85,292.80 L915.32,293.63 L915.78,294.42 L916.25,295.19 L916.72,295.92 L917.19,296.62 L917.65,297.30 L918.12,297.95 L918.59,298.58 L919.06,299.18 L919.52,299.76 L919.99,300.31 L920.46,300.84 L920.93,301.36 L921.39,301.85 L921.86,302.32 L922.33,302.77 L922.79,303.21 L923.26,303.63 L923.73,304.03 L924.20,304.42 L924.66,304.79 L925.13,305.15 L925.60,305.49 L926.07,305.82 L926.53,306.14 L927.00,306.44 L927.47,306.73 L927.94,307.02 L928.40,307.29 L928.87,307.54 L929.34,307.79 L929.80,308.03 L930.27,308.26 L930.74,308.48 L931.21,308.70 L931.67,308.90 L932.14,309.10 L932.61,309.28 L933.08,309.47 L933.54,309.64 L934.01,309.81 L934.48,309.97 L934.95,310.12 L935.41,310.27 L935.88,310.41 L936.35,310.55 L936.81,310.68 L937.28,310.81 L937.75,310.93 L938.22,311.04 L938.68,311.16 L939.15,311.26 L939.62,311.37 L940.09,311.47 L940.55,311.56 L941.02,311.65 L941.49,311.74 L941.96,311.83 L942.42,311.91 L942.89,311.99 L943.36,312.06 L943.82,312.13 L944.29,312.20 L944.76,312.27 L945.23,312.33 L945.69,312.39 L946.16,312.45 L946.63,312.51 L947.10,312.56 L947.56,312.62 L948.03,312.67 L948.50,312.72 L948.97,312.76 L949.43,312.81 L949.90,312.85" fill="none" stroke="#fff" stroke-opacity="0.60" stroke-width="4.60"/><path d="M669.50,100.31 L669.97,100.31 L670.43,100.31 L670.90,100.31 L671.37,100.31 L671.84,100.31 L672.30,100.31 L672.77,100.31 L673.24,100.31 L673.71,100.31 L674.17,100.31 L674.64,100.31 L675.11,100.31 L675.58,100.31 L676.04,100.31 L676.51,100.31 L676.98,100.31 L677.44,100.31 L677.91,100.31 L678.38,100.31 L678.85,100.31 L679.31,100.31 L679.78,100.31 L680.25,100.31 L680.72,100.31 L681.18,100.31 L681.65,100.31 L682.12,100.31 L682.59,100.31 L683.05,100.31 L683.52,100.31 L683.99,100.31 L684.45,100.31 L684.92,100.31 L685.39,100.31 L685.86,100.31 L686.32,100.31 L686.79,100.31 L687.26,100.31 L687.73,100.31 L688.19,100.31 L688.66,100.31 L689.13,100.31 L689.60,100.31 L690.06,100.31 L690.53,100.31 L691.00,100.31 L691.46,100.31 L691.93,100.31 L692.40,100.31 L692.87,100.31 L693.33,100.31 L693.80,100.31 L694.27,100.31 L694.74,100.31 L695.20,100.31 L695.67,100.31 L696.14,100.31 L696.61,100.31 L697.07,100.31 L697.54,100.31 L698.01,100.31 L698.47,100.31 L698.94,100.31 L699.41,100.31 L699.88,100.31 L700.34,100.31 L700.81,100.31 L701.28,100.31 L701.75,100.31 L702.21,100.31 L702.68,100.31 L703.15,100.31 L703.62,100.31 L704.08,100.31 L704.55,100.31 L705.02,100.31 L705.48,100.31 L705.95,100.31 L706.42,100.31 L706.89,100.31 L707.35,100.31 L707.82,100.31 L708.29,100.31 L708.76,100.31 L709.22,100.31 L709.69,100.31 L710.16,100.31 L710.63,100.31 L711.09,100.31 L711.56,100.31 L712.03,100.31 L712.49,100.31 L712.96,100.31 L713.43,100.31 L713.90,100.31 L714.36,100.31 L714.83,100.31 L715.30,100.31 L715.77,100.31 L716.23,100.31 L716.70,100.31 L717.17,100.31 L717.64,100.31 L718.10,100.31 L718.57,100.31 L719.04,100.31 L719.50,100.31 L719.97,100.31 L720.44,100.31 L720.91,100.31 L721.37,100.31 L721.84,100.31 L722.31,100.31 L722.78,100.31 L723.24,100.31 L723.71,100.31 L724.18,100.31 L724.65,100.31 L725.11,100.31 L725.58,100.31 L726.05,100.31 L726.51,100.31 L726.98,100.31 L727.45,100.31 L727.92,100.31 L728.38,100.31 L728.85,100.31 L729.32,100.31 L729.79,100.31 L730.25,100.31 L730.72,100.31 L731.19,100.31 L731.66,100.31 L732.12,100.31 L732.59,100.31 L733.06,100.31 L733.52,100.31 L733.99,100.31 L734.46,100.31 L734.93,100.31 L735.39,100.31 L735.86,100.31 L736.33,100.31 L736.80,100.31 L737.26,100.31 L737.73,100.31 L738.20,100.31 L738.67,100.31 L739.13,100.31 L739.60,100.31 L740.07,100.31 L740.53,100.31 L741.00,100.31 L741.47,100.31 L741.94,100.31 L742.40,100.31 L742.87,100.31 L743.34,100.31 L743.81,100.31 L744.27,100.31 L744.74,100.31 L745.21,100.31 L745.68,100.31 L746.14,100.31 L746.61,100.31 L747.08,100.31 L747.54,100.31 L748.01,100.31 L748.48,100.31 L748.95,100.31 L749.41,100.31 L749.88,100.31 L750.35,100.31 L750.82,100.31 L751.28,100.31 L751.75,100.31 L752.22,100.31 L752.69,100.31 L753.15,100.31 L753.62,100.31 L754.09,100.31 L754.55,100.31 L755.02,100.31 L755.49,100.31 L755.96,100.31 L756.42,100.31 L756.89,100.31 L757.36,100.31 L757.83,100.31 L758.29,100.31 L758.76,100.31 L759.23,100.31 L759.70,100.31 L760.16,100.31 L760.63,100.31 L761.10,100.31 L761.56,100.31 L762.03,100.31 L762.50,100.31 L762.97,100.31 L763.43,100.31 L763.90,100.31 L764.37,100.31 L764.84,100.31 L765.30,100.31 L765.77,100.31 L766.24,100.31 L766.71,100.31 L767.17,100.31 L767.64,100.31 L768.11,100.31 L768.57,100.31 L769.04,100.31 L769.51,100.31 L769.98,100.31 L770.44,100.31 L770.91,100.31 L771.38,100.31 L771.85,100.31 L772.31,100.31 L772.78,100.31 L773.25,100.31 L773.72,100.31 L774.18,100.31 L774.65,100.31 L775.12,100.31 L775.58,100.31 L776.05,100.31 L776.52,100.31 L776.99,100.31 L777.45,100.31 L777.92,100.31 L778.39,100.31 L778.86,100.31 L779.32,100.31 L779.79,100.31 L780.26,100.31 L780.73,100.31 L781.19,100.31 L781.66,100.31 L782.13,100.32 L782.59,100.34 L783.06,100.39 L783.53,100.44 L784.00,100.51 L784.46,100.60 L784.93,100.70 L785.40,100.81 L785.87,100.93 L786.33,101.07 L786.80,101.21 L787.27,101.37 L787.74,101.54 L788.20,101.72 L788.67,101.91 L789.14,102.10 L789.60,102.31 L790.07,102.52 L790.54,102.75 L791.01,102.98 L791.47,103.21 L791.94,103.46 L792.41,103.71 L792.88,103.97 L793.34,104.24 L793.81,104.51 L794.28,104.79 L794.75,105.07 L795.21,105.36 L795.68,105.66 L796.15,105.96 L796.61,106.27 L797.08,106.58 L797.55,106.89 L798.02,107.21 L798.48,107.54 L798.95,107.87 L799.42,108.20 L799.89,108.54 L800.35,108.89 L800.82,109.23 L801.29,109.58 L801.76,109.94 L802.22,110.30 L802.69,110.66 L803.16,111.03 L803.62,111.40 L804.09,111.77 L804.56,112.15 L805.03,112.53 L805.49,112.91 L805.96,113.30 L806.43,113.69 L806.90,114.08 L807.36,114.48 L807.83,114.88 L808.30,115.28 L808.77,115.69 L809.23,116.09 L809.70,116.51 L810.17,116.92 L810.63,117.34 L811.10,117.76 L811.57,118.18 L812.04,118.61 L812.50,119.04 L812.97,119.47 L813.44,119.90 L813.91,120.34 L814.37,120.78 L814.84,121.22 L815.31,121.67 L815.78,122.12 L816.24,122.57 L816.71,123.02 L817.18,123.48 L817.64,123.94 L818.11,124.40 L818.58,124.86 L819.05,125.33 L819.51,125.80 L819.98,126.27 L820.45,126.75 L820.92,127.22 L821.38,127.70 L821.85,128.19 L822.32,128.67 L822.79,129.16 L823.25,129.65 L823.72,130.14 L824.19,130.64 L824.65,131.14 L825.12,131.64 L825.59,132.15 L826.06,132.65 L826.52,133.16 L826.99,133.67 L827.46,134.19 L827.93,134.71 L828.39,135.23 L828.86,135.75 L829.33,136.28 L829.80,136.80 L830.26,137.34 L830.73,137.87 L831.20,138.41 L831.66,138.95 L832.13,139.49 L832.60,140.03 L833.07,140.58 L833.53,141.13 L834.00,141.69 L834.47,142.24 L834.94,142.80 L835.40,143.37 L835.87,143.93 L836.34,144.50 L836.81,145.07 L837.27,145.64 L837.74,146.22 L838.21,146.80 L838.67,147.38 L839.14,147.97 L839.61,148.56 L840.08,149.15 L840.54,149.74 L841.01,150.34 L841.48,150.94 L841.95,151.54 L842.41,152.15 L842.88,152.76 L843.35,153.37 L843.82,153.99 L844.28,154.61 L844.75,155.23 L845.22,155.86 L845.68,156.48 L846.15,157.12 L846.62,157.75 L847.09,158.39 L847.55,159.03 L848.02,159.68 L848.49,160.32 L848.96,160.97 L849.42,161.63 L849.89,162.29 L850.36,162.95 L850.83,163.61 L851.29,164.28 L851.76,164.95 L852.23,165.62 L852.69,166.30 L853.16,166.98 L853.63,167.67 L854.10,168.35 L854.56,169.05 L855.03,169.74 L855.50,170.44 L855.97,171.14 L856.43,171.85 L856.90,172.55 L857.37,173.27 L857.84,173.98 L858.30,174.70 L858.77,175.43 L859.24,176.15 L859.70,176.88 L860.17,177.62 L860.64,178.36 L861.11,179.10 L861.57,179.84 L862.04,180.59 L862.51,181.34 L862.98,182.10 L863.44,182.86 L863.91,183.63 L864.38,184.39 L864.85,185.16 L865.31,185.94 L865.78,186.72 L866.25,187.50 L866.71,188.29 L867.18,189.08 L867.65,189.88 L868.12,190.68 L868.58,191.48 L869.05,192.29 L869.52,193.10 L869.99,193.92 L870.45,194.73 L870.92,195.56 L871.39,196.39 L871.86,197.22 L872.32,198.05 L872.79,198.89 L873.26,199.74 L873.72,200.59 L874.19,201.44 L874.66,202.30 L875.13,203.16 L875.59,204.03 L876.06,204.90 L876.53,205.77 L877.00,206.65 L877.46,207.53 L877.93,208.42 L878.40,209.31 L878.87,210.21 L879.33,211.11 L879.80,212.02 L880.27,212.93 L880.73,213.84 L881.20,214.76 L881.67,215.69 L882.14,216.62 L882.60,217.55 L883.07,218.49 L883.54,219.43 L884.01,220.38 L884.47,221.33 L884.94,222.29 L885.41,223.25 L885.88,224.21 L886.34,225.19 L886.81,226.16 L887.28,227.14 L887.74,228.13 L888.21,229.12 L888.68,230.12 L889.15,231.12 L889.61,232.12 L890.08,233.14 L890.55,234.15 L891.02,235.17 L891.48,236.20 L891.95,237.23 L892.42,238.27 L892.89,239.31 L893.35,240.36 L893.82,241.41 L894.29,242.47 L894.75,243.53 L895.22,244.60 L895.69,245.67 L896.16,246.75 L896.62,247.84 L897.09,248.93 L897.56,250.02 L898.03,251.12 L898.49,252.23 L898.96,253.34 L899.43,254.46 L899.90,255.58 L900.36,256.71 L900.83,257.84 L901.30,258.98 L901.76,260.13 L902.23,261.28 L902.70,262.44 L903.17,263.60 L903.63,264.77 L904.10,265.95 L904.57,267.13 L905.04,268.31 L905.50,269.50 L905.97,270.70 L906.44,271.91 L906.91,273.12 L907.37,274.34 L907.84,275.56 L908.31,276.79 L908.77,278.02 L909.24,279.26 L909.71,280.51 L910.18,281.76 L910.64,283.02 L911.11,284.29 L911.58,285.56 L912.05,286.84 L912.51,288.13 L912.98,289.14 L913.45,290.11 L913.92,291.04 L914.38,291.94 L914.85,292.80 L915.32,293.63 L915.78,294.42 L916.25,295.19 L916.72,295.92 L917.19,296.62 L917.65,297.30 L918.12,297.95 L918.59,298.58 L919.06,299.18 L919.52,299.76 L919.99,300.31 L920.46,300.84 L920.93,301.36 L921.39,301.85 L921.86,302.32 L922.33,302.77 L922.79,303.21 L923.26,303.63 L923.73,304.03 L924.20,304.42 L924.66,304.79 L925.13,305.15 L925.60,305.49 L926.07,305.82 L926.53,306.14 L927.00,306.44 L927.47,306.73 L927.94,307.02 L928.40,307.29 L928.87,307.54 L929.34,307.79 L929.80,308.03 L930.27,308.26 L930.74,308.48 L931.21,308.70 L931.67,308.90 L932.14,309.10 L932.61,309.28 L933.08,309.47 L933.54,309.64 L934.01,309.81 L934.48,309.97 L934.95,310.12 L935.41,310.27 L935.88,310.41 L936.35,310.55 L936.81,310.68 L937.28,310.81 L937.75,310.93 L938.22,311.04 L938.68,311.16 L939.15,311.26 L939.62,311.37 L940.09,311.47 L940.55,311.56 L941.02,311.65 L941.49,311.74 L941.96,311.83 L942.42,311.91 L942.89,311.99 L943.36,312.06 L943.82,312.13 L944.29,312.20 L944.76,312.27 L945.23,312.33 L945.69,312.39 L946.16,312.45 L946.63,312.51 L947.10,312.56 L947.56,312.62 L948.03,312.67 L948.50,312.72 L948.97,312.76 L949.43,312.81 L949.90,312.85" fill="none" stroke="#fff" stroke-opacity="0.60" stroke-width="4.60"/><path d="M669.50,30.43 L669.97,30.43 L670.43,30.43 L670.90,30.44 L671.37,30.44 L671.84,30.44 L672.30,30.44 L672.77,30.44 L673.24,30.44 L673.71,30.44 L674.17,30.44 L674.64,30.45 L675.11,30.45 L675.58,30.45 L676.04,30.45 L676.51,30.45 L676.98,30.45 L677.44,30.45 L677.91,30.46 L678.38,30.46 L678.85,30.46 L679.31,30.46 L679.78,30.46 L680.25,30.47 L680.72,30.47 L681.18,30.47 L681.65,30.47 L682.12,30.47 L682.59,30.48 L683.05,30.48 L683.52,30.48 L683.99,30.48 L684.45,30.49 L684.92,30.49 L685.39,30.49 L685.86,30.49 L686.32,30.50 L686.79,30.50 L687.26,30.50 L687.73,30.51 L688.19,30.51 L688.66,30.51 L689.13,30.52 L689.60,30.52 L690.06,30.52 L690.53,30.53 L691.00,30.53 L691.46,30.53 L691.93,30.54 L692.40,30.54 L692.87,30.55 L693.33,30.55 L693.80,30.56 L694.27,30.56 L694.74,30.56 L695.20,30.57 L695.67,30.58 L696.14,30.58 L696.61,30.59 L697.07,30.59 L697.54,30.60 L698.01,30.60 L698.47,30.61 L698.94,30.62 L699.41,30.62 L699.88,30.63 L700.34,30.64 L700.81,30.64 L701.28,30.65 L701.75,30.66 L702.21,30.67 L702.68,30.67 L703.15,30.68 L703.62,30.69 L704.08,30.70 L704.55,30.71 L705.02,30.72 L705.48,30.73 L705.95,30.74 L706.42,30.75 L706.89,30.76 L707.35,30.77 L707.82,30.78 L708.29,30.79 L708.76,30.81 L709.22,30.82 L709.69,30.83 L710.16,30.84 L710.63,30.86 L711.09,30.87 L711.56,30.89 L712.03,30.90 L712.49,30.92 L712.96,30.93 L713.43,30.95 L713.90,30.96 L714.36,30.98 L714.83,31.00 L715.30,31.02 L715.77,31.04 L716.23,31.06 L716.70,31.08 L717.17,31.10 L717.64,31.12 L718.10,31.14 L718.57,31.16 L719.04,31.18 L719.50,31.21 L719.97,31.23 L720.44,31.26 L720.91,31.28 L721.37,31.31 L721.84,31.34 L722.31,31.37 L722.78,31.40 L723.24,31.43 L723.71,31.46 L724.18,31.49 L724.65,31.52 L725.11,31.56 L725.58,31.59 L726.05,31.63 L726.51,31.67 L726.98,31.71 L727.45,31.75 L727.92,31.79 L728.38,31.83 L728.85,31.87 L729.32,31.92 L729.79,31.96 L730.25,32.01 L730.72,32.06 L731.19,32.11 L731.66,32.16 L732.12,32.22 L732.59,32.27 L733.06,32.33 L733.52,32.39 L733.99,32.45 L734.46,32.51 L734.93,32.58 L735.39,32.64 L735.86,32.71 L736.33,32.78 L736.80,32.85 L737.26,32.93 L737.73,33.00 L738.20,33.08 L738.67,33.17 L739.13,33.25 L739.60,33.34 L740.07,33.43 L740.53,33.52 L741.00,33.61 L741.47,33.71 L741.94,33.81 L742.40,33.92 L742.87,34.02 L743.34,34.13 L743.81,34.25 L744.27,34.36 L744.74,34.48 L745.21,34.61 L745.68,34.74 L746.14,34.87 L746.61,35.01 L747.08,35.15 L747.54,35.29 L748.01,35.44 L748.48,35.59 L748.95,35.75 L749.41,35.91 L749.88,36.08 L750.35,36.25 L750.82,36.43 L751.28,36.62 L751.75,36.81 L752.22,37.00 L752.69,37.20 L753.15,37.41 L753.62,37.62 L754.09,37.84 L754.55,38.07 L755.02,38.30 L755.49,38.54 L755.96,38.79 L756.42,39.05 L756.89,39.31 L757.36,39.58 L757.83,39.86 L758.29,40.15 L758.76,40.45 L759.23,40.75 L759.70,41.07 L760.16,41.39 L760.63,41.73 L761.10,42.07 L761.56,42.43 L762.03,42.79 L762.50,43.17 L762.97,43.56 L763.43,43.96 L763.90,44.37 L764.37,44.80 L764.84,45.24 L765.30,45.69 L765.77,46.16 L766.24,46.64 L766.71,47.13 L767.17,47.64 L767.64,48.16 L768.11,48.71 L768.57,49.26 L769.04,49.84 L769.51,50.43 L769.98,51.04 L770.44,51.67 L770.91,52.32 L771.38,52.98 L771.85,53.67 L772.31,54.38 L772.78,55.11 L773.25,55.86 L773.72,56.64 L774.18,57.44 L774.65,58.26 L775.12,59.11 L775.58,59.98 L776.05,60.88 L776.52,61.81 L776.99,62.77 L777.45,63.76 L777.92,64.77 L778.39,65.82 L778.86,66.90 L779.32,68.01 L779.79,69.15 L780.26,70.33 L780.73,71.55 L781.19,72.80 L781.66,74.09 L782.13,75.38 L782.59,76.62 L783.06,77.82 L783.53,78.98 L784.00,80.10 L784.46,81.18 L784.93,82.22 L785.40,83.24 L785.87,84.22 L786.33,85.17 L786.80,86.09 L787.27,86.98 L787.74,87.85 L788.20,88.70 L788.67,89.52 L789.14,90.32 L789.60,91.10 L790.07,91.87 L790.54,92.61 L791.01,93.33 L791.47,94.04 L791.94,94.73 L792.41,95.41 L792.88,96.08 L793.34,96.73 L793.81,97.37 L794.28,97.99 L794.75,98.61 L795.21,99.21 L795.68,99.81 L796.15,100.39 L796.61,100.97 L797.08,101.54 L797.55,102.10 L798.02,102.66 L798.48,103.21 L798.95,103.75 L799.42,104.28 L799.89,104.81 L800.35,105.34 L800.82,105.86 L801.29,106.37 L801.76,106.89 L802.22,107.39 L802.69,107.90 L803.16,108.40 L803.62,108.90 L804.09,109.39 L804.56,109.89 L805.03,110.38 L805.49,110.86 L805.96,111.35 L806.43,111.84 L806.90,112.32 L807.36,112.80 L807.83,113.28 L808.30,113.76 L808.77,114.24 L809.23,114.72 L809.70,115.20 L810.17,115.68 L810.63,116.16 L811.10,116.64 L811.57,117.11 L812.04,117.59 L812.50,118.07 L812.97,118.55 L813.44,119.03 L813.91,119.51 L814.37,119.99 L814.84,120.47 L815.31,120.95 L815.78,121.44 L816.24,121.92 L816.71,122.40 L817.18,122.89 L817.64,123.38 L818.11,123.87 L818.58,124.36 L819.05,124.85 L819.51,125.34 L819.98,125.84 L820.45,126.33 L820.92,126.83 L821.38,127.33 L821.85,127.83 L822.32,128.33 L822.79,128.84 L823.25,129.34 L823.72,129.85 L824.19,130.36 L824.65,130.88 L825.12,131.39 L825.59,131.91 L826.06,132.43 L826.52,132.95 L826.99,133.47 L827.46,133.99 L827.93,134.52 L828.39,135.05 L828.86,135.58 L829.33,136.12 L829.80,136.65 L830.26,137.19 L830.73,137.73 L831.20,138.28 L831.66,138.82 L832.13,139.37 L832.60,139.92 L833.07,140.48 L833.53,141.03 L834.00,141.59 L834.47,142.15 L834.94,142.72 L835.40,143.28 L835.87,143.85 L836.34,144.42 L836.81,145.00 L837.27,145.57 L837.74,146.16 L838.21,146.74 L838.67,147.32 L839.14,147.91 L839.61,148.50 L840.08,149.10 L840.54,149.69 L841.01,150.29 L841.48,150.90 L841.95,151.50 L842.41,152.11 L842.88,152.72 L843.35,153.34 L843.82,153.96 L844.28,154.58 L844.75,155.20 L845.22,155.83 L845.68,156.46 L846.15,157.09 L846.62,157.73 L847.09,158.37 L847.55,159.01 L848.02,159.65 L848.49,160.30 L848.96,160.95 L849.42,161.61 L849.89,162.27 L850.36,162.93 L850.83,163.59 L851.29,164.26 L851.76,164.93 L852.23,165.61 L852.69,166.29 L853.16,166.97 L853.63,167.65 L854.10,168.34 L854.56,169.03 L855.03,169.73 L855.50,170.43 L855.97,171.13 L856.43,171.84 L856.90,172.55 L857.37,173.26 L857.84,173.98 L858.30,174.70 L858.77,175.42 L859.24,176.15 L859.70,176.88 L860.17,177.61 L860.64,178.35 L861.11,179.09 L861.57,179.84 L862.04,180.59 L862.51,181.34 L862.98,182.10 L863.44,182.86 L863.91,183.62 L864.38,184.39 L864.85,185.16 L865.31,185.94 L865.78,186.72 L866.25,187.50 L866.71,188.29 L867.18,189.08 L867.65,189.88 L868.12,190.67 L868.58,191.48 L869.05,192.29 L869.52,193.10 L869.99,193.91 L870.45,194.73 L870.92,195.56 L871.39,196.38 L871.86,197.22 L872.32,198.05 L872.79,198.89 L873.26,199.74 L873.72,200.59 L874.19,201.44 L874.66,202.30 L875.13,203.16 L875.59,204.02 L876.06,204.90 L876.53,205.77 L877.00,206.65 L877.46,207.53 L877.93,208.42 L878.40,209.31 L878.87,210.21 L879.33,211.11 L879.80,212.02 L880.27,212.93 L880.73,213.84 L881.20,214.76 L881.67,215.69 L882.14,216.61 L882.60,217.55 L883.07,218.49 L883.54,219.43 L884.01,220.38 L884.47,221.33 L884.94,222.29 L885.41,223.25 L885.88,224.21 L886.34,225.19 L886.81,226.16 L887.28,227.14 L887.74,228.13 L888.21,229.12 L888.68,230.12 L889.15,231.12 L889.61,232.12 L890.08,233.14 L890.55,234.15 L891.02,235.17 L891.48,236.20 L891.95,237.23 L892.42,238.27 L892.89,239.31 L893.35,240.36 L893.82,241.41 L894.29,242.47 L894.75,243.53 L895.22,244.60 L895.69,245.67 L896.16,246.75 L896.62,247.84 L897.09,248.93 L897.56,250.02 L898.03,251.12 L898.49,252.23 L898.96,253.34 L899.43,254.46 L899.90,255.58 L900.36,256.71 L900.83,257.84 L901.30,258.98 L901.76,260.13 L902.23,261.28 L902.70,262.44 L903.17,263.60 L903.63,264.77 L904.10,265.94 L904.57,267.13 L905.04,268.31 L905.50,269.50 L905.97,270.70 L906.44,271.91 L906.91,273.12 L907.37,274.34 L907.84,275.56 L908.31,276.79 L908.77,278.02 L909.24,279.26 L909.71,280.51 L910.18,281.76 L910.64,283.02 L911.11,284.29 L911.58,285.56 L912.05,286.84 L912.51,288.13 L912.98,289.14 L913.45,290.11 L913.92,291.04 L914.38,291.94 L914.85,292.80 L915.32,293.63 L915.78,294.42 L916.25,295.19 L916.72,295.92 L917.19,296.62 L917.65,297.30 L918.12,297.95 L918.59,298.58 L919.06,299.18 L919.52,299.76 L919.99,300.31 L920.46,300.84 L920.93,301.36 L921.39,301.85 L921.86,302.32 L922.33,302.77 L922.79,303.21 L923.26,303.63 L923.73,304.03 L924.20,304.42 L924.66,304.79 L925.13,305.15 L925.60,305.49 L926.07,305.82 L926.53,306.14 L927.00,306.44 L927.47,306.73 L927.94,307.02 L928.40,307.29 L928.87,307.54 L929.34,307.79 L929.80,308.03 L930.27,308.26 L930.74,308.48 L931.21,308.70 L931.67,308.90 L932.14,309.10 L932.61,309.28 L933.08,309.47 L933.54,309.64 L934.01,309.81 L934.48,309.97 L934.95,310.12 L935.41,310.27 L935.88,310.41 L936.35,310.55 L936.81,310.68 L937.28,310.81 L937.75,310.93 L938.22,311.04 L938.68,311.16 L939.15,311.26 L939.62,311.37 L940.09,311.47 L940.55,311.56 L941.02,311.65 L941.49,311.74 L941.96,311.83 L942.42,311.91 L942.89,311.99 L943.36,312.06 L943.82,312.13 L944.29,312.20 L944.76,312.27 L945.23,312.33 L945.69,312.39 L946.16,312.45 L946.63,312.51 L947.10,312.56 L947.56,312.62 L948.03,312.67 L948.50,312.72 L948.97,312.76 L949.43,312.81 L949.90,312.85" fill="none" stroke="#000" stroke-width="2.00"/><path d="M669.50,100.31 L669.97,100.31 L670.43,100.31 L670.90,100.31 L671.37,100.31 L671.84,100.31 L672.30,100.31 L672.77,100.31 L673.24,100.31 L673.71,100.31 L674.17,100.31 L674.64,100.31 L675.11,100.31 L675.58,100.31 L676.04,100.31 L676.51,100.31 L676.98,100.31 L677.44,100.31 L677.91,100.31 L678.38,100.31 L678.85,100.31 L679.31,100.31 L679.78,100.31 L680.25,100.31 L680.72,100.31 L681.18,100.31 L681.65,100.31 L682.12,100.31 L682.59,100.31 L683.05,100.31 L683.52,100.31 L683.99,100.31 L684.45,100.31 L684.92,100.31 L685.39,100.31 L685.86,100.31 L686.32,100.31 L686.79,100.31 L687.26,100.31 L687.73,100.31 L688.19,100.31 L688.66,100.31 L689.13,100.31 L689.60,100.31 L690.06,100.31 L690.53,100.31 L691.00,100.31 L691.46,100.31 L691.93,100.31 L692.40,100.31 L692.87,100.31 L693.33,100.31 L693.80,100.31 L694.27,100.31 L694.74,100.31 L695.20,100.31 L695.67,100.31 L696.14,100.31 L696.61,100.31 L697.07,100.31 L697.54,100.31 L698.01,100.31 L698.47,100.31 L698.94,100.31 L699.41,100.31 L699.88,100.31 L700.34,100.31 L700.81,100.31 L701.28,100.31 L701.75,100.31 L702.21,100.31 L702.68,100.31 L703.15,100.31 L703.62,100.31 L704.08,100.31 L704.55,100.31 L705.02,100.31 L705.48,100.31 L705.95,100.31 L706.42,100.31 L706.89,100.31 L707.35,100.31 L707.82,100.31 L708.29,100.31 L708.76,100.31 L709.22,100.31 L709.69,100.31 L710.16,100.31 L710.63,100.31 L711.09,100.31 L711.56,100.31 L712.03,100.31 L712.49,100.31 L712.96,100.31 L713.43,100.31 L713.90,100.31 L714.36,100.31 L714.83,100.31 L715.30,100.31 L715.77,100.31 L716.23,100.31 L716.70,100.31 L717.17,100.31 L717.64,100.31 L718.10,100.31 L718.57,100.31 L719.04,100.31 L719.50,100.31 L719.97,100.31 L720.44,100.31 L720.91,100.31 L721.37,100.31 L721.84,100.31 L722.31,100.31 L722.78,100.31 L723.24,100.31 L723.71,100.31 L724.18,100.31 L724.65,100.31 L725.11,100.31 L725.58,100.31 L726.05,100.31 L726.51,100.31 L726.98,100.31 L727.45,100.31 L727.92,100.31 L728.38,100.31 L728.85,100.31 L729.32,100.31 L729.79,100.31 L730.25,100.31 L730.72,100.31 L731.19,100.31 L731.66,100.31 L732.12,100.31 L732.59,100.31 L733.06,100.31 L733.52,100.31 L733.99,100.31 L734.46,100.31 L734.93,100.31 L735.39,100.31 L735.86,100.31 L736.33,100.31 L736.80,100.31 L737.26,100.31 L737.73,100.31 L738.20,100.31 L738.67,100.31 L739.13,100.31 L739.60,100.31 L740.07,100.31 L740.53,100.31 L741.00,100.31 L741.47,100.31 L741.94,100.31 L742.40,100.31 L742.87,100.31 L743.34,100.31 L743.81,100.31 L744.27,100.31 L744.74,100.31 L745.21,100.31 L745.68,100.31 L746.14,100.31 L746.61,100.31 L747.08,100.31 L747.54,100.31 L748.01,100.31 L748.48,100.31 L748.95,100.31 L749.41,100.31 L749.88,100.31 L750.35,100.31 L750.82,100.31 L751.28,100.31 L751.75,100.31 L752.22,100.31 L752.69,100.31 L753.15,100.31 L753.62,100.31 L754.09,100.31 L754.55,100.31 L755.02,100.31 L755.49,100.31 L755.96,100.31 L756.42,100.31 L756.89,100.31 L757.36,100.31 L757.83,100.31 L758.29,100.31 L758.76,100.31 L759.23,100.31 L759.70,100.31 L760.16,100.31 L760.63,100.31 L761.10,100.31 L761.56,100.31 L762.03,100.31 L762.50,100.31 L762.97,100.31 L763.43,100.31 L763.90,100.31 L764.37,100.31 L764.84,100.31 L765.30,100.31 L765.77,100.31 L766.24,100.31 L766.71,100.31 L767.17,100.31 L767.64,100.31 L768.11,100.31 L768.57,100.31 L769.04,100.31 L769.51,100.31 L769.98,100.31 L770.44,100.31 L770.91,100.31 L771.38,100.31 L771.85,100.31 L772.31,100.31 L772.78,100.31 L773.25,100.31 L773.72,100.31 L774.18,100.31 L774.65,100.31 L775.12,100.31 L775.58,100.31 L776.05,100.31 L776.52,100.31 L776.99,100.31 L777.45,100.31 L777.92,100.31 L778.39,100.31 L778.86,100.31 L779.32,100.31 L779.79,100.31 L780.26,100.31 L780.73,100.31 L781.19,100.31 L781.66,100.31 L782.13,100.32 L782.59,100.34 L783.06,100.39 L783.53,100.44 L784.00,100.51 L784.46,100.60 L784.93,100.70 L785.40,100.81 L785.87,100.93 L786.33,101.07 L786.80,101.21 L787.27,101.37 L787.74,101.54 L788.20,101.72 L788.67,101.91 L789.14,102.10 L789.60,102.31 L790.07,102.52 L790.54,102.75 L791.01,102.98 L791.47,103.21 L791.94,103.46 L792.41,103.71 L792.88,103.97 L793.34,104.24 L793.81,104.51 L794.28,104.79 L794.75,105.07 L795.21,105.36 L795.68,105.66 L796.15,105.96 L796.61,106.27 L797.08,106.58 L797.55,106.89 L798.02,107.21 L798.48,107.54 L798.95,107.87 L799.42,108.20 L799.89,108.54 L800.35,108.89 L800.82,109.23 L801.29,109.58 L801.76,109.94 L802.22,110.30 L802.69,110.66 L803.16,111.03 L803.62,111.40 L804.09,111.77 L804.56,112.15 L805.03,112.53 L805.49,112.91 L805.96,113.30 L806.43,113.69 L806.90,114.08 L807.36,114.48 L807.83,114.88 L808.30,115.28 L808.77,115.69 L809.23,116.09 L809.70,116.51 L810.17,116.92 L810.63,117.34 L811.10,117.76 L811.57,118.18 L812.04,118.61 L812.50,119.04 L812.97,119.47 L813.44,119.90 L813.91,120.34 L814.37,120.78 L814.84,121.22 L815.31,121.67 L815.78,122.12 L816.24,122.57 L816.71,123.02 L817.18,123.48 L817.64,123.94 L818.11,124.40 L818.58,124.86 L819.05,125.33 L819.51,125.80 L819.98,126.27 L820.45,126.75 L820.92,127.22 L821.38,127.70 L821.85,128.19 L822.32,128.67 L822.79,129.16 L823.25,129.65 L823.72,130.14 L824.19,130.64 L824.65,131.14 L825.12,131.64 L825.59,132.15 L826.06,132.65 L826.52,133.16 L826.99,133.67 L827.46,134.19 L827.93,134.71 L828.39,135.23 L828.86,135.75 L829.33,136.28 L829.80,136.80 L830.26,137.34 L830.73,137.87 L831.20,138.41 L831.66,138.95 L832.13,139.49 L832.60,140.03 L833.07,140.58 L833.53,141.13 L834.00,141.69 L834.47,142.24 L834.94,142.80 L835.40,143.37 L835.87,143.93 L836.34,144.50 L836.81,145.07 L837.27,145.64 L837.74,146.22 L838.21,146.80 L838.67,147.38 L839.14,147.97 L839.61,148.56 L840.08,149.15 L840.54,149.74 L841.01,150.34 L841.48,150.94 L841.95,151.54 L842.41,152.15 L842.88,152.76 L843.35,153.37 L843.82,153.99 L844.28,154.61 L844.75,155.23 L845.22,155.86 L845.68,156.48 L846.15,157.12 L846.62,157.75 L847.09,158.39 L847.55,159.03 L848.02,159.68 L848.49,160.32 L848.96,160.97 L849.42,161.63 L849.89,162.29 L850.36,162.95 L850.83,163.61 L851.29,164.28 L851.76,164.95 L852.23,165.62 L852.69,166.30 L853.16,166.98 L853.63,167.67 L854.10,168.35 L854.56,169.05 L855.03,169.74 L855.50,170.44 L855.97,171.14 L856.43,171.85 L856.90,172.55 L857.37,173.27 L857.84,173.98 L858.30,174.70 L858.77,175.43 L859.24,176.15 L859.70,176.88 L860.17,177.62 L860.64,178.36 L861.11,179.10 L861.57,179.84 L862.04,180.59 L862.51,181.34 L862.98,182.10 L863.44,182.86 L863.91,183.63 L864.38,184.39 L864.85,185.16 L865.31,185.94 L865.78,186.72 L866.25,187.50 L866.71,188.29 L867.18,189.08 L867.65,189.88 L868.12,190.68 L868.58,191.48 L869.05,192.29 L869.52,193.10 L869.99,193.92 L870.45,194.73 L870.92,195.56 L871.39,196.39 L871.86,197.22 L872.32,198.05 L872.79,198.89 L873.26,199.74 L873.72,200.59 L874.19,201.44 L874.66,202.30 L875.13,203.16 L875.59,204.03 L876.06,204.90 L876.53,205.77 L877.00,206.65 L877.46,207.53 L877.93,208.42 L878.40,209.31 L878.87,210.21 L879.33,211.11 L879.80,212.02 L880.27,212.93 L880.73,213.84 L881.20,214.76 L881.67,215.69 L882.14,216.62 L882.60,217.55 L883.07,218.49 L883.54,219.43 L884.01,220.38 L884.47,221.33 L884.94,222.29 L885.41,223.25 L885.88,224.21 L886.34,225.19 L886.81,226.16 L887.28,227.14 L887.74,228.13 L888.21,229.12 L888.68,230.12 L889.15,231.12 L889.61,232.12 L890.08,233.14 L890.55,234.15 L891.02,235.17 L891.48,236.20 L891.95,237.23 L892.42,238.27 L892.89,239.31 L893.35,240.36 L893.82,241.41 L894.29,242.47 L894.75,243.53 L895.22,244.60 L895.69,245.67 L896.16,246.75 L896.62,247.84 L897.09,248.93 L897.56,250.02 L898.03,251.12 L898.49,252.23 L898.96,253.34 L899.43,254.46 L899.90,255.58 L900.36,256.71 L900.83,257.84 L901.30,258.98 L901.76,260.13 L902.23,261.28 L902.70,262.44 L903.17,263.60 L903.63,264.77 L904.10,265.95 L904.57,267.13 L905.04,268.31 L905.50,269.50 L905.97,270.70 L906.44,271.91 L906.91,273.12 L907.37,274.34 L907.84,275.56 L908.31,276.79 L908.77,278.02 L909.24,279.26 L909.71,280.51 L910.18,281.76 L910.64,283.02 L911.11,284.29 L911.58,285.56 L912.05,286.84 L912.51,288.13 L912.98,289.14 L913.45,290.11 L913.92,291.04 L914.38,291.94 L914.85,292.80 L915.32,293.63 L915.78,294.42 L916.25,295.19 L916.72,295.92 L917.19,296.62 L917.65,297.30 L918.12,297.95 L918.59,298.58 L919.06,299.18 L919.52,299.76 L919.99,300.31 L920.46,300.84 L920.93,301.36 L921.39,301.85 L921.86,302.32 L922.33,302.77 L922.79,303.21 L923.26,303.63 L923.73,304.03 L924.20,304.42 L924.66,304.79 L925.13,305.15 L925.60,305.49 L926.07,305.82 L926.53,306.14 L927.00,306.44 L927.47,306.73 L927.94,307.02 L928.40,307.29 L928.87,307.54 L929.34,307.79 L929.80,308.03 L930.27,308.26 L930.74,308.48 L931.21,308.70 L931.67,308.90 L932.14,309.10 L932.61,309.28 L933.08,309.47 L933.54,309.64 L934.01,309.81 L934.48,309.97 L934.95,310.12 L935.41,310.27 L935.88,310.41 L936.35,310.55 L936.81,310.68 L937.28,310.81 L937.75,310.93 L938.22,311.04 L938.68,311.16 L939.15,311.26 L939.62,311.37 L940.09,311.47 L940.55,311.56 L941.02,311.65 L941.49,311.74 L941.96,311.83 L942.42,311.91 L942.89,311.99 L943.36,312.06 L943.82,312.13 L944.29,312.20 L944.76,312.27 L945.23,312.33 L945.69,312.39 L946.16,312.45 L946.63,312.51 L947.10,312.56 L947.56,312.62 L948.03,312.67 L948.50,312.72 L948.97,312.76 L949.43,312.81 L949.90,312.85" fill="none" stroke="#000" stroke-width="2.00"/></g>
<rect x="669.50" y="30.40" width="280.40" height="283.50" fill="none" stroke="#fff" stroke-opacity="0.55" stroke-width="4.40"/>
<path d="M688.19,313.90 V306.90 M688.19,30.40 V37.40 M734.93,313.90 V306.90 M734.93,30.40 V37.40 M781.66,313.90 V306.90 M781.66,30.40 V37.40 M828.39,313.90 V306.90 M828.39,30.40 V37.40 M875.13,313.90 V306.90 M875.13,30.40 V37.40 M921.86,313.90 V306.90 M921.86,30.40 V37.40 M669.50,257.20 H676.50 M949.90,257.20 H942.90 M669.50,200.50 H676.50 M949.90,200.50 H942.90 M669.50,143.80 H676.50 M949.90,143.80 H942.90 M669.50,87.10 H676.50 M949.90,87.10 H942.90" stroke="#000" stroke-width="1.5" fill="none"/>
<rect x="669.50" y="30.40" width="280.40" height="283.50" fill="none" stroke="#000" stroke-width="2.00"/>
<g transform="translate(0.00 0.00)"><path d="M233.3,57.3 C234.0,55.8 234.8,54.9 235.6,54.9 C236.6,54.9 236.9,55.9 236.6,57.2 C236.2,58.8 235.5,60.6 235.5,62.0 C235.5,63.4 236.3,64.0 237.2,64.0 C239.0,64.0 240.6,62.0 241.6,59.6 C242.2,58.0 242.5,56.6 242.0,55.4" fill="none" stroke="#000" stroke-width="1.4" stroke-linecap="round"/><path d="M236.6,57.2 C236.2,58.8 235.5,60.6 235.5,62.0 M241.6,59.6 C242.2,58.0 242.5,56.6 242.0,55.4" fill="none" stroke="#000" stroke-width="2.0" stroke-linecap="round"/><ellipse cx="241.9" cy="55.9" rx="0.9" ry="1.15" fill="#000"/></g>
<rect x="257.00" y="55.80" width="14.70" height="1.4" fill="#1a1a1a"/>
<rect x="257.00" y="60.05" width="14.70" height="1.4" fill="#1a1a1a"/>
<g transform="translate(0.10 26.40)"><path d="M233.3,57.3 C234.0,55.8 234.8,54.9 235.6,54.9 C236.6,54.9 236.9,55.9 236.6,57.2 C236.2,58.8 235.5,60.6 235.5,62.0 C235.5,63.4 236.3,64.0 237.2,64.0 C239.0,64.0 240.6,62.0 241.6,59.6 C242.2,58.0 242.5,56.6 242.0,55.4" fill="none" stroke="#000" stroke-width="1.4" stroke-linecap="round"/><path d="M236.6,57.2 C236.2,58.8 235.5,60.6 235.5,62.0 M241.6,59.6 C242.2,58.0 242.5,56.6 242.0,55.4" fill="none" stroke="#000" stroke-width="2.0" stroke-linecap="round"/><ellipse cx="241.9" cy="55.9" rx="0.9" ry="1.15" fill="#000"/></g>
<rect x="256.00" y="82.20" width="14.70" height="1.4" fill="#1a1a1a"/>
<rect x="256.00" y="86.45" width="14.70" height="1.4" fill="#1a1a1a"/>
<g transform="translate(0.10 50.70)"><path d="M233.3,57.3 C234.0,55.8 234.8,54.9 235.6,54.9 C236.6,54.9 236.9,55.9 236.6,57.2 C236.2,58.8 235.5,60.6 235.5,62.0 C235.5,63.4 236.3,64.0 237.2,64.0 C239.0,64.0 240.6,62.0 241.6,59.6 C242.2,58.0 242.5,56.6 242.0,55.4" fill="none" stroke="#000" stroke-width="1.4" stroke-linecap="round"/><path d="M236.6,57.2 C236.2,58.8 235.5,60.6 235.5,62.0 M241.6,59.6 C242.2,58.0 242.5,56.6 242.0,55.4" fill="none" stroke="#000" stroke-width="2.0" stroke-linecap="round"/><ellipse cx="241.9" cy="55.9" rx="0.9" ry="1.15" fill="#000"/></g>
<rect x="263.70" y="106.50" width="14.70" height="1.4" fill="#1a1a1a"/>
<rect x="263.70" y="110.75" width="14.70" height="1.4" fill="#1a1a1a"/>
<g transform="translate(296.20 0.00)"><path d="M233.3,57.3 C234.0,55.8 234.8,54.9 235.6,54.9 C236.6,54.9 236.9,55.9 236.6,57.2 C236.2,58.8 235.5,60.6 235.5,62.0 C235.5,63.4 236.3,64.0 237.2,64.0 C239.0,64.0 240.6,62.0 241.6,59.6 C242.2,58.0 242.5,56.6 242.0,55.4" fill="none" stroke="#000" stroke-width="1.4" stroke-linecap="round"/><path d="M236.6,57.2 C236.2,58.8 235.5,60.6 235.5,62.0 M241.6,59.6 C242.2,58.0 242.5,56.6 242.0,55.4" fill="none" stroke="#000" stroke-width="2.0" stroke-linecap="round"/><ellipse cx="241.9" cy="55.9" rx="0.9" ry="1.15" fill="#000"/></g>
<rect x="553.20" y="55.80" width="14.70" height="1.4" fill="#1a1a1a"/>
<rect x="553.20" y="60.05" width="14.70" height="1.4" fill="#1a1a1a"/>
<g transform="translate(296.30 26.40)"><path d="M233.3,57.3 C234.0,55.8 234.8,54.9 235.6,54.9 C236.6,54.9 236.9,55.9 236.6,57.2 C236.2,58.8 235.5,60.6 235.5,62.0 C235.5,63.4 236.3,64.0 237.2,64.0 C239.0,64.0 240.6,62.0 241.6,59.6 C242.2,58.0 242.5,56.6 242.0,55.4" fill="none" stroke="#000" stroke-width="1.4" stroke-linecap="round"/><path d="M236.6,57.2 C236.2,58.8 235.5,60.6 235.5,62.0 M241.6,59.6 C242.2,58.0 242.5,56.6 242.0,55.4" fill="none" stroke="#000" stroke-width="2.0" stroke-linecap="round"/><ellipse cx="241.9" cy="55.9" rx="0.9" ry="1.15" fill="#000"/></g>
<rect x="552.20" y="82.20" width="14.70" height="1.4" fill="#1a1a1a"/>
<rect x="552.20" y="86.45" width="14.70" height="1.4" fill="#1a1a1a"/>
<g transform="translate(296.30 50.70)"><path d="M233.3,57.3 C234.0,55.8 234.8,54.9 235.6,54.9 C236.6,54.9 236.9,55.9 236.6,57.2 C236.2,58.8 235.5,60.6 235.5,62.0 C235.5,63.4 236.3,64.0 237.2,64.0 C239.0,64.0 240.6,62.0 241.6,59.6 C242.2,58.0 242.5,56.6 242.0,55.4" fill="none" stroke="#000" stroke-width="1.4" stroke-linecap="round"/><path d="M236.6,57.2 C236.2,58.8 235.5,60.6 235.5,62.0 M241.6,59.6 C242.2,58.0 242.5,56.6 242.0,55.4" fill="none" stroke="#000" stroke-width="2.0" stroke-linecap="round"/><ellipse cx="241.9" cy="55.9" rx="0.9" ry="1.15" fill="#000"/></g>
<rect x="559.90" y="106.50" width="14.70" height="1.4" fill="#1a1a1a"/>
<rect x="559.90" y="110.75" width="14.70" height="1.4" fill="#1a1a1a"/>
<g transform="translate(592.40 0.00)"><path d="M233.3,57.3 C234.0,55.8 234.8,54.9 235.6,54.9 C236.6,54.9 236.9,55.9 236.6,57.2 C236.2,58.8 235.5,60.6 235.5,62.0 C235.5,63.4 236.3,64.0 237.2,64.0 C239.0,64.0 240.6,62.0 241.6,59.6 C242.2,58.0 242.5,56.6 242.0,55.4" fill="none" stroke="#000" stroke-width="1.4" stroke-linecap="round"/><path d="M236.6,57.2 C236.2,58.8 235.5,60.6 235.5,62.0 M241.6,59.6 C242.2,58.0 242.5,56.6 242.0,55.4" fill="none" stroke="#000" stroke-width="2.0" stroke-linecap="round"/><ellipse cx="241.9" cy="55.9" rx="0.9" ry="1.15" fill="#000"/></g>
<rect x="849.40" y="55.80" width="14.70" height="1.4" fill="#1a1a1a"/>
<rect x="849.40" y="60.05" width="14.70" height="1.4" fill="#1a1a1a"/>
<g transform="translate(592.50 26.40)"><path d="M233.3,57.3 C234.0,55.8 234.8,54.9 235.6,54.9 C236.6,54.9 236.9,55.9 236.6,57.2 C236.2,58.8 235.5,60.6 235.5,62.0 C235.5,63.4 236.3,64.0 237.2,64.0 C239.0,64.0 240.6,62.0 241.6,59.6 C242.2,58.0 242.5,56.6 242.0,55.4" fill="none" stroke="#000" stroke-width="1.4" stroke-linecap="round"/><path d="M236.6,57.2 C236.2,58.8 235.5,60.6 235.5,62.0 M241.6,59.6 C242.2,58.0 242.5,56.6 242.0,55.4" fill="none" stroke="#000" stroke-width="2.0" stroke-linecap="round"/><ellipse cx="241.9" cy="55.9" rx="0.9" ry="1.15" fill="#000"/></g>
<rect x="848.40" y="82.20" width="14.70" height="1.4" fill="#1a1a1a"/>
<rect x="848.40" y="86.45" width="14.70" height="1.4" fill="#1a1a1a"/>
<g transform="translate(592.50 50.70)"><path d="M233.3,57.3 C234.0,55.8 234.8,54.9 235.6,54.9 C236.6,54.9 236.9,55.9 236.6,57.2 C236.2,58.8 235.5,60.6 235.5,62.0 C235.5,63.4 236.3,64.0 237.2,64.0 C239.0,64.0 240.6,62.0 241.6,59.6 C242.2,58.0 242.5,56.6 242.0,55.4" fill="none" stroke="#000" stroke-width="1.4" stroke-linecap="round"/><path d="M236.6,57.2 C236.2,58.8 235.5,60.6 235.5,62.0 M241.6,59.6 C242.2,58.0 242.5,56.6 242.0,55.4" fill="none" stroke="#000" stroke-width="2.0" stroke-linecap="round"/><ellipse cx="241.9" cy="55.9" rx="0.9" ry="1.15" fill="#000"/></g>
<rect x="856.10" y="106.50" width="14.70" height="1.4" fill="#1a1a1a"/>
<rect x="856.10" y="110.75" width="14.70" height="1.4" fill="#1a1a1a"/>
<rect x="197.90" y="12.6" width="15.9" height="1.85" fill="#000"/><rect x="197.90" y="17.35" width="15.9" height="1.85" fill="#000"/>
<rect x="494.10" y="12.6" width="15.9" height="1.85" fill="#000"/><rect x="494.10" y="17.35" width="15.9" height="1.85" fill="#000"/>
<rect x="782.20" y="12.6" width="15.9" height="1.85" fill="#000"/><rect x="782.20" y="17.35" width="15.9" height="1.85" fill="#000"/>
<text transform="matrix(1.0039 0 0 1.0324 143.196 23.400)" style="font-family:'Liberation Sans',sans-serif;font-style:normal;font-size:24px">COA</text>
<text transform="matrix(1.1400 0 0 1.0353 216.160 23.500)" style="font-family:'Liberation Sans',sans-serif;font-style:normal;font-size:24px">40</text>
<text transform="matrix(1.1655 0 0 1.0462 253.969 23.500)" style="font-family:'Liberation Sans',sans-serif;font-style:normal;font-size:24px">ms</text>
<text transform="matrix(1.0039 0 0 1.0324 438.896 23.400)" style="font-family:'Liberation Sans',sans-serif;font-style:normal;font-size:24px">COA</text>
<text transform="matrix(1.1240 0 0 1.0353 511.876 23.500)" style="font-family:'Liberation Sans',sans-serif;font-style:normal;font-size:24px">80</text>
<text transform="matrix(1.1586 0 0 1.0462 550.383 23.500)" style="font-family:'Liberation Sans',sans-serif;font-style:normal;font-size:24px">ms</text>
<text transform="matrix(1.0039 0 0 1.0324 727.596 23.400)" style="font-family:'Liberation Sans',sans-serif;font-style:normal;font-size:24px">COA</text>
<text transform="matrix(1.1730 0 0 1.0353 800.454 23.500)" style="font-family:'Liberation Sans',sans-serif;font-style:normal;font-size:24px">140</text>
<text transform="matrix(1.1517 0 0 1.0462 854.297 23.500)" style="font-family:'Liberation Sans',sans-serif;font-style:normal;font-size:24px">ms</text>
<text transform="matrix(0.8820 0 0 0.9765 166.718 362.200)" style="font-family:'Liberation Sans',sans-serif;font-style:normal;font-size:24px">SOA</text>
<text transform="matrix(0.8600 0 0 0.8955 219.180 360.323)" style="font-family:'Liberation Sans',sans-serif;font-style:normal;font-size:24px">[</text>
<text transform="matrix(1.0310 0 0 1.0231 227.138 362.000)" style="font-family:'Liberation Sans',sans-serif;font-style:normal;font-size:24px">ms</text>
<text transform="matrix(0.8200 0 0 0.8955 262.200 360.323)" style="font-family:'Liberation Sans',sans-serif;font-style:normal;font-size:24px">]</text>
<text transform="matrix(0.8820 0 0 0.9765 462.918 362.200)" style="font-family:'Liberation Sans',sans-serif;font-style:normal;font-size:24px">SOA</text>
<text transform="matrix(0.8600 0 0 0.8955 515.380 360.323)" style="font-family:'Liberation Sans',sans-serif;font-style:normal;font-size:24px">[</text>
<text transform="matrix(1.0310 0 0 1.0231 523.338 362.000)" style="font-family:'Liberation Sans',sans-serif;font-style:normal;font-size:24px">ms</text>
<text transform="matrix(0.8200 0 0 0.8955 558.400 360.323)" style="font-family:'Liberation Sans',sans-serif;font-style:normal;font-size:24px">]</text>
<text transform="matrix(0.8820 0 0 0.9765 759.118 362.200)" style="font-family:'Liberation Sans',sans-serif;font-style:normal;font-size:24px">SOA</text>
<text transform="matrix(0.8600 0 0 0.8955 811.580 360.323)" style="font-family:'Liberation Sans',sans-serif;font-style:normal;font-size:24px">[</text>
<text transform="matrix(1.0310 0 0 1.0231 819.538 362.000)" style="font-family:'Liberation Sans',sans-serif;font-style:normal;font-size:24px">ms</text>
<text transform="matrix(0.8200 0 0 0.8955 854.600 360.323)" style="font-family:'Liberation Sans',sans-serif;font-style:normal;font-size:24px">]</text>
<text transform="matrix(1.0771 0 0 1.0733 71.323 337.700)" style="font-family:'Liberation Sans',sans-serif;font-style:normal;font-size:22px">−100</text>
<text transform="matrix(1.0829 0 0 1.0733 125.017 337.700)" style="font-family:'Liberation Sans',sans-serif;font-style:normal;font-size:22px">−50</text>
<text transform="matrix(1.2200 0 0 1.0733 181.980 337.700)" style="font-family:'Liberation Sans',sans-serif;font-style:normal;font-size:22px">0</text>
<text transform="matrix(1.0913 0 0 1.0733 222.209 337.700)" style="font-family:'Liberation Sans',sans-serif;font-style:normal;font-size:22px">50</text>
<text transform="matrix(1.1294 0 0 1.0733 261.841 337.700)" style="font-family:'Liberation Sans',sans-serif;font-style:normal;font-size:22px">100</text>
<text transform="matrix(1.1294 0 0 1.0733 308.041 337.700)" style="font-family:'Liberation Sans',sans-serif;font-style:normal;font-size:22px">150</text>
<text transform="matrix(1.0771 0 0 1.0733 367.523 337.700)" style="font-family:'Liberation Sans',sans-serif;font-style:normal;font-size:22px">−100</text>
<text transform="matrix(1.0829 0 0 1.0733 421.217 337.700)" style="font-family:'Liberation Sans',sans-serif;font-style:normal;font-size:22px">−50</text>
<text transform="matrix(1.2200 0 0 1.0733 478.180 337.700)" style="font-family:'Liberation Sans',sans-serif;font-style:normal;font-size:22px">0</text>
<text transform="matrix(1.0913 0 0 1.0733 518.409 337.700)" style="font-family:'Liberation Sans',sans-serif;font-style:normal;font-size:22px">50</text>
<text transform="matrix(1.1294 0 0 1.0733 558.041 337.700)" style="font-family:'Liberation Sans',sans-serif;font-style:normal;font-size:22px">100</text>
<text transform="matrix(1.1294 0 0 1.0733 604.241 337.700)" style="font-family:'Liberation Sans',sans-serif;font-style:normal;font-size:22px">150</text>
<text transform="matrix(1.0771 0 0 1.0733 663.723 337.700)" style="font-family:'Liberation Sans',sans-serif;font-style:normal;font-size:22px">−100</text>
<text transform="matrix(1.0829 0 0 1.0733 717.417 337.700)" style="font-family:'Liberation Sans',sans-serif;font-style:normal;font-size:22px">−50</text>
<text transform="matrix(1.2200 0 0 1.0733 774.380 337.700)" style="font-family:'Liberation Sans',sans-serif;font-style:normal;font-size:22px">0</text>
<text transform="matrix(1.0913 0 0 1.0733 814.609 337.700)" style="font-family:'Liberation Sans',sans-serif;font-style:normal;font-size:22px">50</text>
<text transform="matrix(1.1294 0 0 1.0733 854.241 337.700)" style="font-family:'Liberation Sans',sans-serif;font-style:normal;font-size:22px">100</text>
<text transform="matrix(1.1294 0 0 1.0733 900.441 337.700)" style="font-family:'Liberation Sans',sans-serif;font-style:normal;font-size:22px">150</text>
<text transform="matrix(1.1207 0 0 1.0667 35.179 320.400)" style="font-family:'Liberation Sans',sans-serif;font-style:normal;font-size:22px">0.0</text>
<text transform="matrix(1.1607 0 0 1.0667 35.139 263.700)" style="font-family:'Liberation Sans',sans-serif;font-style:normal;font-size:22px">0.2</text>
<text transform="matrix(1.1207 0 0 1.0667 35.179 207.000)" style="font-family:'Liberation Sans',sans-serif;font-style:normal;font-size:22px">0.4</text>
<text transform="matrix(1.1207 0 0 1.0667 35.179 150.300)" style="font-family:'Liberation Sans',sans-serif;font-style:normal;font-size:22px">0.6</text>
<text transform="matrix(1.1207 0 0 1.0667 35.179 93.600)" style="font-family:'Liberation Sans',sans-serif;font-style:normal;font-size:22px">0.8</text>
<text transform="matrix(1.1196 0 0 1.0667 35.211 36.900)" style="font-family:'Liberation Sans',sans-serif;font-style:normal;font-size:22px">1.0</text>
<text transform="translate(23.836 334.635) rotate(-90) scale(1.1675 1.0727)" style="font-family:'Liberation Sans',sans-serif;font-style:normal;font-size:24px">Relative "probe first" freq.</text>
<text transform="matrix(1.1125 0 0 0.8417 242.400 67.533)" style="font-family:'Liberation Serif',serif;font-style:italic;font-size:16px">p</text>
<text transform="matrix(0.9455 0 0 1.0200 277.100 64.400)" style="font-family:'Liberation Serif',serif;font-style:normal;font-size:23px">40</text>
<text transform="matrix(1.0625 0 0 1.0400 304.775 64.100)" style="font-family:'Liberation Sans',sans-serif;font-style:normal;font-size:22px">Hz</text>
<text transform="matrix(1.3600 0 0 0.9500 242.040 94.200)" style="font-family:'Liberation Serif',serif;font-style:italic;font-size:16px">r</text>
<text transform="matrix(0.9190 0 0 1.0200 275.781 90.800)" style="font-family:'Liberation Serif',serif;font-style:normal;font-size:23px">35</text>
<text transform="matrix(1.0500 0 0 1.0400 304.000 90.500)" style="font-family:'Liberation Sans',sans-serif;font-style:normal;font-size:22px">Hz</text>
<text transform="matrix(0.9786 0 0 0.9083 242.421 117.667)" style="font-family:'Liberation Serif',serif;font-style:italic;font-size:16px">cp</text>
<text transform="matrix(0.9625 0 0 1.0200 282.675 115.100)" style="font-family:'Liberation Serif',serif;font-style:normal;font-size:23px">1</text>
<text transform="matrix(1.0375 0 0 1.0400 301.325 114.800)" style="font-family:'Liberation Sans',sans-serif;font-style:normal;font-size:22px">Hz</text>
<text transform="matrix(1.1125 0 0 0.8417 538.600 67.533)" style="font-family:'Liberation Serif',serif;font-style:italic;font-size:16px">p</text>
<text transform="matrix(0.9800 0 0 1.0200 572.440 64.400)" style="font-family:'Liberation Serif',serif;font-style:normal;font-size:23px">70</text>
<text transform="matrix(1.0542 0 0 1.0400 600.692 64.100)" style="font-family:'Liberation Sans',sans-serif;font-style:normal;font-size:22px">Hz</text>
<text transform="matrix(1.3600 0 0 0.9500 538.240 94.200)" style="font-family:'Liberation Serif',serif;font-style:italic;font-size:16px">r</text>
<text transform="matrix(0.9952 0 0 1.0200 571.805 90.800)" style="font-family:'Liberation Serif',serif;font-style:normal;font-size:23px">30</text>
<text transform="matrix(1.0500 0 0 1.0400 600.000 90.500)" style="font-family:'Liberation Sans',sans-serif;font-style:normal;font-size:22px">Hz</text>
<text transform="matrix(0.9786 0 0 0.9083 538.621 117.667)" style="font-family:'Liberation Serif',serif;font-style:italic;font-size:16px">cp</text>
<text transform="matrix(0.9200 0 0 1.0200 578.980 115.100)" style="font-family:'Liberation Serif',serif;font-style:normal;font-size:23px">3</text>
<text transform="matrix(1.0417 0 0 1.0400 596.917 114.800)" style="font-family:'Liberation Sans',sans-serif;font-style:normal;font-size:22px">Hz</text>
<text transform="matrix(1.1125 0 0 0.8417 834.800 67.533)" style="font-family:'Liberation Serif',serif;font-style:italic;font-size:16px">p</text>
<text transform="matrix(0.9619 0 0 1.0200 868.838 64.400)" style="font-family:'Liberation Serif',serif;font-style:normal;font-size:23px">60</text>
<text transform="matrix(1.0333 0 0 1.0400 897.233 64.100)" style="font-family:'Liberation Sans',sans-serif;font-style:normal;font-size:22px">Hz</text>
<text transform="matrix(1.3600 0 0 0.9500 834.440 94.200)" style="font-family:'Liberation Serif',serif;font-style:italic;font-size:16px">r</text>
<text transform="matrix(0.9406 0 0 1.0200 867.819 90.800)" style="font-family:'Liberation Serif',serif;font-style:normal;font-size:23px">100</text>
<text transform="matrix(1.0542 0 0 1.0400 906.692 90.500)" style="font-family:'Liberation Sans',sans-serif;font-style:normal;font-size:22px">Hz</text>
<text transform="matrix(0.9786 0 0 0.9083 834.821 117.667)" style="font-family:'Liberation Serif',serif;font-style:italic;font-size:16px">cp</text>
<text transform="matrix(0.9700 0 0 1.0200 874.960 115.100)" style="font-family:'Liberation Serif',serif;font-style:normal;font-size:23px">10</text>
<text transform="matrix(1.0500 0 0 1.0400 903.400 114.800)" style="font-family:'Liberation Sans',sans-serif;font-style:normal;font-size:22px">Hz</text>
</svg>
</body></html>
